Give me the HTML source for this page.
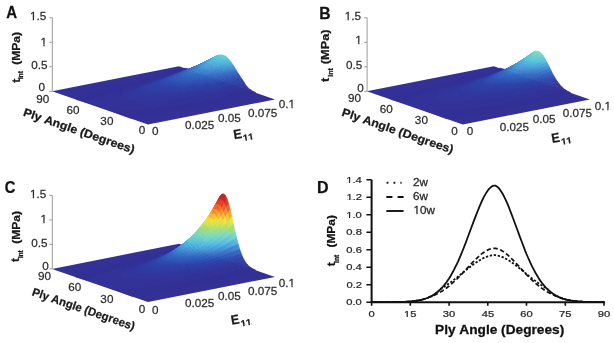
<!DOCTYPE html>
<html><head><meta charset="utf-8"><style>
html,body{margin:0;padding:0;background:#fff;width:614px;height:343px;overflow:hidden}
svg{display:block;filter:blur(.35px)}
text{font-family:"Liberation Sans",sans-serif;stroke-width:.25px;font-kerning:none}
.a{fill:#333096;stroke:#333096}.b{fill:#333399;stroke:#333399}.c{fill:#33369c;stroke:#33369c}.d{fill:#303ca2;stroke:#303ca2}.e{fill:#3042a8;stroke:#3042a8}.f{fill:#2d48ab;stroke:#2d48ab}.g{fill:#3051b4;stroke:#3051b4}.h{fill:#335dba;stroke:#335dba}.i{fill:#3366c3;stroke:#3366c3}.j{fill:#3978c9;stroke:#3978c9}.k{fill:#3f87cf;stroke:#3f87cf}.l{fill:#4599d8;stroke:#4599d8}.m{fill:#4ba5db;stroke:#4ba5db}.n{fill:#51b1db;stroke:#51b1db}.o{fill:#57bdde;stroke:#57bdde}.p{fill:#5ac6de;stroke:#5ac6de}.q{fill:#60c9d8;stroke:#60c9d8}.r{fill:#63c9d5;stroke:#63c9d5}.s{fill:#66ccd2;stroke:#66ccd2}.t{fill:#66ccd5;stroke:#66ccd5}.u{fill:#5dc6db;stroke:#5dc6db}.v{fill:#57c0de;stroke:#57c0de}.w{fill:#51b4db;stroke:#51b4db}.x{fill:#4593d5;stroke:#4593d5}.y{fill:#3c81cc;stroke:#3c81cc}.z{fill:#366cc6;stroke:#366cc6}.ab{fill:#335dbd;stroke:#335dbd}.bb{fill:#2d45ab;stroke:#2d45ab}.cb{fill:#303fa5;stroke:#303fa5}.db{fill:#30399f;stroke:#30399f}.eb{fill:#304eb1;stroke:#304eb1}.fb{fill:#3057b7;stroke:#3057b7}.gb{fill:#3363c0;stroke:#3363c0}.hb{fill:#366fc6;stroke:#366fc6}.ib{fill:#4290d2;stroke:#4290d2}.jb{fill:#489fd8;stroke:#489fd8}.kb{fill:#4eabdb;stroke:#4eabdb}.lb{fill:#5ac3de;stroke:#5ac3de}.mb{fill:#54b7db;stroke:#54b7db}.nb{fill:#4eaedb;stroke:#4eaedb}.ob{fill:#3c7bcc;stroke:#3c7bcc}.pb{fill:#3369c3;stroke:#3369c3}.qb{fill:#3051b1;stroke:#3051b1}.rb{fill:#2d42a8;stroke:#2d42a8}.sb{fill:#304bae;stroke:#304bae}.tb{fill:#3054b4;stroke:#3054b4}.ub{fill:#3360bd;stroke:#3360bd}.vb{fill:#4596d5;stroke:#4596d5}.wb{fill:#4ba2db;stroke:#4ba2db}.xb{fill:#54bade;stroke:#54bade}.yb{fill:#3f8acf;stroke:#3f8acf}.zb{fill:#335aba;stroke:#335aba}.ac{fill:#33399f;stroke:#33399f}.bc{fill:#3048ab;stroke:#3048ab}.cc{fill:#3366c0;stroke:#3366c0}.dc{fill:#3672c6;stroke:#3672c6}.ec{fill:#428dd2;stroke:#428dd2}.fc{fill:#4899d8;stroke:#4899d8}.gc{fill:#54b4db;stroke:#54b4db}.hc{fill:#4ea8db;stroke:#4ea8db}.ic{fill:#3f84cf;stroke:#3f84cf}.jc{fill:#3972c6;stroke:#3972c6}.kc{fill:#366cc3;stroke:#366cc3}.lc{fill:#4293d5;stroke:#4293d5}.mc{fill:#489cd8;stroke:#489cd8}.nc{fill:#51aedb;stroke:#51aedb}.oc{fill:#3c7ecc;stroke:#3c7ecc}.pc{fill:#3f8ad2;stroke:#3f8ad2}.qc{fill:#4ba2d8;stroke:#4ba2d8}.rc{fill:#304bb1;stroke:#304bb1}.sc{fill:#305ab7;stroke:#305ab7}.tc{fill:#3363bd;stroke:#3363bd}.uc{fill:#3f81cc;stroke:#3f81cc}.vc{fill:#48a2d8;stroke:#48a2d8}.wc{fill:#3054b7;stroke:#3054b7}.xc{fill:#3c7bc9;stroke:#3c7bc9}.yc{fill:#428ad2;stroke:#428ad2}.zc{fill:#3975c9;stroke:#3975c9}.ad{fill:#3048ae;stroke:#3048ae}.bd{fill:#3f81cf;stroke:#3f81cf}.cd{fill:#3669c3;stroke:#3669c3}.dd{fill:#305aba;stroke:#305aba}.ed{fill:#6ccfcf;stroke:#6ccfcf}.fd{fill:#72d5c6;stroke:#72d5c6}.gd{fill:#78d8c3;stroke:#78d8c3}.hd{fill:#7bd8bd;stroke:#7bd8bd}.id{fill:#7bd8c0;stroke:#7bd8c0}.jd{fill:#6fd2c9;stroke:#6fd2c9}.kd{fill:#69cfcf;stroke:#69cfcf}.ld{fill:#6fd2cc;stroke:#6fd2cc}.md{fill:#72d2c9;stroke:#72d2c9}.nd{fill:#6ccfcc;stroke:#6ccfcc}.od{fill:#54badb;stroke:#54badb}.pd{fill:#4ba8db;stroke:#4ba8db}.qd{fill:#4290d5;stroke:#4290d5}.rd{fill:#63ccd5;stroke:#63ccd5}.sd{fill:#3975c6;stroke:#3975c6}.td{fill:#57bade;stroke:#57bade}.ud{fill:#397bc9;stroke:#397bc9}.vd{fill:#87dbae;stroke:#87dbae}.wd{fill:#b4de6c;stroke:#b4de6c}.xd{fill:#ede43f;stroke:#ede43f}.yd{fill:#f3ae30;stroke:#f3ae30}.zd{fill:#f0782a;stroke:#f0782a}.ae{fill:#e74527;stroke:#e74527}.be{fill:#d83024;stroke:#d83024}.ce{fill:#c92124;stroke:#c92124}.de{fill:#ba2121;stroke:#ba2121}.ee{fill:#bd2121;stroke:#bd2121}.fe{fill:#cf2424;stroke:#cf2424}.ge{fill:#de3924;stroke:#de3924}.he{fill:#ed6627;stroke:#ed6627}.ie{fill:#f6a52d;stroke:#f6a52d}.je{fill:#eae43f;stroke:#eae43f}.ke{fill:#a8de7b;stroke:#a8de7b}.le{fill:#75d8c3;stroke:#75d8c3}.me{fill:#75d5c6;stroke:#75d5c6}.ne{fill:#9cdb8d;stroke:#9cdb8d}.oe{fill:#cce157;stroke:#cce157}.pe{fill:#f3d536;stroke:#f3d536}.qe{fill:#f6a22d;stroke:#f6a22d}.re{fill:#f0752a;stroke:#f0752a}.se{fill:#ea5427;stroke:#ea5427}.te{fill:#e13f24;stroke:#e13f24}.ue{fill:#de3624;stroke:#de3624}.ve{fill:#e44227;stroke:#e44227}.we{fill:#ed6027;stroke:#ed6027}.xe{fill:#f3902d;stroke:#f3902d}.ye{fill:#f3c936;stroke:#f3c936}.ze{fill:#cfe154;stroke:#cfe154}.af{fill:#99db90;stroke:#99db90}.bf{fill:#69ccd2;stroke:#69ccd2}.cf{fill:#aede72;stroke:#aede72}.df{fill:#dbe14b;stroke:#dbe14b}.ef{fill:#f3cc36;stroke:#f3cc36}.ff{fill:#f0812a;stroke:#f0812a}.gf{fill:#ed692a;stroke:#ed692a}.hf{fill:#ed6f2a;stroke:#ed6f2a}.if{fill:#f38d2a;stroke:#f38d2a}.jf{fill:#f3b730;stroke:#f3b730}.kf{fill:#b7de69;stroke:#b7de69}.lf{fill:#8adba8;stroke:#8adba8}.mf{fill:#96db96;stroke:#96db96}.nf{fill:#bdde66;stroke:#bdde66}.of{fill:#e4e445;stroke:#e4e445}.pf{fill:#f3992d;stroke:#f3992d}.qf{fill:#f38d2d;stroke:#f38d2d}.rf{fill:#f39c2d;stroke:#f39c2d}.sf{fill:#f3db39;stroke:#f3db39}.tf{fill:#a2de84;stroke:#a2de84}.uf{fill:#81dbb4;stroke:#81dbb4}.vf{fill:#c3e15d;stroke:#c3e15d}.wf{fill:#f3c333;stroke:#f3c333}.xf{fill:#f3b733;stroke:#f3b733}.yf{fill:#dbe14e;stroke:#dbe14e}.zf{fill:#90db9f;stroke:#90db9f}.ag{fill:#72d5c9;stroke:#72d5c9}.bg{fill:#8ddba5;stroke:#8ddba5}.cg{fill:#ede43c;stroke:#ede43c}.dg{fill:#f3de39;stroke:#f3de39}.eg{fill:#d8e14e;stroke:#d8e14e}.fg{fill:#bdde63;stroke:#bdde63}.gg{fill:#9fdb8a;stroke:#9fdb8a}.hg{fill:#81dbb7;stroke:#81dbb7}.ig{fill:#78d8c0;stroke:#78d8c0}.jg{fill:#93db9c;stroke:#93db9c}.kg{fill:#d5e151;stroke:#d5e151}.lg{fill:#cce15a;stroke:#cce15a}.mg{fill:#bade66;stroke:#bade66}.ng{fill:#a5de81;stroke:#a5de81}.og{fill:#8adba5;stroke:#8adba5}.pg{fill:#7ed8ba;stroke:#7ed8ba}.qg{fill:#b4de69;stroke:#b4de69}.rg{fill:#a2db87;stroke:#a2db87}.sg{fill:#60c6d8;stroke:#60c6d8}.tg{fill:#96db93;stroke:#96db93}.ug{fill:#6cd2cc;stroke:#6cd2cc}.vg{fill:#87dbab;stroke:#87dbab}.wg{fill:#63c9d8;stroke:#63c9d8}.xg{fill:#75d5c3;stroke:#75d5c3}.yg{fill:#69cccf;stroke:#69cccf}
</style></head><body>
<svg width="614" height="343" viewBox="0 0 614 343" font-family="Liberation Sans, sans-serif">
<rect width="614" height="343" fill="#fff"/>
<path fill="#333096" d="M148.0 124.5 L275.0 99.4 L179.0 66.2 L52.0 91.3 Z"/>
<g transform="scale(.1)" stroke-width="6">
<path class="a" d="M1918 694l-16 -1 -16 -3 -16 -4 -16 -4 -26 5 16 5 16 4 16 3 16 1z"/>
<path class="b" d="M1950 692l-16 2 -16 0 -26 6 16 1 16 -2z"/>
<path class="c" d="M1982 678l-16 9 -16 5 -26 7 16 -4 16 -8z"/>
<path class="d" d="M1998 665l-16 13 -26 9 16 -11z"/>
<path class="e" d="M2014 655l-16 10 -26 11 16 -12z"/>
<path class="f" d="M2030 646l-16 9 -26 9 16 -8z"/>
<path class="g" d="M2046 636l-16 10 -26 10 16 -10z"/>
<path class="h" d="M2062 625l-16 11 -26 10 16 -10z"/>
<path class="i" d="M2078 614l-16 11 -26 11 16 -10z"/>
<path class="j" d="M2094 602l-16 12 -26 12 16 -11z"/>
<path class="k" d="M2110 591l-16 11 -26 13 16 -11z"/>
<path class="l" d="M2126 580l-16 11 -26 13 16 -10z"/>
<path class="m" d="M2142 570l-16 10 -26 14 16 -9z"/>
<path class="n" d="M2158 561l-16 9 -26 15 16 -8z"/>
<path class="o" d="M2174 555l-16 6 -26 16 16 -6z"/>
<path class="p" d="M2190 550l-16 5 -26 16 16 -4z"/>
<path class="q" d="M2206 549l-16 1 -26 17 16 -2z"/>
<path class="r" d="M2222 550l-16 -1 -26 16 16 1z"/>
<path class="s" d="M2238 554l-16 -4 -26 16 16 5z"/>
<path class="t" d="M2254 561l-16 -7 -26 17 16 7z"/>
<path class="r" d="M2270 573l-16 -12 -26 17 16 12z"/>
<path class="u" d="M2286 589l-16 -16 -26 17 16 15z"/>
<path class="v" d="M2302 609l-16 -20 -26 16 16 18z"/>
<path class="w" d="M2318 631l-16 -22 -26 14 16 21z"/>
<path class="m" d="M2334 655l-16 -24 -26 13 16 23z"/>
<path class="x" d="M2350 681l-16 -26 -26 12 16 24z"/>
<path class="y" d="M2366 707l-16 -26 -26 10 16 25z"/>
<path class="z" d="M2382 733l-16 -26 -26 9 16 24z"/>
<path class="ab" d="M2398 758l-16 -25 -26 7 16 24z"/>
<path class="g" d="M2414 782l-16 -24 -26 6 16 23z"/>
<path class="bb" d="M2430 804l-16 -22 -26 5 16 22z"/>
<path class="cb" d="M2446 832l-16 -28 -26 5 16 27z"/>
<path class="db" d="M2462 856l-16 -24 -26 4 16 23z"/>
<path class="c" d="M2478 874l-16 -18 -26 3 16 19z"/>
<path class="b" d="M2510 901l-16 -12 -16 -15 -26 4 16 15 16 12z"/>
<path class="a" d="M2558 926l-16 -8 -16 -8 -16 -9 -26 4 16 10 16 8 16 7z"/>
<path class="a" d="M1892 700l-16 -1 -16 -3 -16 -4 -16 -5 -27 6 16 4 16 4 16 3 16 3z"/>
<path class="b" d="M1940 695l-16 4 -16 2 -16 -1 -27 7 16 0 16 -1 16 -4z"/>
<path class="c" d="M1956 687l-16 8 -27 7 16 -6z"/>
<path class="db" d="M1972 676l-16 11 -27 9 16 -10z"/>
<path class="cb" d="M1988 664l-16 12 -27 10 16 -13z"/>
<path class="bb" d="M2004 656l-16 8 -27 9 16 -8z"/>
<path class="eb" d="M2020 646l-16 10 -27 9 16 -9z"/>
<path class="fb" d="M2036 636l-16 10 -27 10 16 -9z"/>
<path class="gb" d="M2052 626l-16 10 -27 11 16 -10z"/>
<path class="hb" d="M2068 615l-16 11 -27 11 16 -10z"/>
<path class="y" d="M2084 604l-16 11 -27 12 16 -10z"/>
<path class="ib" d="M2100 594l-16 10 -27 13 16 -9z"/>
<path class="jb" d="M2116 585l-16 9 -27 14 16 -9z"/>
<path class="kb" d="M2132 577l-16 8 -27 14 16 -7z"/>
<path class="w" d="M2148 571l-16 6 -27 15 16 -6z"/>
<path class="o" d="M2164 567l-16 4 -27 15 16 -3z"/>
<path class="lb" d="M2180 565l-16 2 -27 16 16 -2z"/>
<path class="u" d="M2244 590l-16 -12 -16 -7 -16 -5 -16 -1 -27 16 16 2 16 4 16 7 16 11z"/>
<path class="v" d="M2260 605l-16 -15 -27 15 16 15z"/>
<path class="mb" d="M2276 623l-16 -18 -27 15 16 17z"/>
<path class="nb" d="M2292 644l-16 -21 -27 14 16 20z"/>
<path class="jb" d="M2308 667l-16 -23 -27 13 16 21z"/>
<path class="ib" d="M2324 691l-16 -24 -27 11 16 23z"/>
<path class="ob" d="M2340 716l-16 -25 -27 10 16 24z"/>
<path class="pb" d="M2356 740l-16 -24 -27 9 16 23z"/>
<path class="h" d="M2372 764l-16 -24 -27 8 16 23z"/>
<path class="qb" d="M2388 787l-16 -23 -27 7 16 22z"/>
<path class="bb" d="M2404 809l-16 -22 -27 6 16 21z"/>
<path class="cb" d="M2420 836l-16 -27 -27 5 16 26z"/>
<path class="db" d="M2436 859l-16 -23 -27 4 16 23z"/>
<path class="c" d="M2452 878l-16 -19 -27 4 16 19z"/>
<path class="b" d="M2484 905l-16 -12 -16 -15 -27 4 16 15 16 12z"/>
<path class="a" d="M2532 930l-16 -7 -16 -8 -16 -10 -27 4 16 10 16 9 16 7z"/>
<path class="a" d="M1865 707l-16 -3 -16 -3 -16 -4 -26 6 16 4 16 3 16 3z"/>
<path class="b" d="M1913 702l-16 4 -16 1 -16 0 -26 6 16 1 16 -1 16 -3z"/>
<path class="c" d="M1929 696l-16 6 -26 8 16 -6z"/>
<path class="db" d="M1945 686l-16 10 -26 8 16 -9z"/>
<path class="cb" d="M1961 673l-16 13 -26 9 16 -12z"/>
<path class="rb" d="M1977 665l-16 8 -26 10 16 -9z"/>
<path class="sb" d="M1993 656l-16 9 -26 9 16 -8z"/>
<path class="tb" d="M2009 647l-16 9 -26 10 16 -8z"/>
<path class="ub" d="M2025 637l-16 10 -26 11 16 -10z"/>
<path class="pb" d="M2041 627l-16 10 -26 11 16 -9z"/>
<path class="j" d="M2057 617l-16 10 -26 12 16 -9z"/>
<path class="k" d="M2073 608l-16 9 -26 13 16 -9z"/>
<path class="vb" d="M2089 599l-16 9 -26 13 16 -8z"/>
<path class="wb" d="M2105 592l-16 7 -26 14 16 -7z"/>
<path class="kb" d="M2121 586l-16 6 -26 14 16 -5z"/>
<path class="w" d="M2137 583l-16 3 -26 15 16 -3z"/>
<path class="xb" d="M2153 581l-16 2 -26 15 16 -1z"/>
<path class="v" d="M2201 594l-16 -7 -16 -4 -16 -2 -26 16 16 2 16 4 16 7z"/>
<path class="o" d="M2217 605l-16 -11 -26 16 16 11z"/>
<path class="mb" d="M2233 620l-16 -15 -26 16 16 13z"/>
<path class="n" d="M2249 637l-16 -17 -26 14 16 17z"/>
<path class="m" d="M2265 657l-16 -20 -26 14 16 18z"/>
<path class="l" d="M2281 678l-16 -21 -26 12 16 21z"/>
<path class="yb" d="M2297 701l-16 -23 -26 12 16 21z"/>
<path class="j" d="M2313 725l-16 -24 -26 10 16 23z"/>
<path class="i" d="M2329 748l-16 -23 -26 9 16 22z"/>
<path class="zb" d="M2345 771l-16 -23 -26 8 16 22z"/>
<path class="qb" d="M2361 793l-16 -22 -26 7 16 21z"/>
<path class="bb" d="M2377 814l-16 -21 -26 6 16 21z"/>
<path class="cb" d="M2393 840l-16 -26 -26 6 16 25z"/>
<path class="db" d="M2409 863l-16 -23 -26 5 16 23z"/>
<path class="c" d="M2425 882l-16 -19 -26 5 16 18z"/>
<path class="b" d="M2473 919l-16 -10 -16 -12 -16 -15 -26 4 16 15 16 13 16 10z"/>
<path class="a" d="M2521 942l-16 -7 -16 -7 -16 -9 -26 5 16 9 16 7 16 7z"/>
<path class="a" d="M1839 713l-16 -3 -16 -3 -16 -4 -27 5 16 4 16 4 16 2z"/>
<path class="b" d="M1887 710l-16 3 -16 1 -16 -1 -27 5 16 2 16 0 16 -3z"/>
<path class="c" d="M1903 704l-16 6 -27 7 16 -4z"/>
<path class="ac" d="M1919 695l-16 9 -27 9 16 -8z"/>
<path class="d" d="M1935 683l-16 12 -27 10 16 -12z"/>
<path class="e" d="M1951 674l-16 9 -27 10 16 -10z"/>
<path class="bc" d="M1967 666l-16 8 -27 9 16 -7z"/>
<path class="g" d="M1983 658l-16 8 -27 10 16 -8z"/>
<path class="zb" d="M1999 648l-16 10 -27 10 16 -9z"/>
<path class="cc" d="M2015 639l-16 9 -27 11 16 -8z"/>
<path class="dc" d="M2031 630l-16 9 -27 12 16 -9z"/>
<path class="y" d="M2047 621l-16 9 -27 12 16 -8z"/>
<path class="ec" d="M2063 613l-16 8 -27 13 16 -7z"/>
<path class="fc" d="M2079 606l-16 7 -27 14 16 -7z"/>
<path class="m" d="M2095 601l-16 5 -27 14 16 -4z"/>
<path class="kb" d="M2111 598l-16 3 -27 15 16 -3z"/>
<path class="n" d="M2127 597l-16 1 -27 15 16 -1z"/>
<path class="mb" d="M2175 610l-16 -7 -16 -4 -16 -2 -27 15 16 2 16 5 16 7z"/>
<path class="gc" d="M2191 621l-16 -11 -27 16 16 10z"/>
<path class="n" d="M2207 634l-16 -13 -27 15 16 13z"/>
<path class="hc" d="M2223 651l-16 -17 -27 15 16 15z"/>
<path class="jb" d="M2239 669l-16 -18 -27 13 16 18z"/>
<path class="x" d="M2255 690l-16 -21 -27 13 16 19z"/>
<path class="ic" d="M2271 711l-16 -21 -27 11 16 21z"/>
<path class="jc" d="M2287 734l-16 -23 -27 11 16 21z"/>
<path class="cc" d="M2303 756l-16 -22 -27 9 16 21z"/>
<path class="zb" d="M2319 778l-16 -22 -27 8 16 21z"/>
<path class="eb" d="M2335 799l-16 -21 -27 7 16 21z"/>
<path class="bb" d="M2351 820l-16 -21 -27 7 16 19z"/>
<path class="cb" d="M2367 845l-16 -25 -27 5 16 25z"/>
<path class="db" d="M2383 868l-16 -23 -27 5 16 22z"/>
<path class="c" d="M2399 886l-16 -18 -27 4 16 19z"/>
<path class="b" d="M2447 924l-16 -10 -16 -13 -16 -15 -27 5 16 15 16 12 16 11z"/>
<path class="a" d="M2495 947l-16 -7 -16 -7 -16 -9 -27 5 16 8 16 8 16 7z"/>
<path class="a" d="M1812 718l-16 -2 -16 -4 -16 -4 -26 6 16 4 16 4 16 2z"/>
<path class="b" d="M1860 717l-16 3 -16 0 -16 -2 -26 6 16 2 16 0 16 -1z"/>
<path class="c" d="M1892 705l-16 8 -16 4 -26 8 16 -4 16 -7z"/>
<path class="d" d="M1908 693l-16 12 -26 9 16 -10z"/>
<path class="cb" d="M1924 683l-16 10 -26 11 16 -12z"/>
<path class="bb" d="M1940 676l-16 7 -26 9 16 -6z"/>
<path class="eb" d="M1956 668l-16 8 -26 10 16 -8z"/>
<path class="fb" d="M1972 659l-16 9 -26 10 16 -8z"/>
<path class="ub" d="M1988 651l-16 8 -26 11 16 -8z"/>
<path class="kc" d="M2004 642l-16 9 -26 11 16 -8z"/>
<path class="j" d="M2020 634l-16 8 -26 12 16 -7z"/>
<path class="k" d="M2036 627l-16 7 -26 13 16 -7z"/>
<path class="lc" d="M2052 620l-16 7 -26 13 16 -6z"/>
<path class="mc" d="M2068 616l-16 4 -26 14 16 -4z"/>
<path class="m" d="M2084 613l-16 3 -26 14 16 -2z"/>
<path class="kb" d="M2100 612l-16 1 -26 15 16 -1z"/>
<path class="nc" d="M2116 614l-16 -2 -26 15 16 2z"/>
<path class="n" d="M2148 626l-16 -7 -16 -5 -26 15 16 5 16 7z"/>
<path class="nb" d="M2164 636l-16 -10 -26 15 16 9z"/>
<path class="hc" d="M2180 649l-16 -13 -26 14 16 13z"/>
<path class="wb" d="M2196 664l-16 -15 -26 14 16 14z"/>
<path class="l" d="M2212 682l-16 -18 -26 13 16 17z"/>
<path class="ec" d="M2228 701l-16 -19 -26 12 16 18z"/>
<path class="oc" d="M2244 722l-16 -21 -26 11 16 20z"/>
<path class="hb" d="M2260 743l-16 -21 -26 10 16 20z"/>
<path class="gb" d="M2276 764l-16 -21 -26 9 16 20z"/>
<path class="fb" d="M2292 785l-16 -21 -26 8 16 21z"/>
<path class="eb" d="M2308 806l-16 -21 -26 8 16 19z"/>
<path class="bb" d="M2324 825l-16 -19 -26 6 16 19z"/>
<path class="cb" d="M2340 850l-16 -25 -26 6 16 24z"/>
<path class="db" d="M2356 872l-16 -22 -26 5 16 22z"/>
<path class="c" d="M2372 891l-16 -19 -26 5 16 18z"/>
<path class="b" d="M2420 929l-16 -11 -16 -12 -16 -15 -26 4 16 15 16 13 16 10z"/>
<path class="a" d="M2468 952l-16 -7 -16 -8 -16 -8 -26 4 16 9 16 8 16 7z"/>
<path class="a" d="M1802 726l-16 -2 -16 -2 -16 -4 -16 -4 -27 5 16 4 16 4 16 3 16 2z"/>
<path class="b" d="M1850 721l-16 4 -16 1 -16 0 -27 6 16 1 16 -1 16 -4z"/>
<path class="c" d="M1866 714l-16 7 -27 7 16 -6z"/>
<path class="db" d="M1882 704l-16 10 -27 8 16 -8z"/>
<path class="cb" d="M1898 692l-16 12 -27 10 16 -13z"/>
<path class="rb" d="M1914 686l-16 6 -27 9 16 -6z"/>
<path class="sb" d="M1930 678l-16 8 -27 9 16 -7z"/>
<path class="tb" d="M1946 670l-16 8 -27 10 16 -7z"/>
<path class="h" d="M1962 662l-16 8 -27 11 16 -8z"/>
<path class="cc" d="M1978 654l-16 8 -27 11 16 -7z"/>
<path class="dc" d="M1994 647l-16 7 -27 12 16 -7z"/>
<path class="oc" d="M2010 640l-16 7 -27 12 16 -6z"/>
<path class="pc" d="M2026 634l-16 6 -27 13 16 -6z"/>
<path class="x" d="M2042 630l-16 4 -27 13 16 -3z"/>
<path class="mc" d="M2058 628l-16 2 -27 14 16 -2z"/>
<path class="wb" d="M2074 627l-16 1 -27 14 16 0z"/>
<path class="m" d="M2090 629l-16 -2 -27 15 16 2z"/>
<path class="hc" d="M2122 641l-16 -7 -16 -5 -27 15 16 4 16 7z"/>
<path class="m" d="M2138 650l-16 -9 -27 14 16 9z"/>
<path class="qc" d="M2154 663l-16 -13 -27 14 16 12z"/>
<path class="mc" d="M2170 677l-16 -14 -27 13 16 14z"/>
<path class="ib" d="M2186 694l-16 -17 -27 13 16 16z"/>
<path class="ic" d="M2202 712l-16 -18 -27 12 16 18z"/>
<path class="j" d="M2218 732l-16 -20 -27 12 16 18z"/>
<path class="kc" d="M2234 752l-16 -20 -27 10 16 19z"/>
<path class="ub" d="M2250 772l-16 -20 -27 9 16 20z"/>
<path class="fb" d="M2266 793l-16 -21 -27 9 16 19z"/>
<path class="rc" d="M2282 812l-16 -19 -27 7 16 19z"/>
<path class="bb" d="M2298 831l-16 -19 -27 7 16 18z"/>
<path class="cb" d="M2314 855l-16 -24 -27 6 16 24z"/>
<path class="db" d="M2330 877l-16 -22 -27 6 16 21z"/>
<path class="c" d="M2346 895l-16 -18 -27 5 16 18z"/>
<path class="b" d="M2394 933l-16 -10 -16 -13 -16 -15 -27 5 16 15 16 12 16 11z"/>
<path class="a" d="M2442 957l-16 -7 -16 -8 -16 -9 -27 5 16 9 16 8 16 7z"/>
<path class="a" d="M1775 732l-16 -2 -16 -3 -16 -4 -16 -4 -26 5 16 5 16 4 16 3 16 2z"/>
<path class="b" d="M1823 728l-16 4 -16 1 -16 -1 -26 6 16 1 16 0 16 -3z"/>
<path class="c" d="M1839 722l-16 6 -26 8 16 -5z"/>
<path class="db" d="M1855 714l-16 8 -26 9 16 -8z"/>
<path class="d" d="M1871 701l-16 13 -26 9 16 -11z"/>
<path class="e" d="M1887 695l-16 6 -26 11 16 -8z"/>
<path class="bc" d="M1903 688l-16 7 -26 9 16 -6z"/>
<path class="qb" d="M1919 681l-16 7 -26 10 16 -7z"/>
<path class="sc" d="M1935 673l-16 8 -26 10 16 -7z"/>
<path class="tc" d="M1951 666l-16 7 -26 11 16 -7z"/>
<path class="kc" d="M1967 659l-16 7 -26 11 16 -6z"/>
<path class="j" d="M1983 653l-16 6 -26 12 16 -6z"/>
<path class="uc" d="M1999 647l-16 6 -26 12 16 -5z"/>
<path class="ec" d="M2015 644l-16 3 -26 13 16 -3z"/>
<path class="x" d="M2031 642l-16 2 -26 13 16 -2z"/>
<path class="mc" d="M2047 642l-16 0 -26 13 16 1z"/>
<path class="jb" d="M2063 644l-16 -2 -26 14 16 2z"/>
<path class="vc" d="M2095 655l-16 -7 -16 -4 -26 14 16 4 16 7z"/>
<path class="jb" d="M2111 664l-16 -9 -26 14 16 9z"/>
<path class="l" d="M2127 676l-16 -12 -26 14 16 12z"/>
<path class="x" d="M2143 690l-16 -14 -26 14 16 13z"/>
<path class="pc" d="M2159 706l-16 -16 -26 13 16 15z"/>
<path class="oc" d="M2175 724l-16 -18 -26 12 16 17z"/>
<path class="jc" d="M2191 742l-16 -18 -26 11 16 17z"/>
<path class="i" d="M2207 761l-16 -19 -26 10 16 18z"/>
<path class="h" d="M2223 781l-16 -20 -26 9 16 19z"/>
<path class="tb" d="M2239 800l-16 -19 -26 8 16 18z"/>
<path class="sb" d="M2255 819l-16 -19 -26 7 16 19z"/>
<path class="rb" d="M2271 837l-16 -18 -26 7 16 17z"/>
<path class="cb" d="M2287 861l-16 -24 -26 6 16 24z"/>
<path class="db" d="M2303 882l-16 -21 -26 6 16 20z"/>
<path class="c" d="M2319 900l-16 -18 -26 5 16 18z"/>
<path class="b" d="M2367 938l-16 -11 -16 -12 -16 -15 -26 5 16 14 16 13 16 10z"/>
<path class="a" d="M2431 968l-16 -6 -16 -7 -16 -8 -16 -9 -26 4 16 10 16 8 16 7 16 6z"/>
<path class="a" d="M1749 738l-16 -2 -16 -3 -16 -4 -16 -5 -27 6 16 4 16 4 16 4 16 2z"/>
<path class="b" d="M1797 736l-16 3 -16 0 -16 -1 -27 6 16 2 16 -1 16 -2z"/>
<path class="c" d="M1829 723l-16 8 -16 5 -27 7 16 -4 16 -7z"/>
<path class="d" d="M1845 712l-16 11 -27 9 16 -9z"/>
<path class="cb" d="M1861 704l-16 8 -27 11 16 -10z"/>
<path class="bb" d="M1877 698l-16 6 -27 9 16 -6z"/>
<path class="eb" d="M1893 691l-16 7 -27 9 16 -6z"/>
<path class="wc" d="M1909 684l-16 7 -27 10 16 -6z"/>
<path class="ab" d="M1925 677l-16 7 -27 11 16 -7z"/>
<path class="cc" d="M1941 671l-16 6 -27 11 16 -6z"/>
<path class="hb" d="M1957 665l-16 6 -27 11 16 -5z"/>
<path class="xc" d="M1973 660l-16 5 -27 12 16 -4z"/>
<path class="ic" d="M1989 657l-16 3 -27 13 16 -3z"/>
<path class="ec" d="M2005 655l-16 2 -27 13 16 -1z"/>
<path class="x" d="M2021 656l-16 -1 -27 14 16 0z"/>
<path class="vb" d="M2037 658l-16 -2 -27 13 16 3z"/>
<path class="l" d="M2069 669l-16 -7 -16 -4 -27 14 16 4 16 7z"/>
<path class="vb" d="M2085 678l-16 -9 -27 14 16 9z"/>
<path class="lc" d="M2101 690l-16 -12 -27 14 16 11z"/>
<path class="yc" d="M2117 703l-16 -13 -27 13 16 12z"/>
<path class="ic" d="M2133 718l-16 -15 -27 12 16 15z"/>
<path class="j" d="M2149 735l-16 -17 -27 12 16 15z"/>
<path class="hb" d="M2165 752l-16 -17 -27 10 16 17z"/>
<path class="gb" d="M2181 770l-16 -18 -27 10 16 18z"/>
<path class="zb" d="M2197 789l-16 -19 -27 10 16 17z"/>
<path class="g" d="M2213 807l-16 -18 -27 8 16 18z"/>
<path class="sb" d="M2229 826l-16 -19 -27 8 16 17z"/>
<path class="rb" d="M2245 843l-16 -17 -27 6 16 18z"/>
<path class="cb" d="M2261 867l-16 -24 -27 7 16 23z"/>
<path class="db" d="M2277 887l-16 -20 -27 6 16 20z"/>
<path class="c" d="M2293 905l-16 -18 -27 6 16 17z"/>
<path class="b" d="M2341 942l-16 -10 -16 -13 -16 -14 -27 5 16 14 16 13 16 10z"/>
<path class="a" d="M2405 973l-16 -6 -16 -7 -16 -8 -16 -10 -27 5 16 9 16 8 16 8 16 6z"/>
<path class="a" d="M1722 744l-16 -2 -16 -4 -16 -4 -26 6 16 4 16 3 16 3z"/>
<path class="b" d="M1770 743l-16 2 -16 1 -16 -2 -26 6 16 2 16 0 16 -1z"/>
<path class="c" d="M1802 732l-16 7 -16 4 -26 8 16 -4 16 -6z"/>
<path class="db" d="M1818 723l-16 9 -26 9 16 -8z"/>
<path class="cb" d="M1834 713l-16 10 -26 10 16 -11z"/>
<path class="rb" d="M1850 707l-16 6 -26 9 16 -6z"/>
<path class="sb" d="M1866 701l-16 6 -26 9 16 -5z"/>
<path class="g" d="M1882 695l-16 6 -26 10 16 -6z"/>
<path class="zb" d="M1898 688l-16 7 -26 10 16 -6z"/>
<path class="tc" d="M1914 682l-16 6 -26 11 16 -5z"/>
<path class="pb" d="M1930 677l-16 5 -26 12 16 -5z"/>
<path class="zc" d="M1946 673l-16 4 -26 12 16 -4z"/>
<path class="oc" d="M1962 670l-16 3 -26 12 16 -2z"/>
<path class="ic" d="M1978 669l-16 1 -26 13 16 -1z"/>
<path class="pc" d="M1994 669l-16 0 -26 13 16 0z"/>
<path class="ec" d="M2010 672l-16 -3 -26 13 16 3z"/>
<path class="ib" d="M2042 683l-16 -7 -16 -4 -26 13 16 5 16 6z"/>
<path class="ec" d="M2058 692l-16 -9 -26 13 16 9z"/>
<path class="pc" d="M2074 703l-16 -11 -26 13 16 10z"/>
<path class="ic" d="M2090 715l-16 -12 -26 12 16 12z"/>
<path class="ob" d="M2106 730l-16 -15 -26 12 16 14z"/>
<path class="jc" d="M2122 745l-16 -15 -26 11 16 15z"/>
<path class="pb" d="M2138 762l-16 -17 -26 11 16 16z"/>
<path class="ub" d="M2154 780l-16 -18 -26 10 16 17z"/>
<path class="sc" d="M2170 797l-16 -17 -26 9 16 17z"/>
<path class="qb" d="M2186 815l-16 -18 -26 9 16 17z"/>
<path class="ad" d="M2202 832l-16 -17 -26 8 16 16z"/>
<path class="rb" d="M2218 850l-16 -18 -26 7 16 18z"/>
<path class="cb" d="M2234 873l-16 -23 -26 7 16 22z"/>
<path class="db" d="M2250 893l-16 -20 -26 6 16 19z"/>
<path class="c" d="M2266 910l-16 -17 -26 5 16 17z"/>
<path class="b" d="M2314 947l-16 -10 -16 -13 -16 -14 -26 5 16 14 16 12 16 11z"/>
<path class="a" d="M2378 978l-16 -6 -16 -8 -16 -8 -16 -9 -26 5 16 9 16 8 16 8 16 6z"/>
<path class="a" d="M1696 750l-16 -3 -16 -3 -16 -4 -27 5 16 4 16 4 16 3z"/>
<path class="b" d="M1760 747l-16 4 -16 1 -16 0 -16 -2 -27 6 16 2 16 1 16 -1 16 -3z"/>
<path class="c" d="M1776 741l-16 6 -27 8 16 -5z"/>
<path class="db" d="M1792 733l-16 8 -27 9 16 -7z"/>
<path class="cb" d="M1808 722l-16 11 -27 10 16 -10z"/>
<path class="e" d="M1824 716l-16 6 -27 11 16 -7z"/>
<path class="f" d="M1840 711l-16 5 -27 10 16 -6z"/>
<path class="eb" d="M1856 705l-16 6 -27 9 16 -5z"/>
<path class="fb" d="M1872 699l-16 6 -27 10 16 -5z"/>
<path class="ab" d="M1888 694l-16 5 -27 11 16 -5z"/>
<path class="cc" d="M1904 689l-16 5 -27 11 16 -4z"/>
<path class="z" d="M1920 685l-16 4 -27 12 16 -4z"/>
<path class="zc" d="M1936 683l-16 2 -27 12 16 -2z"/>
<path class="oc" d="M1952 682l-16 1 -27 12 16 -1z"/>
<path class="bd" d="M1968 682l-16 0 -27 12 16 1z"/>
<path class="k" d="M2032 705l-16 -9 -16 -6 -16 -5 -16 -3 -27 13 16 3 16 5 16 6 16 8z"/>
<path class="bd" d="M2048 715l-16 -10 -27 12 16 11z"/>
<path class="oc" d="M2064 727l-16 -12 -27 13 16 11z"/>
<path class="zc" d="M2080 741l-16 -14 -27 12 16 13z"/>
<path class="z" d="M2096 756l-16 -15 -27 11 16 15z"/>
<path class="cc" d="M2112 772l-16 -16 -27 11 16 15z"/>
<path class="h" d="M2128 789l-16 -17 -27 10 16 16z"/>
<path class="fb" d="M2144 806l-16 -17 -27 9 16 16z"/>
<path class="eb" d="M2160 823l-16 -17 -27 8 16 16z"/>
<path class="f" d="M2176 839l-16 -16 -27 7 16 16z"/>
<path class="e" d="M2192 857l-16 -18 -27 7 16 18z"/>
<path class="cb" d="M2208 879l-16 -22 -27 7 16 21z"/>
<path class="db" d="M2224 898l-16 -19 -27 6 16 19z"/>
<path class="c" d="M2240 915l-16 -17 -27 6 16 16z"/>
<path class="b" d="M2304 961l-16 -9 -16 -11 -16 -12 -16 -14 -27 5 16 14 16 12 16 11 16 9z"/>
<path class="a" d="M2352 983l-16 -6 -16 -8 -16 -8 -27 5 16 8 16 8 16 6z"/>
<path class="a" d="M1685 758l-16 -2 -16 -3 -16 -4 -16 -4 -26 6 16 4 16 4 16 3 16 2z"/>
<path class="b" d="M1733 755l-16 3 -16 1 -16 -1 -26 6 16 1 16 0 16 -2z"/>
<path class="c" d="M1749 750l-16 5 -26 8 16 -5z"/>
<path class="db" d="M1765 743l-16 7 -26 8 16 -6z"/>
<path class="d" d="M1781 733l-16 10 -26 9 16 -9z"/>
<path class="cb" d="M1797 726l-16 7 -26 10 16 -9z"/>
<path class="bb" d="M1813 720l-16 6 -26 8 16 -4z"/>
<path class="sb" d="M1829 715l-16 5 -26 10 16 -5z"/>
<path class="tb" d="M1845 710l-16 5 -26 10 16 -5z"/>
<path class="zb" d="M1861 705l-16 5 -26 10 16 -4z"/>
<path class="ub" d="M1877 701l-16 4 -26 11 16 -4z"/>
<path class="i" d="M1893 697l-16 4 -26 11 16 -3z"/>
<path class="hb" d="M1909 695l-16 2 -26 12 16 -2z"/>
<path class="zc" d="M1925 694l-16 1 -26 12 16 0z"/>
<path class="xc" d="M1941 695l-16 -1 -26 13 16 1z"/>
<path class="oc" d="M1957 698l-16 -3 -26 13 16 3z"/>
<path class="y" d="M1989 709l-16 -6 -16 -5 -26 13 16 4 16 7z"/>
<path class="oc" d="M2005 717l-16 -8 -26 13 16 8z"/>
<path class="ob" d="M2021 728l-16 -11 -26 13 16 10z"/>
<path class="zc" d="M2037 739l-16 -11 -26 12 16 11z"/>
<path class="hb" d="M2053 752l-16 -13 -26 12 16 12z"/>
<path class="pb" d="M2069 767l-16 -15 -26 11 16 14z"/>
<path class="tc" d="M2085 782l-16 -15 -26 10 16 15z"/>
<path class="zb" d="M2101 798l-16 -16 -26 10 16 15z"/>
<path class="tb" d="M2117 814l-16 -16 -26 9 16 15z"/>
<path class="eb" d="M2133 830l-16 -16 -26 8 16 16z"/>
<path class="bb" d="M2149 846l-16 -16 -26 8 16 16z"/>
<path class="e" d="M2165 864l-16 -18 -26 8 16 17z"/>
<path class="d" d="M2181 885l-16 -21 -26 7 16 21z"/>
<path class="db" d="M2197 904l-16 -19 -26 7 16 18z"/>
<path class="c" d="M2213 920l-16 -16 -26 6 16 15z"/>
<path class="b" d="M2277 966l-16 -9 -16 -11 -16 -12 -16 -14 -26 5 16 14 16 12 16 11 16 9z"/>
<path class="a" d="M2325 988l-16 -6 -16 -8 -16 -8 -26 5 16 8 16 8 16 6z"/>
<path class="a" d="M1659 764l-16 -2 -16 -3 -16 -4 -16 -4 -27 5 16 4 16 4 16 4 16 2z"/>
<path class="b" d="M1707 763l-16 2 -16 0 -16 -1 -27 6 16 2 16 0 16 -2z"/>
<path class="c" d="M1739 752l-16 6 -16 5 -27 7 16 -3 16 -6z"/>
<path class="d" d="M1755 743l-16 9 -27 9 16 -8z"/>
<path class="cb" d="M1771 734l-16 9 -27 10 16 -10z"/>
<path class="rb" d="M1787 730l-16 4 -27 9 16 -4z"/>
<path class="ad" d="M1803 725l-16 5 -27 9 16 -4z"/>
<path class="qb" d="M1819 720l-16 5 -27 10 16 -5z"/>
<path class="fb" d="M1835 716l-16 4 -27 10 16 -4z"/>
<path class="h" d="M1851 712l-16 4 -27 10 16 -3z"/>
<path class="gb" d="M1867 709l-16 3 -27 11 16 -3z"/>
<path class="pb" d="M1883 707l-16 2 -27 11 16 -1z"/>
<path class="hb" d="M1899 707l-16 0 -27 12 16 0z"/>
<path class="zc" d="M1915 708l-16 -1 -27 12 16 1z"/>
<path class="j" d="M1979 730l-16 -8 -16 -7 -16 -4 -16 -3 -27 12 16 3 16 5 16 6 16 8z"/>
<path class="zc" d="M1995 740l-16 -10 -27 12 16 9z"/>
<path class="hb" d="M2011 751l-16 -11 -27 11 16 11z"/>
<path class="pb" d="M2027 763l-16 -12 -27 11 16 12z"/>
<path class="gb" d="M2043 777l-16 -14 -27 11 16 13z"/>
<path class="ab" d="M2059 792l-16 -15 -27 10 16 14z"/>
<path class="fb" d="M2075 807l-16 -15 -27 9 16 15z"/>
<path class="g" d="M2091 822l-16 -15 -27 9 16 15z"/>
<path class="sb" d="M2107 838l-16 -16 -27 9 16 15z"/>
<path class="bb" d="M2123 854l-16 -16 -27 8 16 15z"/>
<path class="e" d="M2139 871l-16 -17 -27 7 16 18z"/>
<path class="d" d="M2155 892l-16 -21 -27 8 16 19z"/>
<path class="db" d="M2171 910l-16 -18 -27 6 16 18z"/>
<path class="c" d="M2187 925l-16 -15 -27 6 16 15z"/>
<path class="b" d="M2251 971l-16 -9 -16 -11 -16 -12 -16 -14 -27 6 16 13 16 12 16 11 16 9z"/>
<path class="a" d="M2299 993l-16 -6 -16 -8 -16 -8 -27 5 16 8 16 8 16 6z"/>
<path class="a" d="M1632 770l-16 -2 -16 -4 -16 -4 -16 -4 -26 5 16 5 16 4 16 3 16 3z"/>
<path class="b" d="M1680 770l-16 2 -16 0 -16 -2 -26 6 16 2 16 0 16 -1z"/>
<path class="c" d="M1712 761l-16 6 -16 3 -26 7 16 -2 16 -5z"/>
<path class="db" d="M1728 753l-16 8 -26 9 16 -7z"/>
<path class="cb" d="M1744 743l-16 10 -26 10 16 -9z"/>
<path class="e" d="M1760 739l-16 4 -26 11 16 -6z"/>
<path class="bb" d="M1776 735l-16 4 -26 9 16 -4z"/>
<path class="rc" d="M1792 730l-16 5 -26 9 16 -4z"/>
<path class="tb" d="M1808 726l-16 4 -26 10 16 -3z"/>
<path class="sc" d="M1824 723l-16 3 -26 11 16 -3z"/>
<path class="ub" d="M1840 720l-16 3 -26 11 16 -2z"/>
<path class="gb" d="M1856 719l-16 1 -26 12 16 -2z"/>
<path class="pb" d="M1872 719l-16 0 -26 11 16 0z"/>
<path class="z" d="M1888 720l-16 -1 -26 11 16 2z"/>
<path class="dc" d="M1904 723l-16 -3 -26 12 16 3z"/>
<path class="jc" d="M1936 734l-16 -6 -16 -5 -26 12 16 5 16 6z"/>
<path class="dc" d="M1952 742l-16 -8 -26 12 16 8z"/>
<path class="hb" d="M1968 751l-16 -9 -26 12 16 9z"/>
<path class="pb" d="M1984 762l-16 -11 -26 12 16 10z"/>
<path class="cc" d="M2000 774l-16 -12 -26 11 16 12z"/>
<path class="ub" d="M2016 787l-16 -13 -26 11 16 12z"/>
<path class="zb" d="M2032 801l-16 -14 -26 10 16 14z"/>
<path class="wc" d="M2048 816l-16 -15 -26 10 16 14z"/>
<path class="eb" d="M2064 831l-16 -15 -26 9 16 14z"/>
<path class="ad" d="M2080 846l-16 -15 -26 8 16 14z"/>
<path class="rb" d="M2096 861l-16 -15 -26 7 16 15z"/>
<path class="cb" d="M2112 879l-16 -18 -26 7 16 19z"/>
<path class="d" d="M2128 898l-16 -19 -26 8 16 18z"/>
<path class="db" d="M2144 916l-16 -18 -26 7 16 17z"/>
<path class="c" d="M2160 931l-16 -15 -26 6 16 14z"/>
<path class="b" d="M2224 976l-16 -9 -16 -11 -16 -12 -16 -13 -26 5 16 14 16 11 16 11 16 9z"/>
<path class="a" d="M2288 1005l-16 -7 -16 -6 -16 -8 -16 -8 -26 5 16 8 16 8 16 7 16 6z"/>
<path class="a" d="M1606 776l-16 -3 -16 -3 -16 -4 -26 5 16 5 16 3 16 3z"/>
<path class="b" d="M1670 775l-16 2 -16 1 -16 0 -16 -2 -26 6 16 2 16 1 16 -1 16 -2z"/>
<path class="c" d="M1686 770l-16 5 -26 7 16 -4z"/>
<path class="db" d="M1702 763l-16 7 -26 8 16 -5z"/>
<path class="d" d="M1718 754l-16 9 -26 10 16 -8z"/>
<path class="cb" d="M1734 748l-16 6 -26 11 16 -8z"/>
<path class="rb" d="M1750 744l-16 4 -26 9 16 -4z"/>
<path class="ad" d="M1766 740l-16 4 -26 9 16 -3z"/>
<path class="qb" d="M1782 737l-16 3 -26 10 16 -3z"/>
<path class="fb" d="M1798 734l-16 3 -26 10 16 -3z"/>
<path class="zb" d="M1814 732l-16 2 -26 10 16 -2z"/>
<path class="ub" d="M1830 730l-16 2 -26 10 16 -1z"/>
<path class="gb" d="M1846 730l-16 0 -26 11 16 1z"/>
<path class="pb" d="M1878 735l-16 -3 -16 -2 -26 12 16 1 16 4z"/>
<path class="kc" d="M1910 746l-16 -6 -16 -5 -26 12 16 4 16 7z"/>
<path class="cd" d="M1926 754l-16 -8 -26 12 16 7z"/>
<path class="pb" d="M1942 763l-16 -9 -26 11 16 9z"/>
<path class="cc" d="M1958 773l-16 -10 -26 11 16 10z"/>
<path class="ub" d="M1974 785l-16 -12 -26 11 16 11z"/>
<path class="h" d="M1990 797l-16 -12 -26 10 16 12z"/>
<path class="fb" d="M2006 811l-16 -14 -26 10 16 13z"/>
<path class="g" d="M2022 825l-16 -14 -26 9 16 14z"/>
<path class="eb" d="M2038 839l-16 -14 -26 9 16 13z"/>
<path class="f" d="M2054 853l-16 -14 -26 8 16 14z"/>
<path class="rb" d="M2070 868l-16 -15 -26 8 16 14z"/>
<path class="cb" d="M2086 887l-16 -19 -26 7 16 19z"/>
<path class="d" d="M2102 905l-16 -18 -26 7 16 18z"/>
<path class="db" d="M2118 922l-16 -17 -26 7 16 16z"/>
<path class="c" d="M2134 936l-16 -14 -26 6 16 14z"/>
<path class="b" d="M2198 981l-16 -9 -16 -11 -16 -11 -16 -14 -26 6 16 13 16 11 16 11 16 9z"/>
<path class="a" d="M2262 1010l-16 -6 -16 -7 -16 -8 -16 -8 -26 5 16 8 16 8 16 7 16 6z"/>
<path class="a" d="M1596 784l-16 -2 -16 -3 -16 -3 -16 -5 -27 6 16 4 16 4 16 3 16 2z"/>
<path class="b" d="M1644 782l-16 2 -16 1 -16 -1 -27 6 16 1 16 0 16 -1z"/>
<path class="c" d="M1676 773l-16 5 -16 4 -27 8 16 -3 16 -5z"/>
<path class="d" d="M1692 765l-16 8 -27 9 16 -7z"/>
<path class="cb" d="M1708 757l-16 8 -27 10 16 -8z"/>
<path class="rb" d="M1724 753l-16 4 -27 10 16 -4z"/>
<path class="bb" d="M1740 750l-16 3 -27 10 16 -3z"/>
<path class="rc" d="M1756 747l-16 3 -27 10 16 -3z"/>
<path class="g" d="M1772 744l-16 3 -27 10 16 -2z"/>
<path class="fb" d="M1788 742l-16 2 -27 11 16 -2z"/>
<path class="h" d="M1804 741l-16 1 -27 11 16 -1z"/>
<path class="ub" d="M1820 742l-16 -1 -27 11 16 1z"/>
<path class="gb" d="M1836 743l-16 -1 -27 11 16 2z"/>
<path class="cc" d="M1900 765l-16 -7 -16 -7 -16 -4 -16 -4 -27 12 16 3 16 5 16 6 16 7z"/>
<path class="gb" d="M1916 774l-16 -9 -27 11 16 9z"/>
<path class="ub" d="M1932 784l-16 -10 -27 11 16 10z"/>
<path class="h" d="M1948 795l-16 -11 -27 11 16 11z"/>
<path class="dd" d="M1964 807l-16 -12 -27 11 16 11z"/>
<path class="tb" d="M1980 820l-16 -13 -27 10 16 12z"/>
<path class="qb" d="M1996 834l-16 -14 -27 9 16 13z"/>
<path class="sb" d="M2012 847l-16 -13 -27 8 16 14z"/>
<path class="bb" d="M2028 861l-16 -14 -27 9 16 13z"/>
<path class="e" d="M2044 875l-16 -14 -27 8 16 15z"/>
<path class="cb" d="M2060 894l-16 -19 -27 9 16 18z"/>
<path class="d" d="M2076 912l-16 -18 -27 8 16 17z"/>
<path class="c" d="M2108 942l-16 -14 -16 -16 -27 7 16 15 16 14z"/>
<path class="b" d="M2172 986l-16 -9 -16 -11 -16 -11 -16 -13 -27 6 16 12 16 12 16 10 16 9z"/>
<path class="a" d="M2236 1015l-16 -6 -16 -7 -16 -8 -16 -8 -27 5 16 8 16 8 16 7 16 6z"/>
<path class="a" d="M1569 790l-16 -2 -16 -3 -16 -4 -16 -4 -26 5 16 5 16 3 16 4 16 2z"/>
<path class="b" d="M1617 790l-16 1 -16 0 -16 -1 -26 6 16 2 16 0 16 -1z"/>
<path class="c" d="M1649 782l-16 5 -16 3 -26 7 16 -2 16 -4z"/>
<path class="db" d="M1665 775l-16 7 -26 9 16 -6z"/>
<path class="d" d="M1681 767l-16 8 -26 10 16 -7z"/>
<path class="e" d="M1697 763l-16 4 -26 11 16 -6z"/>
<path class="bb" d="M1713 760l-16 3 -26 9 16 -3z"/>
<path class="ad" d="M1729 757l-16 3 -26 9 16 -3z"/>
<path class="eb" d="M1745 755l-16 2 -26 9 16 -1z"/>
<path class="tb" d="M1761 753l-16 2 -26 10 16 -2z"/>
<path class="fb" d="M1777 752l-16 1 -26 10 16 0z"/>
<path class="h" d="M1793 753l-16 -1 -26 11 16 1z"/>
<path class="ub" d="M1825 758l-16 -3 -16 -2 -26 11 16 2 16 3z"/>
<path class="tc" d="M1857 769l-16 -6 -16 -5 -26 11 16 5 16 6z"/>
<path class="ub" d="M1889 785l-16 -9 -16 -7 -26 11 16 7 16 9z"/>
<path class="h" d="M1905 795l-16 -10 -26 11 16 9z"/>
<path class="zb" d="M1921 806l-16 -11 -26 10 16 11z"/>
<path class="fb" d="M1937 817l-16 -11 -26 10 16 11z"/>
<path class="g" d="M1953 829l-16 -12 -26 10 16 12z"/>
<path class="eb" d="M1969 842l-16 -13 -26 10 16 12z"/>
<path class="ad" d="M1985 856l-16 -14 -26 9 16 13z"/>
<path class="bb" d="M2001 869l-16 -13 -26 8 16 13z"/>
<path class="e" d="M2017 884l-16 -15 -26 8 16 15z"/>
<path class="cb" d="M2033 902l-16 -18 -26 8 16 18z"/>
<path class="db" d="M2049 919l-16 -17 -26 8 16 16z"/>
<path class="c" d="M2081 948l-16 -14 -16 -15 -26 7 16 14 16 14z"/>
<path class="b" d="M2145 991l-16 -9 -16 -10 -16 -12 -16 -12 -26 6 16 12 16 11 16 10 16 9z"/>
<path class="a" d="M2209 1020l-16 -6 -16 -7 -16 -8 -16 -8 -26 5 16 8 16 8 16 7 16 6z"/>
<path class="a" d="M1543 796l-16 -2 -16 -4 -16 -3 -16 -5 -27 6 16 4 16 4 16 4 16 2z"/>
<path class="b" d="M1607 795l-16 2 -16 1 -16 0 -16 -2 -27 6 16 2 16 1 16 -1 16 -2z"/>
<path class="c" d="M1623 791l-16 4 -27 7 16 -3z"/>
<path class="db" d="M1639 785l-16 6 -27 8 16 -5z"/>
<path class="d" d="M1655 778l-16 7 -27 9 16 -6z"/>
<path class="cb" d="M1671 772l-16 6 -27 10 16 -8z"/>
<path class="rb" d="M1687 769l-16 3 -27 8 16 -2z"/>
<path class="bb" d="M1703 766l-16 3 -27 9 16 -2z"/>
<path class="sb" d="M1719 765l-16 1 -27 10 16 -2z"/>
<path class="qb" d="M1735 763l-16 2 -27 9 16 -1z"/>
<path class="tb" d="M1751 763l-16 0 -27 10 16 0z"/>
<path class="fb" d="M1767 764l-16 -1 -27 10 16 1z"/>
<path class="zb" d="M1783 766l-16 -2 -27 10 16 3z"/>
<path class="h" d="M1799 769l-16 -3 -27 11 16 3z"/>
<path class="ab" d="M1831 780l-16 -6 -16 -5 -27 11 16 5 16 6z"/>
<path class="h" d="M1863 796l-16 -9 -16 -7 -27 11 16 7 16 8z"/>
<path class="zb" d="M1879 805l-16 -9 -27 10 16 9z"/>
<path class="fb" d="M1895 816l-16 -11 -27 10 16 10z"/>
<path class="tb" d="M1911 827l-16 -11 -27 9 16 11z"/>
<path class="eb" d="M1927 839l-16 -12 -27 9 16 12z"/>
<path class="sb" d="M1943 851l-16 -12 -27 9 16 12z"/>
<path class="bb" d="M1959 864l-16 -13 -27 9 16 12z"/>
<path class="rb" d="M1975 877l-16 -13 -27 8 16 12z"/>
<path class="cb" d="M1991 892l-16 -15 -27 7 16 17z"/>
<path class="d" d="M2007 910l-16 -18 -27 9 16 16z"/>
<path class="db" d="M2023 926l-16 -16 -27 7 16 16z"/>
<path class="c" d="M2055 954l-16 -14 -16 -14 -27 7 16 14 16 13z"/>
<path class="b" d="M2119 996l-16 -9 -16 -10 -16 -11 -16 -12 -27 6 16 12 16 10 16 10 16 9z"/>
<path class="a" d="M2183 1025l-16 -6 -16 -7 -16 -8 -16 -8 -27 5 16 8 16 8 16 7 16 6z"/>
<path class="a" d="M1516 802l-16 -2 -16 -4 -16 -4 -16 -4 -26 5 16 5 16 4 16 3 16 3z"/>
<path class="b" d="M1580 802l-16 2 -16 1 -16 -1 -16 -2 -26 6 16 2 16 1 16 0 16 -1z"/>
<path class="c" d="M1612 794l-16 5 -16 3 -26 8 16 -3 16 -4z"/>
<path class="db" d="M1628 788l-16 6 -26 9 16 -5z"/>
<path class="cb" d="M1644 780l-16 8 -26 10 16 -7z"/>
<path class="e" d="M1660 778l-16 2 -26 11 16 -4z"/>
<path class="bb" d="M1676 776l-16 2 -26 9 16 -2z"/>
<path class="ad" d="M1692 774l-16 2 -26 9 16 -1z"/>
<path class="eb" d="M1708 773l-16 1 -26 10 16 -1z"/>
<path class="g" d="M1724 773l-16 0 -26 10 16 1z"/>
<path class="tb" d="M1740 774l-16 -1 -26 11 16 1z"/>
<path class="fb" d="M1756 777l-16 -3 -26 11 16 2z"/>
<path class="sc" d="M1772 780l-16 -3 -26 10 16 4z"/>
<path class="zb" d="M1820 798l-16 -7 -16 -6 -16 -5 -26 11 16 4 16 7 16 7z"/>
<path class="fb" d="M1852 815l-16 -9 -16 -8 -26 11 16 8 16 8z"/>
<path class="tb" d="M1868 825l-16 -10 -26 10 16 10z"/>
<path class="qb" d="M1884 836l-16 -11 -26 10 16 11z"/>
<path class="rc" d="M1900 848l-16 -12 -26 10 16 11z"/>
<path class="ad" d="M1916 860l-16 -12 -26 9 16 11z"/>
<path class="bb" d="M1932 872l-16 -12 -26 8 16 12z"/>
<path class="e" d="M1948 884l-16 -12 -26 8 16 13z"/>
<path class="cb" d="M1964 901l-16 -17 -26 9 16 16z"/>
<path class="d" d="M1980 917l-16 -16 -26 8 16 16z"/>
<path class="db" d="M1996 933l-16 -16 -26 8 16 15z"/>
<path class="c" d="M2028 960l-16 -13 -16 -14 -26 7 16 13 16 13z"/>
<path class="b" d="M2092 1001l-16 -9 -16 -10 -16 -10 -16 -12 -26 6 16 11 16 11 16 9 16 9z"/>
<path class="a" d="M2156 1030l-16 -6 -16 -7 -16 -8 -16 -8 -26 5 16 8 16 8 16 7 16 7z"/>
<path class="a" d="M1490 808l-16 -3 -16 -3 -16 -4 -27 5 16 4 16 4 16 3z"/>
<path class="b" d="M1554 810l-16 1 -16 0 -16 -1 -16 -2 -27 6 16 3 16 1 16 0 16 0z"/>
<path class="c" d="M1586 803l-16 4 -16 3 -27 8 16 -3 16 -3z"/>
<path class="db" d="M1602 798l-16 5 -27 9 16 -4z"/>
<path class="d" d="M1618 791l-16 7 -27 10 16 -6z"/>
<path class="cb" d="M1634 787l-16 4 -27 11 16 -6z"/>
<path class="rb" d="M1650 785l-16 2 -27 9 16 -2z"/>
<path class="bb" d="M1666 784l-16 1 -27 9 16 -1z"/>
<path class="sb" d="M1682 783l-16 1 -27 9 16 0z"/>
<path class="eb" d="M1698 784l-16 -1 -27 10 16 1z"/>
<path class="g" d="M1714 785l-16 -1 -27 10 16 1z"/>
<path class="tb" d="M1730 787l-16 -2 -27 10 16 2z"/>
<path class="fb" d="M1794 809l-16 -7 -16 -7 -16 -4 -16 -4 -27 10 16 4 16 5 16 6 16 7z"/>
<path class="tb" d="M1826 825l-16 -8 -16 -8 -27 10 16 8 16 8z"/>
<path class="qb" d="M1842 835l-16 -10 -27 10 16 10z"/>
<path class="eb" d="M1858 846l-16 -11 -27 10 16 10z"/>
<path class="sb" d="M1874 857l-16 -11 -27 9 16 10z"/>
<path class="bb" d="M1890 868l-16 -11 -27 8 16 12z"/>
<path class="rb" d="M1906 880l-16 -12 -27 9 16 11z"/>
<path class="e" d="M1922 893l-16 -13 -27 8 16 14z"/>
<path class="cb" d="M1938 909l-16 -16 -27 9 16 16z"/>
<path class="d" d="M1954 925l-16 -16 -27 9 16 15z"/>
<path class="db" d="M1970 940l-16 -15 -27 8 16 14z"/>
<path class="c" d="M2002 966l-16 -13 -16 -13 -27 7 16 13 16 12z"/>
<path class="b" d="M2066 1006l-16 -9 -16 -9 -16 -11 -16 -11 -27 6 16 11 16 10 16 10 16 8z"/>
<path class="a" d="M2130 1036l-16 -7 -16 -7 -16 -8 -16 -8 -27 5 16 8 16 8 16 7 16 7z"/>
<path class="a" d="M1479 817l-16 -3 -16 -3 -16 -4 -16 -4 -26 5 16 5 16 4 16 3 16 3z"/>
<path class="b" d="M1543 815l-16 3 -16 0 -16 0 -16 -1 -26 6 16 1 16 1 16 0 16 -2z"/>
<path class="c" d="M1559 812l-16 3 -26 8 16 -2z"/>
<path class="db" d="M1575 808l-16 4 -26 9 16 -4z"/>
<path class="d" d="M1591 802l-16 6 -26 9 16 -5z"/>
<path class="cb" d="M1607 796l-16 6 -26 10 16 -6z"/>
<path class="e" d="M1623 794l-16 2 -26 10 16 -3z"/>
<path class="bb" d="M1639 793l-16 1 -26 9 16 0z"/>
<path class="bc" d="M1655 793l-16 0 -26 10 16 0z"/>
<path class="sb" d="M1671 794l-16 -1 -26 10 16 0z"/>
<path class="eb" d="M1687 795l-16 -1 -26 9 16 2z"/>
<path class="qb" d="M1703 797l-16 -2 -26 10 16 2z"/>
<path class="g" d="M1719 801l-16 -4 -26 10 16 4z"/>
<path class="tb" d="M1767 819l-16 -7 -16 -6 -16 -5 -26 10 16 5 16 6 16 7z"/>
<path class="g" d="M1783 827l-16 -8 -26 10 16 8z"/>
<path class="eb" d="M1815 845l-16 -10 -16 -8 -26 10 16 8 16 9z"/>
<path class="sb" d="M1831 855l-16 -10 -26 9 16 10z"/>
<path class="f" d="M1847 865l-16 -10 -26 9 16 10z"/>
<path class="bb" d="M1863 877l-16 -12 -26 9 16 11z"/>
<path class="e" d="M1879 888l-16 -11 -26 8 16 11z"/>
<path class="cb" d="M1895 902l-16 -14 -26 8 16 15z"/>
<path class="d" d="M1911 918l-16 -16 -26 9 16 15z"/>
<path class="db" d="M1927 933l-16 -15 -26 8 16 14z"/>
<path class="ac" d="M1943 947l-16 -14 -26 7 16 14z"/>
<path class="c" d="M1975 972l-16 -12 -16 -13 -26 7 16 12 16 12z"/>
<path class="b" d="M2039 1011l-16 -8 -16 -10 -16 -10 -16 -11 -26 6 16 11 16 10 16 9 16 9z"/>
<path class="a" d="M2119 1047l-16 -6 -16 -7 -16 -7 -16 -8 -16 -8 -26 6 16 8 16 7 16 7 16 7 16 6z"/>
<path class="a" d="M1453 823l-16 -3 -16 -3 -16 -4 -16 -5 -27 6 16 4 16 4 16 4 16 3z"/>
<path class="b" d="M1517 823l-16 2 -16 0 -16 -1 -16 -1 -27 6 16 2 16 1 16 0 16 -1z"/>
<path class="c" d="M1549 817l-16 4 -16 2 -27 8 16 -2 16 -3z"/>
<path class="db" d="M1565 812l-16 5 -27 9 16 -4z"/>
<path class="d" d="M1581 806l-16 6 -27 10 16 -5z"/>
<path class="cb" d="M1597 803l-16 3 -27 11 16 -5z"/>
<path class="rb" d="M1613 803l-16 0 -27 9 16 0z"/>
<path class="bb" d="M1629 803l-16 0 -27 9 16 0z"/>
<path class="ad" d="M1645 803l-16 0 -27 9 16 1z"/>
<path class="sb" d="M1661 805l-16 -2 -27 10 16 2z"/>
<path class="eb" d="M1693 811l-16 -4 -16 -2 -27 10 16 2 16 4z"/>
<path class="qb" d="M1725 822l-16 -6 -16 -5 -27 10 16 5 16 6z"/>
<path class="eb" d="M1757 837l-16 -8 -16 -7 -27 10 16 7 16 7z"/>
<path class="rc" d="M1773 845l-16 -8 -27 9 16 8z"/>
<path class="sb" d="M1789 854l-16 -9 -27 9 16 9z"/>
<path class="bc" d="M1805 864l-16 -10 -27 9 16 10z"/>
<path class="bb" d="M1821 874l-16 -10 -27 9 16 10z"/>
<path class="rb" d="M1837 885l-16 -11 -27 9 16 10z"/>
<path class="e" d="M1853 896l-16 -11 -27 8 16 13z"/>
<path class="cb" d="M1869 911l-16 -15 -27 10 16 14z"/>
<path class="d" d="M1885 926l-16 -15 -27 9 16 14z"/>
<path class="db" d="M1901 940l-16 -14 -27 8 16 14z"/>
<path class="c" d="M1933 966l-16 -12 -16 -14 -27 8 16 12 16 13z"/>
<path class="b" d="M2013 1017l-16 -9 -16 -9 -16 -10 -16 -11 -16 -12 -27 7 16 11 16 10 16 10 16 9 16 9z"/>
<path class="a" d="M2093 1052l-16 -6 -16 -7 -16 -7 -16 -7 -16 -8 -27 5 16 8 16 7 16 7 16 7 16 6z"/>
<path class="a" d="M1426 829l-16 -3 -16 -4 -16 -4 -16 -4 -26 5 16 5 16 4 16 4 16 3z"/>
<path class="b" d="M1490 831l-16 1 -16 0 -16 -1 -16 -2 -26 6 16 2 16 1 16 1 16 -1z"/>
<path class="c" d="M1522 826l-16 3 -16 2 -26 7 16 -1 16 -2z"/>
<path class="db" d="M1538 822l-16 4 -26 9 16 -4z"/>
<path class="d" d="M1554 817l-16 5 -26 9 16 -4z"/>
<path class="cb" d="M1570 812l-16 5 -26 10 16 -4z"/>
<path class="e" d="M1586 812l-16 0 -26 11 16 -2z"/>
<path class="rb" d="M1602 812l-16 0 -26 9 16 0z"/>
<path class="bb" d="M1618 813l-16 -1 -26 9 16 1z"/>
<path class="ad" d="M1634 815l-16 -2 -26 9 16 2z"/>
<path class="sb" d="M1666 821l-16 -4 -16 -2 -26 9 16 3 16 4z"/>
<path class="eb" d="M1698 832l-16 -6 -16 -5 -26 10 16 5 16 6z"/>
<path class="sb" d="M1730 846l-16 -7 -16 -7 -26 10 16 6 16 8z"/>
<path class="ad" d="M1746 854l-16 -8 -26 10 16 8z"/>
<path class="bc" d="M1762 863l-16 -9 -26 10 16 8z"/>
<path class="bb" d="M1778 873l-16 -10 -26 9 16 10z"/>
<path class="rb" d="M1794 883l-16 -10 -26 9 16 9z"/>
<path class="e" d="M1810 893l-16 -10 -26 8 16 11z"/>
<path class="cb" d="M1826 906l-16 -13 -26 9 16 14z"/>
<path class="d" d="M1858 934l-16 -14 -16 -14 -26 10 16 13 16 13z"/>
<path class="db" d="M1874 948l-16 -14 -26 8 16 13z"/>
<path class="c" d="M1906 973l-16 -13 -16 -12 -26 7 16 12 16 12z"/>
<path class="b" d="M1986 1022l-16 -9 -16 -9 -16 -10 -16 -10 -16 -11 -26 6 16 11 16 10 16 10 16 9 16 8z"/>
<path class="a" d="M2066 1057l-16 -6 -16 -7 -16 -7 -16 -7 -16 -8 -26 5 16 8 16 7 16 7 16 7 16 6z"/>
<path class="a" d="M1400 835l-16 -3 -16 -4 -16 -4 -16 -5 -27 6 16 4 16 4 16 4 16 3z"/>
<path class="b" d="M1480 837l-16 1 -16 1 -16 -1 -16 -1 -16 -2 -27 5 16 3 16 2 16 1 16 0 16 -1z"/>
<path class="c" d="M1496 835l-16 2 -27 8 16 -2z"/>
<path class="ac" d="M1512 831l-16 4 -27 8 16 -3z"/>
<path class="db" d="M1528 827l-16 4 -27 9 16 -3z"/>
<path class="d" d="M1544 823l-16 4 -27 10 16 -3z"/>
<path class="cb" d="M1560 821l-16 2 -27 11 16 -4z"/>
<path class="e" d="M1576 821l-16 0 -27 9 16 0z"/>
<path class="rb" d="M1592 822l-16 -1 -27 9 16 1z"/>
<path class="bb" d="M1608 824l-16 -2 -27 9 16 2z"/>
<path class="bc" d="M1624 827l-16 -3 -27 9 16 3z"/>
<path class="ad" d="M1656 836l-16 -5 -16 -4 -27 9 16 4 16 5z"/>
<path class="sb" d="M1672 842l-16 -6 -27 9 16 6z"/>
<path class="ad" d="M1704 856l-16 -8 -16 -6 -27 9 16 7 16 7z"/>
<path class="f" d="M1720 864l-16 -8 -27 9 16 8z"/>
<path class="bb" d="M1736 872l-16 -8 -27 9 16 8z"/>
<path class="rb" d="M1752 882l-16 -10 -27 9 16 9z"/>
<path class="e" d="M1784 902l-16 -11 -16 -9 -27 8 16 10 16 12z"/>
<path class="cb" d="M1800 916l-16 -14 -27 10 16 13z"/>
<path class="d" d="M1816 929l-16 -13 -27 9 16 13z"/>
<path class="db" d="M1848 955l-16 -13 -16 -13 -27 9 16 12 16 13z"/>
<path class="c" d="M1880 979l-16 -12 -16 -12 -27 8 16 11 16 12z"/>
<path class="b" d="M1960 1027l-16 -8 -16 -9 -16 -10 -16 -10 -16 -11 -27 7 16 10 16 10 16 9 16 9 16 9z"/>
<path class="a" d="M2040 1062l-16 -6 -16 -7 -16 -7 -16 -7 -16 -8 -27 6 16 7 16 8 16 7 16 6 16 7z"/>
<path class="a" d="M1389 843l-16 -3 -16 -3 -16 -4 -16 -4 -26 6 16 4 16 4 16 3 16 3z"/>
<path class="b" d="M1453 845l-16 1 -16 0 -16 -1 -16 -2 -26 6 16 2 16 1 16 1 16 -1z"/>
<path class="c" d="M1485 840l-16 3 -16 2 -26 7 16 -1 16 -2z"/>
<path class="db" d="M1501 837l-16 3 -26 9 16 -2z"/>
<path class="d" d="M1517 834l-16 3 -26 10 16 -3z"/>
<path class="cb" d="M1549 830l-16 0 -16 4 -26 10 16 -3 16 -2z"/>
<path class="e" d="M1565 831l-16 -1 -26 9 16 1z"/>
<path class="rb" d="M1581 833l-16 -2 -26 9 16 2z"/>
<path class="bb" d="M1613 840l-16 -4 -16 -3 -26 9 16 4 16 4z"/>
<path class="f" d="M1645 851l-16 -6 -16 -5 -26 10 16 5 16 5z"/>
<path class="bb" d="M1693 873l-16 -8 -16 -7 -16 -7 -26 9 16 7 16 7 16 8z"/>
<path class="rb" d="M1709 881l-16 -8 -26 9 16 8z"/>
<path class="e" d="M1741 900l-16 -10 -16 -9 -26 9 16 9 16 11z"/>
<path class="cb" d="M1757 912l-16 -12 -26 10 16 12z"/>
<path class="d" d="M1789 938l-16 -13 -16 -13 -26 10 16 12 16 12z"/>
<path class="db" d="M1805 950l-16 -12 -26 8 16 12z"/>
<path class="c" d="M1853 986l-16 -12 -16 -11 -16 -13 -26 8 16 12 16 11 16 11z"/>
<path class="b" d="M1933 1033l-16 -9 -16 -9 -16 -9 -16 -10 -16 -10 -26 6 16 10 16 10 16 9 16 9 16 8z"/>
<path class="a" d="M2013 1068l-16 -7 -16 -6 -16 -7 -16 -8 -16 -7 -26 5 16 8 16 7 16 7 16 6 16 7z"/>
<path class="a" d="M1363 849l-16 -3 -16 -3 -16 -4 -16 -4 -26 5 16 5 16 4 16 3 16 3z"/>
<path class="b" d="M1427 852l-16 1 -16 -1 -16 -1 -16 -2 -26 6 16 2 16 2 16 1 16 0z"/>
<path class="c" d="M1459 849l-16 2 -16 1 -26 8 16 -1 16 -1z"/>
<path class="db" d="M1491 844l-16 3 -16 2 -26 9 16 -2 16 -2z"/>
<path class="d" d="M1507 841l-16 3 -26 10 16 -3z"/>
<path class="cb" d="M1523 839l-16 2 -26 10 16 -1z"/>
<path class="e" d="M1555 842l-16 -2 -16 -1 -26 11 16 -1 16 2z"/>
<path class="rb" d="M1571 846l-16 -4 -26 9 16 4z"/>
<path class="bb" d="M1635 867l-16 -7 -16 -5 -16 -5 -16 -4 -26 9 16 4 16 5 16 6 16 6z"/>
<path class="rb" d="M1667 882l-16 -8 -16 -7 -26 9 16 7 16 8z"/>
<path class="e" d="M1699 899l-16 -9 -16 -8 -26 9 16 8 16 10z"/>
<path class="cb" d="M1731 922l-16 -12 -16 -11 -26 10 16 11 16 11z"/>
<path class="d" d="M1747 934l-16 -12 -26 9 16 12z"/>
<path class="db" d="M1779 958l-16 -12 -16 -12 -26 9 16 12 16 11z"/>
<path class="c" d="M1827 992l-16 -11 -16 -11 -16 -12 -26 8 16 11 16 11 16 10z"/>
<path class="b" d="M1907 1038l-16 -8 -16 -9 -16 -9 -16 -10 -16 -10 -26 6 16 10 16 10 16 9 16 8 16 8z"/>
<path class="a" d="M1987 1073l-16 -7 -16 -6 -16 -7 -16 -7 -16 -8 -26 5 16 8 16 7 16 7 16 7 16 6z"/>
<path class="a" d="M1337 855l-16 -3 -16 -3 -16 -4 -16 -5 -27 6 16 4 16 4 16 4 16 3z"/>
<path class="b" d="M1417 859l-16 1 -16 0 -16 -1 -16 -2 -16 -2 -27 6 16 3 16 2 16 1 16 0 16 0z"/>
<path class="c" d="M1449 856l-16 2 -16 1 -27 8 16 -1 16 -1z"/>
<path class="db" d="M1465 854l-16 2 -27 9 16 -2z"/>
<path class="d" d="M1497 850l-16 1 -16 3 -27 9 16 -2 16 -1z"/>
<path class="cb" d="M1513 849l-16 1 -27 10 16 0z"/>
<path class="e" d="M1545 855l-16 -4 -16 -2 -27 11 16 0 16 4z"/>
<path class="rb" d="M1609 876l-16 -6 -16 -6 -16 -5 -16 -4 -27 9 16 4 16 5 16 6 16 6z"/>
<path class="e" d="M1657 899l-16 -8 -16 -8 -16 -7 -27 9 16 7 16 7 16 10z"/>
<path class="cb" d="M1689 920l-16 -11 -16 -10 -27 10 16 10 16 11z"/>
<path class="d" d="M1721 943l-16 -12 -16 -11 -27 10 16 11 16 11z"/>
<path class="db" d="M1737 955l-16 -12 -27 9 16 11z"/>
<path class="c" d="M1785 988l-16 -11 -16 -11 -16 -11 -27 8 16 11 16 10 16 11z"/>
<path class="b" d="M1881 1043l-16 -8 -16 -8 -16 -9 -16 -10 -16 -10 -16 -10 -27 7 16 10 16 10 16 9 16 8 16 9 16 8z"/>
<path class="a" d="M1961 1078l-16 -6 -16 -7 -16 -7 -16 -7 -16 -8 -27 6 16 7 16 7 16 7 16 7 16 6z"/>
<path class="a" d="M1326 864l-16 -3 -16 -3 -16 -4 -16 -4 -16 -4 -26 5 16 5 16 4 16 4 16 3 16 3z"/>
<path class="b" d="M1390 867l-16 0 -16 0 -16 -1 -16 -2 -26 6 16 2 16 1 16 1 16 0z"/>
<path class="c" d="M1422 865l-16 1 -16 1 -26 7 16 0 16 -1z"/>
<path class="db" d="M1454 861l-16 2 -16 2 -26 8 16 -1 16 -1z"/>
<path class="d" d="M1470 860l-16 1 -26 10 16 -1z"/>
<path class="cb" d="M1502 860l-16 0 -16 0 -26 10 16 0 16 1z"/>
<path class="e" d="M1598 892l-16 -7 -16 -6 -16 -6 -16 -5 -16 -4 -16 -4 -26 11 16 2 16 3 16 6 16 5 16 7 16 8z"/>
<path class="cb" d="M1646 919l-16 -10 -16 -10 -16 -7 -26 10 16 8 16 9 16 10z"/>
<path class="d" d="M1678 941l-16 -11 -16 -11 -26 10 16 10 16 11z"/>
<path class="db" d="M1710 963l-16 -11 -16 -11 -26 9 16 10 16 11z"/>
<path class="c" d="M1758 995l-16 -11 -16 -10 -16 -11 -26 8 16 10 16 11 16 10z"/>
<path class="b" d="M1854 1049l-16 -8 -16 -9 -16 -8 -16 -9 -16 -10 -16 -10 -26 7 16 9 16 10 16 9 16 8 16 8 16 8z"/>
<path class="a" d="M1934 1083l-16 -6 -16 -7 -16 -7 -16 -7 -16 -7 -26 5 16 8 16 7 16 6 16 7 16 6z"/>
<path class="a" d="M1300 870l-16 -3 -16 -3 -16 -4 -16 -4 -16 -5 -27 5 16 5 16 4 16 4 16 4 16 3z"/>
<path class="b" d="M1364 874l-16 0 -16 -1 -16 -1 -16 -2 -27 6 16 2 16 2 16 1 16 1z"/>
<path class="c" d="M1412 872l-16 1 -16 1 -16 0 -27 8 16 0 16 0 16 -1z"/>
<path class="db" d="M1428 871l-16 1 -27 9 16 -1z"/>
<path class="d" d="M1460 870l-16 0 -16 1 -27 9 16 0 16 1z"/>
<path class="cb" d="M1604 919l-16 -9 -16 -8 -16 -8 -16 -7 -16 -5 -16 -6 -16 -3 -16 -2 -16 -1 -27 11 16 1 16 2 16 3 16 5 16 6 16 7 16 7 16 9 16 8z"/>
<path class="d" d="M1636 939l-16 -10 -16 -10 -27 10 16 10 16 9z"/>
<path class="db" d="M1668 960l-16 -10 -16 -11 -27 9 16 10 16 10z"/>
<path class="c" d="M1732 1002l-16 -10 -16 -11 -16 -10 -16 -11 -27 8 16 11 16 10 16 10 16 9z"/>
<path class="b" d="M1828 1054l-16 -8 -16 -8 -16 -8 -16 -9 -16 -10 -16 -9 -27 6 16 10 16 9 16 9 16 8 16 8 16 8z"/>
<path class="a" d="M1908 1088l-16 -6 -16 -7 -16 -6 -16 -7 -16 -8 -27 6 16 7 16 7 16 7 16 6 16 7z"/>
<path class="a" d="M1273 876l-16 -3 -16 -4 -16 -4 -16 -4 -26 5 16 5 16 4 16 4 16 3z"/>
<path class="b" d="M1353 882l-16 0 -16 -1 -16 -1 -16 -2 -16 -2 -26 6 16 3 16 2 16 1 16 1 16 1z"/>
<path class="c" d="M1385 881l-16 1 -16 0 -26 8 16 0 16 0z"/>
<path class="ac" d="M1401 880l-16 1 -26 9 16 -1z"/>
<path class="db" d="M1417 880l-16 0 -26 9 16 1z"/>
<path class="d" d="M1465 884l-16 -2 -16 -1 -16 -1 -26 10 16 0 16 2 16 2z"/>
<path class="cb" d="M1545 912l-16 -7 -16 -7 -16 -6 -16 -5 -16 -3 -26 10 16 4 16 5 16 6 16 6 16 8z"/>
<path class="d" d="M1593 939l-16 -10 -16 -8 -16 -9 -26 11 16 8 16 8 16 9z"/>
<path class="db" d="M1625 958l-16 -10 -16 -9 -26 9 16 9 16 10z"/>
<path class="ac" d="M1641 968l-16 -10 -26 9 16 10z"/>
<path class="c" d="M1689 999l-16 -10 -16 -10 -16 -11 -26 9 16 9 16 10 16 10z"/>
<path class="b" d="M1785 1052l-16 -8 -16 -8 -16 -9 -16 -9 -16 -10 -16 -9 -26 7 16 9 16 9 16 9 16 8 16 9 16 7z"/>
<path class="a" d="M1881 1094l-16 -7 -16 -6 -16 -7 -16 -7 -16 -7 -16 -8 -26 5 16 8 16 7 16 7 16 7 16 6 16 7z"/>
<path class="a" d="M1247 882l-16 -3 -16 -4 -16 -4 -16 -5 -27 6 16 4 16 5 16 3 16 4z"/>
<path class="b" d="M1327 890l-16 -1 -16 -1 -16 -1 -16 -2 -16 -3 -27 6 16 3 16 2 16 2 16 1 16 1z"/>
<path class="c" d="M1375 889l-16 1 -16 0 -16 0 -27 7 16 0 16 1 16 0z"/>
<path class="db" d="M1407 890l-16 0 -16 -1 -27 9 16 1 16 1z"/>
<path class="d" d="M1551 939l-16 -8 -16 -8 -16 -8 -16 -6 -16 -6 -16 -5 -16 -4 -16 -2 -16 -2 -27 10 16 2 16 2 16 4 16 5 16 6 16 6 16 8 16 7 16 8z"/>
<path class="db" d="M1599 967l-16 -10 -16 -9 -16 -9 -27 9 16 9 16 9 16 9z"/>
<path class="c" d="M1663 1006l-16 -10 -16 -10 -16 -9 -16 -10 -27 8 16 10 16 9 16 9 16 9z"/>
<path class="b" d="M1759 1057l-16 -7 -16 -9 -16 -8 -16 -9 -16 -9 -16 -9 -27 6 16 10 16 8 16 9 16 8 16 8 16 8z"/>
<path class="a" d="M1855 1099l-16 -7 -16 -6 -16 -7 -16 -7 -16 -7 -16 -8 -27 6 16 7 16 8 16 7 16 6 16 7 16 6z"/>
<path class="a" d="M1236 891l-16 -3 -16 -4 -16 -3 -16 -5 -16 -4 -26 5 16 5 16 4 16 4 16 4 16 3z"/>
<path class="b" d="M1316 897l-16 0 -16 -1 -16 -1 -16 -2 -16 -2 -26 6 16 2 16 2 16 2 16 1 16 1z"/>
<path class="c" d="M1364 899l-16 -1 -16 0 -16 -1 -26 8 16 1 16 1 16 1z"/>
<path class="db" d="M1396 902l-16 -2 -16 -1 -26 9 16 1 16 2z"/>
<path class="d" d="M1508 940l-16 -7 -16 -8 -16 -6 -16 -6 -16 -5 -16 -4 -16 -2 -26 9 16 3 16 4 16 5 16 6 16 6 16 7 16 8z"/>
<path class="db" d="M1556 966l-16 -9 -16 -9 -16 -8 -26 10 16 8 16 8 16 8z"/>
<path class="c" d="M1620 1003l-16 -9 -16 -9 -16 -10 -16 -9 -26 8 16 9 16 9 16 9 16 9z"/>
<path class="b" d="M1732 1063l-16 -8 -16 -8 -16 -8 -16 -9 -16 -8 -16 -10 -16 -9 -26 7 16 9 16 9 16 9 16 8 16 8 16 8 16 8z"/>
<path class="a" d="M1828 1104l-16 -6 -16 -7 -16 -6 -16 -7 -16 -8 -16 -7 -26 6 16 7 16 7 16 7 16 6 16 7 16 6z"/>
<path class="a" d="M1210 897l-16 -3 -16 -4 -16 -4 -16 -4 -16 -5 -27 6 16 4 16 5 16 4 16 3 16 4z"/>
<path class="b" d="M1290 905l-16 -1 -16 -1 -16 -2 -16 -2 -16 -2 -27 6 16 3 16 2 16 2 16 1 16 2z"/>
<path class="c" d="M1354 909l-16 -1 -16 -1 -16 -1 -16 -1 -27 8 16 1 16 1 16 1 16 2z"/>
<path class="db" d="M1514 966l-16 -8 -16 -8 -16 -8 -16 -7 -16 -6 -16 -6 -16 -5 -16 -4 -16 -3 -16 -2 -27 9 16 2 16 3 16 4 16 5 16 6 16 7 16 6 16 8 16 7 16 8z"/>
<path class="c" d="M1594 1010l-16 -9 -16 -9 -16 -9 -16 -9 -16 -8 -27 8 16 9 16 8 16 9 16 9 16 8z"/>
<path class="b" d="M1706 1069l-16 -8 -16 -8 -16 -8 -16 -8 -16 -9 -16 -9 -16 -9 -27 7 16 9 16 9 16 8 16 8 16 8 16 8 16 7z"/>
<path class="a" d="M1802 1109l-16 -6 -16 -7 -16 -6 -16 -7 -16 -7 -16 -7 -27 5 16 7 16 7 16 7 16 7 16 6 16 6z"/>
<path class="a" d="M1183 903l-16 -4 -16 -3 -16 -4 -16 -5 -26 6 16 4 16 4 16 4 16 4z"/>
<path class="b" d="M1279 914l-16 -1 -16 -2 -16 -1 -16 -2 -16 -2 -16 -3 -26 6 16 3 16 2 16 3 16 1 16 2 16 1z"/>
<path class="c" d="M1343 920l-16 -2 -16 -2 -16 -1 -16 -1 -26 7 16 2 16 1 16 3 16 2z"/>
<path class="db" d="M1455 959l-16 -8 -16 -6 -16 -7 -16 -6 -16 -5 -16 -4 -16 -3 -26 9 16 3 16 4 16 6 16 5 16 7 16 6 16 7z"/>
<path class="ac" d="M1471 966l-16 -7 -26 8 16 8z"/>
<path class="c" d="M1551 1009l-16 -9 -16 -9 -16 -8 -16 -9 -16 -8 -26 9 16 8 16 8 16 8 16 8 16 9z"/>
<path class="b" d="M1679 1074l-16 -7 -16 -8 -16 -8 -16 -8 -16 -8 -16 -9 -16 -9 -16 -8 -26 7 16 8 16 9 16 8 16 8 16 8 16 8 16 7 16 8z"/>
<path class="a" d="M1775 1114l-16 -6 -16 -6 -16 -7 -16 -7 -16 -7 -16 -7 -26 6 16 7 16 7 16 7 16 6 16 6 16 7z"/>
<path class="a" d="M1173 912l-16 -3 -16 -4 -16 -4 -16 -4 -16 -4 -27 5 16 5 16 4 16 4 16 4 16 3z"/>
<path class="b" d="M1253 921l-16 -1 -16 -2 -16 -1 -16 -3 -16 -2 -27 6 16 3 16 2 16 2 16 2 16 2z"/>
<path class="c" d="M1333 932l-16 -3 -16 -2 -16 -3 -16 -1 -16 -2 -27 8 16 2 16 2 16 2 16 3 16 3z"/>
<path class="ac" d="M1349 936l-16 -4 -27 9 16 4z"/>
<path class="db" d="M1397 954l-16 -7 -16 -5 -16 -6 -27 9 16 5 16 6 16 6z"/>
<path class="c" d="M1509 1007l-16 -8 -16 -8 -16 -8 -16 -8 -16 -8 -16 -7 -16 -6 -27 8 16 7 16 7 16 7 16 8 16 8 16 8 16 8z"/>
<path class="b" d="M1653 1080l-16 -8 -16 -7 -16 -8 -16 -8 -16 -8 -16 -8 -16 -9 -16 -8 -16 -9 -27 8 16 8 16 8 16 8 16 8 16 8 16 8 16 8 16 7 16 7z"/>
<path class="a" d="M1749 1120l-16 -7 -16 -6 -16 -6 -16 -7 -16 -7 -16 -7 -27 5 16 7 16 7 16 7 16 6 16 7 16 6z"/>
<path class="a" d="M1146 918l-16 -3 -16 -4 -16 -4 -16 -4 -16 -5 -26 6 16 4 16 5 16 4 16 3 16 4z"/>
<path class="b" d="M1242 931l-16 -2 -16 -2 -16 -2 -16 -2 -16 -2 -16 -3 -26 6 16 3 16 3 16 2 16 2 16 2 16 2z"/>
<path class="c" d="M1482 1015l-16 -8 -16 -8 -16 -8 -16 -8 -16 -7 -16 -7 -16 -7 -16 -6 -16 -6 -16 -5 -16 -4 -16 -3 -16 -3 -16 -2 -16 -2 -26 7 16 2 16 3 16 3 16 4 16 4 16 5 16 6 16 6 16 6 16 7 16 7 16 8 16 7 16 8 16 8z"/>
<path class="b" d="M1610 1078l-16 -7 -16 -8 -16 -8 -16 -8 -16 -8 -16 -8 -16 -8 -16 -8 -26 7 16 8 16 8 16 8 16 8 16 7 16 8 16 8 16 7z"/>
<path class="a" d="M1722 1125l-16 -6 -16 -7 -16 -6 -16 -7 -16 -7 -16 -7 -16 -7 -26 6 16 7 16 7 16 7 16 6 16 7 16 6 16 6z"/>
<path class="a" d="M1120 924l-16 -4 -16 -3 -16 -4 -16 -5 -16 -4 -26 5 16 5 16 4 16 4 16 4 16 4z"/>
<path class="b" d="M1232 940l-16 -2 -16 -2 -16 -2 -16 -2 -16 -2 -16 -3 -16 -3 -26 6 16 3 16 3 16 3 16 2 16 2 16 3 16 2z"/>
<path class="c" d="M1440 1014l-16 -8 -16 -7 -16 -8 -16 -7 -16 -7 -16 -6 -16 -6 -16 -6 -16 -5 -16 -4 -16 -4 -16 -3 -16 -3 -26 8 16 3 16 3 16 4 16 4 16 5 16 6 16 6 16 7 16 6 16 7 16 7 16 8 16 7z"/>
<path class="b" d="M1584 1084l-16 -7 -16 -8 -16 -8 -16 -7 -16 -8 -16 -8 -16 -8 -16 -8 -16 -8 -26 7 16 8 16 8 16 8 16 7 16 8 16 8 16 7 16 7 16 8z"/>
<path class="a" d="M1696 1130l-16 -6 -16 -6 -16 -7 -16 -6 -16 -7 -16 -7 -16 -7 -26 6 16 7 16 6 16 7 16 7 16 6 16 6 16 6z"/>
<path class="a" d="M1110 933l-16 -3 -16 -4 -16 -4 -16 -4 -16 -4 -27 5 16 5 16 4 16 4 16 4 16 3z"/>
<path class="b" d="M1222 951l-16 -3 -16 -2 -16 -3 -16 -2 -16 -2 -16 -3 -16 -3 -27 6 16 3 16 3 16 3 16 2 16 3 16 3 16 3z"/>
<path class="c" d="M1398 1014l-16 -8 -16 -7 -16 -7 -16 -6 -16 -7 -16 -6 -16 -6 -16 -5 -16 -4 -16 -4 -16 -3 -27 8 16 3 16 4 16 4 16 5 16 6 16 6 16 6 16 7 16 7 16 7 16 7z"/>
<path class="b" d="M1558 1090l-16 -8 -16 -7 -16 -7 -16 -8 -16 -8 -16 -7 -16 -8 -16 -8 -16 -8 -16 -7 -27 7 16 8 16 7 16 8 16 7 16 8 16 7 16 8 16 7 16 7 16 7z"/>
<path class="a" d="M1670 1135l-16 -6 -16 -6 -16 -6 -16 -7 -16 -7 -16 -6 -16 -7 -27 5 16 7 16 7 16 7 16 6 16 6 16 7 16 6z"/>
<path class="a" d="M1083 939l-16 -3 -16 -4 -16 -4 -16 -4 -16 -5 -26 6 16 4 16 5 16 4 16 4 16 3z"/>
<path class="b" d="M1211 962l-16 -3 -16 -3 -16 -3 -16 -3 -16 -2 -16 -3 -16 -3 -16 -3 -26 6 16 3 16 3 16 3 16 3 16 3 16 3 16 3 16 4z"/>
<path class="c" d="M1339 1007l-16 -7 -16 -7 -16 -6 -16 -6 -16 -6 -16 -5 -16 -4 -16 -4 -26 8 16 4 16 4 16 5 16 6 16 6 16 6 16 7 16 6z"/>
<path class="b" d="M1515 1088l-16 -7 -16 -7 -16 -8 -16 -7 -16 -8 -16 -7 -16 -8 -16 -7 -16 -8 -16 -7 -16 -7 -26 7 16 7 16 7 16 8 16 7 16 7 16 8 16 7 16 7 16 8 16 7 16 7z"/>
<path class="a" d="M1643 1141l-16 -6 -16 -7 -16 -6 -16 -6 -16 -7 -16 -7 -16 -7 -16 -7 -26 6 16 7 16 7 16 6 16 7 16 6 16 7 16 6 16 6z"/>
<path class="a" d="M1057 945l-16 -3 -16 -4 -16 -4 -16 -5 -16 -4 -27 5 16 5 16 4 16 4 16 4 16 4z"/>
<path class="b" d="M1201 974l-16 -4 -16 -4 -16 -3 -16 -3 -16 -3 -16 -3 -16 -3 -16 -3 -16 -3 -27 6 16 4 16 3 16 3 16 3 16 3 16 3 16 3 16 4 16 4z"/>
<path class="c" d="M1281 1001l-16 -6 -16 -6 -16 -6 -16 -5 -16 -4 -27 7 16 5 16 5 16 6 16 6 16 6z"/>
<path class="b" d="M1489 1094l-16 -7 -16 -7 -16 -8 -16 -7 -16 -7 -16 -8 -16 -7 -16 -7 -16 -8 -16 -7 -16 -7 -16 -6 -16 -7 -27 8 16 6 16 7 16 7 16 7 16 7 16 7 16 7 16 7 16 7 16 8 16 7 16 7 16 7z"/>
<path class="a" d="M1617 1146l-16 -6 -16 -6 -16 -7 -16 -6 -16 -7 -16 -6 -16 -7 -16 -7 -27 6 16 7 16 6 16 7 16 6 16 7 16 6 16 6 16 6z"/>
<path class="a" d="M1046 955l-16 -4 -16 -4 -16 -4 -16 -4 -16 -4 -16 -5 -26 5 16 5 16 5 16 4 16 4 16 4 16 4z"/>
<path class="b" d="M1462 1100l-16 -7 -16 -7 -16 -7 -16 -8 -16 -7 -16 -7 -16 -7 -16 -7 -16 -7 -16 -7 -16 -7 -16 -7 -16 -6 -16 -6 -16 -6 -16 -6 -16 -5 -16 -5 -16 -4 -16 -4 -16 -3 -16 -3 -16 -3 -16 -3 -16 -3 -16 -3 -26 6 16 3 16 3 16 3 16 4 16 3 16 3 16 4 16 5 16 4 16 6 16 5 16 6 16 6 16 7 16 6 16 7 16 7 16 6 16 7 16 7 16 8 16 7 16 7 16 7 16 7 16 6z"/>
<path class="a" d="M1574 1145l-16 -6 -16 -6 -16 -7 -16 -6 -16 -7 -16 -6 -16 -7 -26 5 16 7 16 7 16 6 16 7 16 6 16 6 16 7z"/>
<path class="a" d="M1020 961l-16 -4 -16 -4 -16 -4 -16 -4 -16 -5 -27 6 16 4 16 5 16 4 16 4 16 4z"/>
<path class="b" d="M1420 1099l-16 -7 -16 -7 -16 -7 -16 -7 -16 -8 -16 -7 -16 -7 -16 -6 -16 -7 -16 -7 -16 -6 -16 -7 -16 -6 -16 -6 -16 -5 -16 -6 -16 -4 -16 -5 -16 -4 -16 -3 -16 -3 -16 -4 -16 -3 -16 -3 -16 -3 -27 6 16 3 16 4 16 3 16 3 16 4 16 4 16 3 16 5 16 5 16 5 16 6 16 5 16 6 16 7 16 6 16 7 16 6 16 7 16 7 16 7 16 7 16 7 16 7 16 7 16 6z"/>
<path class="a" d="M1548 1151l-16 -7 -16 -6 -16 -6 -16 -7 -16 -6 -16 -7 -16 -7 -16 -6 -27 5 16 7 16 7 16 6 16 7 16 6 16 7 16 6 16 6z"/>
<path class="a" d="M993 967l-16 -4 -16 -4 -16 -4 -16 -5 -16 -4 -26 5 16 5 16 4 16 5 16 4 16 4z"/>
<path class="b" d="M1393 1104l-16 -6 -16 -7 -16 -7 -16 -7 -16 -7 -16 -7 -16 -7 -16 -7 -16 -6 -16 -7 -16 -6 -16 -7 -16 -6 -16 -5 -16 -6 -16 -5 -16 -5 -16 -5 -16 -3 -16 -4 -16 -4 -16 -3 -16 -3 -16 -4 -16 -3 -26 6 16 3 16 4 16 3 16 4 16 4 16 3 16 4 16 5 16 5 16 5 16 6 16 5 16 6 16 7 16 6 16 6 16 7 16 7 16 6 16 7 16 7 16 7 16 7 16 6 16 7z"/>
<path class="a" d="M1521 1156l-16 -6 -16 -6 -16 -7 -16 -6 -16 -7 -16 -6 -16 -7 -16 -7 -26 6 16 7 16 6 16 7 16 6 16 7 16 6 16 6 16 6z"/>
<path class="a" d="M983 976l-16 -3 -16 -4 -16 -4 -16 -5 -16 -4 -16 -5 -27 5 16 5 16 5 16 4 16 4 16 4 16 4z"/>
<path class="b" d="M1351 1103l-16 -6 -16 -7 -16 -7 -16 -7 -16 -7 -16 -6 -16 -7 -16 -7 -16 -6 -16 -6 -16 -7 -16 -6 -16 -5 -16 -6 -16 -5 -16 -5 -16 -5 -16 -4 -16 -3 -16 -4 -16 -4 -16 -3 -16 -4 -27 6 16 4 16 4 16 3 16 4 16 4 16 4 16 5 16 5 16 5 16 6 16 5 16 6 16 7 16 6 16 6 16 7 16 6 16 7 16 7 16 6 16 7 16 7 16 6z"/>
<path class="a" d="M1495 1161l-16 -6 -16 -6 -16 -6 -16 -7 -16 -6 -16 -7 -16 -6 -16 -7 -16 -7 -27 6 16 7 16 7 16 6 16 6 16 7 16 6 16 6 16 6 16 6z"/>
<path class="a" d="M956 982l-16 -4 -16 -4 -16 -4 -16 -4 -16 -5 -16 -5 -26 6 16 5 16 4 16 5 16 4 16 4 16 4z"/>
<path class="b" d="M1324 1109l-16 -6 -16 -7 -16 -7 -16 -6 -16 -7 -16 -7 -16 -6 -16 -7 -16 -6 -16 -6 -16 -7 -16 -6 -16 -5 -16 -6 -16 -5 -16 -5 -16 -5 -16 -4 -16 -4 -16 -4 -16 -3 -16 -4 -16 -4 -26 6 16 4 16 4 16 4 16 4 16 4 16 4 16 5 16 5 16 5 16 6 16 5 16 6 16 6 16 6 16 7 16 6 16 7 16 6 16 7 16 6 16 7 16 7 16 6z"/>
<path class="a" d="M1468 1166l-16 -6 -16 -6 -16 -6 -16 -6 -16 -7 -16 -6 -16 -6 -16 -7 -16 -7 -26 6 16 7 16 6 16 7 16 6 16 6 16 6 16 7 16 6 16 6z"/>
<path class="a" d="M946 992l-16 -4 -16 -4 -16 -4 -16 -4 -16 -5 -16 -4 -27 5 16 5 16 4 16 5 16 4 16 4 16 4z"/>
<path class="b" d="M1282 1109l-16 -7 -16 -7 -16 -6 -16 -7 -16 -6 -16 -7 -16 -6 -16 -7 -16 -6 -16 -6 -16 -6 -16 -5 -16 -6 -16 -5 -16 -5 -16 -5 -16 -4 -16 -4 -16 -4 -16 -4 -16 -4 -27 6 16 4 16 4 16 4 16 4 16 5 16 4 16 5 16 6 16 5 16 6 16 6 16 6 16 6 16 6 16 7 16 6 16 6 16 7 16 6 16 7 16 6z"/>
<path class="a" d="M1442 1172l-16 -6 -16 -6 -16 -7 -16 -6 -16 -6 -16 -6 -16 -7 -16 -6 -16 -7 -16 -6 -27 5 16 7 16 6 16 7 16 6 16 6 16 7 16 6 16 6 16 6 16 6z"/>
<path class="a" d="M919 998l-16 -4 -16 -4 -16 -4 -16 -5 -16 -4 -16 -5 -26 6 16 4 16 5 16 4 16 5 16 4 16 4z"/>
<path class="b" d="M1239 1108l-16 -7 -16 -6 -16 -7 -16 -6 -16 -6 -16 -7 -16 -6 -16 -6 -16 -6 -16 -6 -16 -6 -16 -5 -16 -6 -16 -5 -16 -4 -16 -5 -16 -4 -16 -4 -16 -4 -16 -4 -26 6 16 4 16 4 16 4 16 5 16 4 16 5 16 5 16 5 16 6 16 6 16 6 16 5 16 7 16 6 16 6 16 6 16 7 16 6 16 6 16 7z"/>
<path class="a" d="M1399 1171l-16 -6 -16 -6 -16 -6 -16 -7 -16 -6 -16 -6 -16 -7 -16 -6 -16 -7 -16 -6 -26 6 16 6 16 7 16 6 16 6 16 7 16 6 16 6 16 6 16 6 16 6z"/>
<path class="a" d="M909 1008l-16 -4 -16 -4 -16 -4 -16 -5 -16 -4 -16 -5 -16 -4 -27 5 16 5 16 5 16 4 16 5 16 4 16 4 16 4z"/>
<path class="b" d="M1213 1114l-16 -7 -16 -6 -16 -6 -16 -7 -16 -6 -16 -6 -16 -6 -16 -7 -16 -5 -16 -6 -16 -6 -16 -6 -16 -5 -16 -5 -16 -5 -16 -4 -16 -5 -16 -4 -16 -4 -27 6 16 4 16 5 16 4 16 5 16 4 16 6 16 5 16 5 16 6 16 6 16 6 16 6 16 6 16 6 16 6 16 7 16 6 16 6 16 7z"/>
<path class="a" d="M1373 1176l-16 -6 -16 -6 -16 -6 -16 -6 -16 -6 -16 -7 -16 -6 -16 -6 -16 -7 -16 -6 -27 6 16 6 16 6 16 7 16 6 16 6 16 6 16 7 16 6 16 6 16 6z"/>
<path class="a" d="M882 1014l-16 -4 -16 -4 -16 -4 -16 -5 -16 -4 -16 -5 -26 5 16 5 16 5 16 4 16 5 16 4 16 4z"/>
<path class="b" d="M1170 1113l-16 -6 -16 -6 -16 -7 -16 -6 -16 -6 -16 -6 -16 -6 -16 -6 -16 -6 -16 -6 -16 -5 -16 -5 -16 -6 -16 -4 -16 -5 -16 -4 -16 -5 -16 -4 -26 6 16 5 16 4 16 4 16 5 16 5 16 5 16 5 16 6 16 6 16 5 16 6 16 6 16 6 16 6 16 7 16 6 16 6 16 6z"/>
<path class="a" d="M1346 1182l-16 -6 -16 -6 -16 -6 -16 -7 -16 -6 -16 -6 -16 -6 -16 -7 -16 -6 -16 -6 -16 -7 -26 6 16 7 16 6 16 6 16 6 16 7 16 6 16 6 16 6 16 6 16 6 16 6z"/>
</g>
<path d="M52.3 91.3V17.8" stroke="#9a9a9a" stroke-width="1" fill="none"/>
<path d="M52.3 91.3h-3" stroke="#9a9a9a" stroke-width="1" fill="none"/>
<path d="M52.3 66.8h-3" stroke="#9a9a9a" stroke-width="1" fill="none"/>
<path d="M52.3 42.3h-3" stroke="#9a9a9a" stroke-width="1" fill="none"/>
<path d="M52.3 17.8h-3" stroke="#9a9a9a" stroke-width="1" fill="none"/>
<g transform="translate(6.30,18.22) scale(0.92,1)"><text font-size="16.3" font-weight="bold" fill="#111" stroke="#111">A</text></g>
<g transform="translate(16.20,80.80) rotate(-90) translate(-1.99,3.39) scale(1.15,1)"><text font-size="10.5" font-weight="bold" fill="#1a1a1a" stroke="#1a1a1a">t</text></g>
<g transform="translate(20.60,75.00) rotate(-90) translate(-4.26,2.50) scale(0.95,1)"><text font-size="7" font-weight="bold" fill="#1a1a1a" stroke="#1a1a1a">int</text></g>
<g transform="translate(17.10,48.30) rotate(-90) translate(-16.45,2.70) scale(1.15,1)"><text font-size="10.5" font-weight="bold" fill="#1a1a1a" stroke="#1a1a1a">(MPa)</text></g>
<g transform="translate(78.80,131.70) rotate(19) translate(-58.49,2.99) scale(1.07,1)"><text font-size="11.6" font-weight="bold" fill="#1a1a1a" stroke="#1a1a1a">Ply Angle (Degrees)</text></g>
<g transform="translate(237.70,134.00) rotate(-10) translate(-4.36,4.55) scale(0.95,1)"><text font-size="13.2" font-weight="bold" fill="#1a1a1a" stroke="#1a1a1a">E</text></g>
<g transform="translate(248.20,137.20) rotate(-10) translate(-5.25,2.97) scale(1.12,1)"><text font-size="8.6" font-weight="bold" fill="#1a1a1a" stroke="#1a1a1a">11</text><path d="M0.23 -1.38H1.88V1.2H0.23ZM3.31 -1.38H4.86V1.2H3.31Z" fill="#fff"/><path d="M5.01 -1.38H6.67V1.2H5.01ZM8.10 -1.38H9.64V1.2H8.10Z" fill="#fff"/></g>
<g transform="translate(29.89,20.16) scale(1.02,1)"><text font-size="11.5" fill="#2e2e2e" stroke="#2e2e2e">1.5</text><path d="M0.53 -1.36H2.75V1.2H0.53ZM4.05 -1.36H6.18V1.2H4.05Z" fill="#fff"/></g>
<g transform="translate(40.52,45.52) scale(1.02,1)"><text font-size="11.5" fill="#2e2e2e" stroke="#2e2e2e">1</text><path d="M0.53 -1.36H2.75V1.2H0.53ZM4.05 -1.36H6.18V1.2H4.05Z" fill="#fff"/></g>
<g transform="translate(31.15,69.17) scale(1.02,1)"><text font-size="11.5" fill="#2e2e2e" stroke="#2e2e2e">0.5</text></g>
<g transform="translate(38.42,91.02) scale(1.02,1)"><text font-size="11.5" fill="#2e2e2e" stroke="#2e2e2e">0</text></g>
<g transform="translate(36.13,102.62) scale(1.02,1)"><text font-size="11.5" fill="#2e2e2e" stroke="#2e2e2e">90</text></g>
<g transform="translate(66.55,114.32) scale(1.02,1)"><text font-size="11.5" fill="#2e2e2e" stroke="#2e2e2e">60</text></g>
<g transform="translate(100.36,124.92) scale(1.02,1)"><text font-size="11.5" fill="#2e2e2e" stroke="#2e2e2e">30</text></g>
<g transform="translate(138.67,134.27) scale(1.02,1)"><text font-size="11.5" fill="#2e2e2e" stroke="#2e2e2e">0</text></g>
<g transform="translate(151.97,135.02) scale(1.02,1)"><text font-size="11.5" fill="#2e2e2e" stroke="#2e2e2e">0</text></g>
<g transform="translate(184.99,129.37) scale(1.02,1)"><text font-size="11.5" fill="#2e2e2e" stroke="#2e2e2e">0.025</text></g>
<g transform="translate(217.99,122.02) scale(1.02,1)"><text font-size="11.5" fill="#2e2e2e" stroke="#2e2e2e">0.05</text></g>
<g transform="translate(247.89,117.32) scale(1.02,1)"><text font-size="11.5" fill="#2e2e2e" stroke="#2e2e2e">0.075</text></g>
<g transform="translate(278.83,107.77) scale(1.02,1)"><text font-size="11.5" fill="#2e2e2e" stroke="#2e2e2e">0.1</text><path d="M10.12 -1.36H12.35V1.2H10.12ZM13.64 -1.36H15.77V1.2H13.64Z" fill="#fff"/></g>
<path fill="#333096" d="M462.8 124.5 L589.8 99.4 L493.8 66.2 L366.8 91.3 Z"/>
<g transform="scale(.1)" stroke-width="6">
<path class="a" d="M5066 694l-16 -1 -16 -3 -16 -4 -16 -4 -26 5 16 5 16 4 16 3 16 1z"/>
<path class="b" d="M5114 689l-16 3 -16 2 -16 0 -26 6 16 1 16 -2 16 -3z"/>
<path class="c" d="M5130 685l-16 4 -26 7 16 -3z"/>
<path class="db" d="M5146 679l-16 6 -26 8 16 -6z"/>
<path class="d" d="M5162 671l-16 8 -26 8 16 -7z"/>
<path class="cb" d="M5178 661l-16 10 -26 9 16 -9z"/>
<path class="f" d="M5194 649l-16 12 -26 10 16 -11z"/>
<path class="tb" d="M5210 635l-16 14 -26 11 16 -13z"/>
<path class="ub" d="M5226 620l-16 15 -26 12 16 -14z"/>
<path class="jc" d="M5242 603l-16 17 -26 13 16 -15z"/>
<path class="k" d="M5258 586l-16 17 -26 15 16 -15z"/>
<path class="jb" d="M5274 570l-16 16 -26 17 16 -16z"/>
<path class="nc" d="M5290 554l-16 16 -26 17 16 -15z"/>
<path class="v" d="M5306 539l-16 15 -26 18 16 -13z"/>
<path class="r" d="M5322 527l-16 12 -26 20 16 -11z"/>
<path class="ed" d="M5338 518l-16 9 -26 21 16 -8z"/>
<path class="fd" d="M5354 513l-16 5 -26 22 16 -5z"/>
<path class="gd" d="M5370 511l-16 2 -26 22 16 -1z"/>
<path class="hd" d="M5386 515l-16 -4 -26 23 16 3z"/>
<path class="id" d="M5402 523l-16 -8 -26 22 16 9z"/>
<path class="gd" d="M5418 539l-16 -16 -26 23 16 14z"/>
<path class="jd" d="M5434 559l-16 -20 -26 21 16 20z"/>
<path class="s" d="M5450 585l-16 -26 -26 21 16 23z"/>
<path class="lb" d="M5466 614l-16 -29 -26 18 16 28z"/>
<path class="nc" d="M5482 646l-16 -32 -26 17 16 29z"/>
<path class="l" d="M5498 678l-16 -32 -26 14 16 30z"/>
<path class="oc" d="M5514 711l-16 -33 -26 12 16 31z"/>
<path class="i" d="M5530 742l-16 -31 -26 10 16 29z"/>
<path class="fb" d="M5546 771l-16 -29 -26 8 16 27z"/>
<path class="bc" d="M5562 797l-16 -26 -26 6 16 26z"/>
<path class="cb" d="M5578 820l-16 -23 -26 6 16 22z"/>
<path class="d" d="M5594 841l-16 -21 -26 5 16 20z"/>
<path class="c" d="M5626 874l-16 -15 -16 -18 -26 4 16 18 16 15z"/>
<path class="b" d="M5658 901l-16 -12 -16 -15 -26 4 16 15 16 12z"/>
<path class="a" d="M5706 926l-16 -8 -16 -8 -16 -9 -26 4 16 10 16 8 16 7z"/>
<path class="a" d="M5040 700l-16 -1 -16 -3 -16 -4 -16 -5 -27 6 16 4 16 4 16 3 16 3z"/>
<path class="b" d="M5088 696l-16 3 -16 2 -16 -1 -27 7 16 0 16 -1 16 -3z"/>
<path class="c" d="M5104 693l-16 3 -27 7 16 -3z"/>
<path class="ac" d="M5120 687l-16 6 -27 7 16 -4z"/>
<path class="d" d="M5136 680l-16 7 -27 9 16 -7z"/>
<path class="cb" d="M5152 671l-16 9 -27 9 16 -8z"/>
<path class="bb" d="M5168 660l-16 11 -27 10 16 -10z"/>
<path class="eb" d="M5184 647l-16 13 -27 11 16 -12z"/>
<path class="h" d="M5200 633l-16 14 -27 12 16 -13z"/>
<path class="pb" d="M5216 618l-16 15 -27 13 16 -14z"/>
<path class="oc" d="M5232 603l-16 15 -27 14 16 -14z"/>
<path class="x" d="M5248 587l-16 16 -27 15 16 -14z"/>
<path class="m" d="M5264 572l-16 15 -27 17 16 -14z"/>
<path class="gc" d="M5280 559l-16 13 -27 18 16 -12z"/>
<path class="lb" d="M5296 548l-16 11 -27 19 16 -10z"/>
<path class="r" d="M5312 540l-16 8 -27 20 16 -8z"/>
<path class="kd" d="M5328 535l-16 5 -27 20 16 -4z"/>
<path class="ld" d="M5344 534l-16 1 -27 21 16 0z"/>
<path class="md" d="M5360 537l-16 -3 -27 22 16 3z"/>
<path class="jd" d="M5376 546l-16 -9 -27 22 16 8z"/>
<path class="nd" d="M5392 560l-16 -14 -27 21 16 14z"/>
<path class="s" d="M5408 580l-16 -20 -27 21 16 18z"/>
<path class="u" d="M5424 603l-16 -23 -27 19 16 22z"/>
<path class="od" d="M5440 631l-16 -28 -27 18 16 25z"/>
<path class="pd" d="M5456 660l-16 -29 -27 15 16 28z"/>
<path class="qd" d="M5472 690l-16 -30 -27 14 16 28z"/>
<path class="j" d="M5488 721l-16 -31 -27 12 16 29z"/>
<path class="gb" d="M5504 750l-16 -29 -27 10 16 27z"/>
<path class="tb" d="M5520 777l-16 -27 -27 8 16 27z"/>
<path class="bb" d="M5536 803l-16 -26 -27 8 16 24z"/>
<path class="cb" d="M5552 825l-16 -22 -27 6 16 22z"/>
<path class="d" d="M5568 845l-16 -20 -27 6 16 19z"/>
<path class="c" d="M5600 878l-16 -15 -16 -18 -27 5 16 17 16 15z"/>
<path class="b" d="M5632 905l-16 -12 -16 -15 -27 4 16 15 16 12z"/>
<path class="a" d="M5680 930l-16 -7 -16 -8 -16 -10 -27 4 16 10 16 9 16 7z"/>
<path class="a" d="M5013 707l-16 -3 -16 -3 -16 -4 -26 6 16 4 16 3 16 3z"/>
<path class="b" d="M5061 703l-16 3 -16 1 -16 0 -26 6 16 1 16 -1 16 -3z"/>
<path class="c" d="M5093 696l-16 4 -16 3 -26 7 16 -2 16 -4z"/>
<path class="db" d="M5109 689l-16 7 -26 8 16 -6z"/>
<path class="cb" d="M5125 681l-16 8 -26 9 16 -8z"/>
<path class="e" d="M5141 671l-16 10 -26 9 16 -9z"/>
<path class="sb" d="M5157 659l-16 12 -26 10 16 -10z"/>
<path class="fb" d="M5173 646l-16 13 -26 12 16 -12z"/>
<path class="gb" d="M5189 632l-16 14 -26 13 16 -13z"/>
<path class="zc" d="M5205 618l-16 14 -26 14 16 -13z"/>
<path class="k" d="M5221 604l-16 14 -26 15 16 -13z"/>
<path class="mc" d="M5237 590l-16 14 -26 16 16 -13z"/>
<path class="kb" d="M5253 578l-16 12 -26 17 16 -11z"/>
<path class="mb" d="M5269 568l-16 10 -26 18 16 -9z"/>
<path class="lb" d="M5285 560l-16 8 -26 19 16 -7z"/>
<path class="q" d="M5301 556l-16 4 -26 20 16 -3z"/>
<path class="rd" d="M5317 556l-16 0 -26 21 16 -1z"/>
<path class="s" d="M5349 567l-16 -8 -16 -3 -26 20 16 4 16 8z"/>
<path class="r" d="M5365 581l-16 -14 -26 21 16 13z"/>
<path class="u" d="M5381 599l-16 -18 -26 20 16 17z"/>
<path class="o" d="M5397 621l-16 -22 -26 19 16 20z"/>
<path class="nc" d="M5413 646l-16 -25 -26 17 16 24z"/>
<path class="jb" d="M5429 674l-16 -28 -26 16 16 25z"/>
<path class="pc" d="M5445 702l-16 -28 -26 13 16 27z"/>
<path class="sd" d="M5461 731l-16 -29 -26 12 16 27z"/>
<path class="ub" d="M5477 758l-16 -27 -26 10 16 26z"/>
<path class="tb" d="M5493 785l-16 -27 -26 9 16 25z"/>
<path class="bb" d="M5509 809l-16 -24 -26 7 16 23z"/>
<path class="cb" d="M5525 831l-16 -22 -26 6 16 21z"/>
<path class="d" d="M5541 850l-16 -19 -26 5 16 19z"/>
<path class="c" d="M5573 882l-16 -15 -16 -17 -26 5 16 17 16 15z"/>
<path class="b" d="M5621 919l-16 -10 -16 -12 -16 -15 -26 5 16 14 16 13 16 10z"/>
<path class="a" d="M5669 942l-16 -7 -16 -7 -16 -9 -26 5 16 9 16 7 16 7z"/>
<path class="a" d="M4987 713l-16 -3 -16 -3 -16 -4 -27 5 16 4 16 4 16 2z"/>
<path class="b" d="M5035 710l-16 3 -16 1 -16 -1 -27 5 16 2 16 0 16 -3z"/>
<path class="c" d="M5067 704l-16 4 -16 2 -27 7 16 -2 16 -3z"/>
<path class="db" d="M5083 698l-16 6 -27 8 16 -6z"/>
<path class="d" d="M5099 690l-16 8 -27 8 16 -6z"/>
<path class="e" d="M5115 681l-16 9 -27 10 16 -9z"/>
<path class="f" d="M5131 671l-16 10 -27 10 16 -9z"/>
<path class="g" d="M5147 659l-16 12 -27 11 16 -11z"/>
<path class="ub" d="M5163 646l-16 13 -27 12 16 -12z"/>
<path class="kc" d="M5179 633l-16 13 -27 13 16 -12z"/>
<path class="oc" d="M5195 620l-16 13 -27 14 16 -12z"/>
<path class="ib" d="M5211 607l-16 13 -27 15 16 -11z"/>
<path class="jb" d="M5227 596l-16 11 -27 17 16 -11z"/>
<path class="nb" d="M5243 587l-16 9 -27 17 16 -8z"/>
<path class="mb" d="M5259 580l-16 7 -27 18 16 -6z"/>
<path class="v" d="M5275 577l-16 3 -27 19 16 -3z"/>
<path class="p" d="M5291 576l-16 1 -27 19 16 0z"/>
<path class="u" d="M5323 588l-16 -8 -16 -4 -27 20 16 4 16 8z"/>
<path class="p" d="M5339 601l-16 -13 -27 20 16 12z"/>
<path class="o" d="M5355 618l-16 -17 -27 19 16 16z"/>
<path class="w" d="M5371 638l-16 -20 -27 18 16 19z"/>
<path class="m" d="M5387 662l-16 -24 -27 17 16 22z"/>
<path class="vb" d="M5403 687l-16 -25 -27 15 16 24z"/>
<path class="bd" d="M5419 714l-16 -27 -27 14 16 25z"/>
<path class="hb" d="M5435 741l-16 -27 -27 12 16 25z"/>
<path class="ab" d="M5451 767l-16 -26 -27 10 16 25z"/>
<path class="g" d="M5467 792l-16 -25 -27 9 16 23z"/>
<path class="bb" d="M5483 815l-16 -23 -27 7 16 22z"/>
<path class="cb" d="M5499 836l-16 -21 -27 6 16 21z"/>
<path class="d" d="M5515 855l-16 -19 -27 6 16 18z"/>
<path class="c" d="M5547 887l-16 -15 -16 -17 -27 5 16 17 16 14z"/>
<path class="b" d="M5595 924l-16 -10 -16 -13 -16 -14 -27 4 16 15 16 12 16 11z"/>
<path class="a" d="M5643 947l-16 -7 -16 -7 -16 -9 -27 5 16 8 16 8 16 7z"/>
<path class="a" d="M4960 718l-16 -2 -16 -4 -16 -4 -26 6 16 4 16 4 16 2z"/>
<path class="b" d="M5024 715l-16 2 -16 3 -16 0 -16 -2 -26 6 16 2 16 0 16 -1 16 -3z"/>
<path class="c" d="M5040 712l-16 3 -26 7 16 -3z"/>
<path class="db" d="M5056 706l-16 6 -26 7 16 -4z"/>
<path class="d" d="M5072 700l-16 6 -26 9 16 -6z"/>
<path class="cb" d="M5088 691l-16 9 -26 9 16 -8z"/>
<path class="bb" d="M5104 682l-16 9 -26 10 16 -8z"/>
<path class="eb" d="M5120 671l-16 11 -26 11 16 -10z"/>
<path class="dd" d="M5136 659l-16 12 -26 12 16 -11z"/>
<path class="cc" d="M5152 647l-16 12 -26 13 16 -11z"/>
<path class="zc" d="M5168 635l-16 12 -26 14 16 -11z"/>
<path class="k" d="M5184 624l-16 11 -26 15 16 -11z"/>
<path class="vb" d="M5200 613l-16 11 -26 15 16 -9z"/>
<path class="wb" d="M5216 605l-16 8 -26 17 16 -8z"/>
<path class="nb" d="M5232 599l-16 6 -26 17 16 -5z"/>
<path class="gc" d="M5248 596l-16 3 -26 18 16 -2z"/>
<path class="td" d="M5264 596l-16 0 -26 19 16 0z"/>
<path class="o" d="M5296 608l-16 -8 -16 -4 -26 19 16 4 16 8z"/>
<path class="xb" d="M5312 620l-16 -12 -26 19 16 11z"/>
<path class="w" d="M5328 636l-16 -16 -26 18 16 15z"/>
<path class="kb" d="M5344 655l-16 -19 -26 17 16 18z"/>
<path class="jb" d="M5360 677l-16 -22 -26 16 16 21z"/>
<path class="ec" d="M5376 701l-16 -24 -26 15 16 22z"/>
<path class="ob" d="M5392 726l-16 -25 -26 13 16 23z"/>
<path class="pb" d="M5408 751l-16 -25 -26 11 16 24z"/>
<path class="zb" d="M5424 776l-16 -25 -26 10 16 23z"/>
<path class="eb" d="M5440 799l-16 -23 -26 8 16 23z"/>
<path class="bb" d="M5456 821l-16 -22 -26 8 16 21z"/>
<path class="cb" d="M5472 842l-16 -21 -26 7 16 20z"/>
<path class="d" d="M5488 860l-16 -18 -26 6 16 18z"/>
<path class="c" d="M5520 891l-16 -14 -16 -17 -26 6 16 16 16 14z"/>
<path class="b" d="M5568 929l-16 -11 -16 -12 -16 -15 -26 5 16 14 16 13 16 10z"/>
<path class="a" d="M5616 952l-16 -7 -16 -8 -16 -8 -26 4 16 9 16 8 16 7z"/>
<path class="a" d="M4950 726l-16 -2 -16 -2 -16 -4 -16 -4 -27 5 16 4 16 4 16 3 16 2z"/>
<path class="b" d="M4998 722l-16 3 -16 1 -16 0 -27 6 16 1 16 -1 16 -3z"/>
<path class="c" d="M5030 715l-16 4 -16 3 -27 7 16 -2 16 -4z"/>
<path class="d" d="M5046 709l-16 6 -27 8 16 -5z"/>
<path class="cb" d="M5062 701l-16 8 -27 9 16 -7z"/>
<path class="e" d="M5078 693l-16 8 -27 10 16 -8z"/>
<path class="sb" d="M5094 683l-16 10 -27 10 16 -9z"/>
<path class="tb" d="M5110 672l-16 11 -27 11 16 -10z"/>
<path class="ub" d="M5126 661l-16 11 -27 12 16 -10z"/>
<path class="kc" d="M5142 650l-16 11 -27 13 16 -10z"/>
<path class="ob" d="M5158 639l-16 11 -27 14 16 -10z"/>
<path class="yc" d="M5174 630l-16 9 -27 15 16 -8z"/>
<path class="l" d="M5190 622l-16 8 -27 16 16 -7z"/>
<path class="wb" d="M5206 617l-16 5 -27 17 16 -4z"/>
<path class="kb" d="M5222 615l-16 2 -27 18 16 -2z"/>
<path class="n" d="M5270 627l-16 -8 -16 -4 -16 0 -27 18 16 0 16 4 16 8z"/>
<path class="nc" d="M5286 638l-16 -11 -27 18 16 11z"/>
<path class="hc" d="M5302 653l-16 -15 -27 18 16 14z"/>
<path class="vc" d="M5318 671l-16 -18 -27 17 16 17z"/>
<path class="x" d="M5334 692l-16 -21 -27 16 16 19z"/>
<path class="ic" d="M5350 714l-16 -22 -27 14 16 21z"/>
<path class="zc" d="M5366 737l-16 -23 -27 13 16 22z"/>
<path class="cc" d="M5382 761l-16 -24 -27 12 16 22z"/>
<path class="sc" d="M5398 784l-16 -23 -27 10 16 22z"/>
<path class="eb" d="M5414 807l-16 -23 -27 9 16 21z"/>
<path class="rb" d="M5430 828l-16 -21 -27 7 16 21z"/>
<path class="cb" d="M5446 848l-16 -20 -27 7 16 19z"/>
<path class="d" d="M5462 866l-16 -18 -27 6 16 17z"/>
<path class="c" d="M5494 896l-16 -14 -16 -16 -27 5 16 16 16 14z"/>
<path class="b" d="M5542 933l-16 -10 -16 -13 -16 -14 -27 5 16 14 16 12 16 11z"/>
<path class="a" d="M5590 957l-16 -7 -16 -8 -16 -9 -27 5 16 9 16 8 16 7z"/>
<path class="a" d="M4923 732l-16 -2 -16 -3 -16 -4 -16 -4 -26 5 16 5 16 4 16 3 16 2z"/>
<path class="b" d="M4971 729l-16 3 -16 1 -16 -1 -26 6 16 1 16 0 16 -3z"/>
<path class="c" d="M5003 723l-16 4 -16 2 -26 7 16 -2 16 -3z"/>
<path class="db" d="M5019 718l-16 5 -26 8 16 -5z"/>
<path class="d" d="M5035 711l-16 7 -26 8 16 -6z"/>
<path class="e" d="M5051 703l-16 8 -26 9 16 -7z"/>
<path class="bb" d="M5067 694l-16 9 -26 10 16 -8z"/>
<path class="qb" d="M5083 684l-16 10 -26 11 16 -9z"/>
<path class="zb" d="M5099 674l-16 10 -26 12 16 -9z"/>
<path class="cc" d="M5115 664l-16 10 -26 13 16 -9z"/>
<path class="jc" d="M5131 654l-16 10 -26 14 16 -9z"/>
<path class="y" d="M5147 646l-16 8 -26 15 16 -8z"/>
<path class="ec" d="M5163 639l-16 7 -26 15 16 -6z"/>
<path class="l" d="M5179 635l-16 4 -26 16 16 -4z"/>
<path class="vc" d="M5195 633l-16 2 -26 16 16 -1z"/>
<path class="m" d="M5211 633l-16 0 -26 17 16 1z"/>
<path class="hc" d="M5243 645l-16 -8 -16 -4 -26 18 16 4 16 7z"/>
<path class="m" d="M5259 656l-16 -11 -26 17 16 10z"/>
<path class="jb" d="M5275 670l-16 -14 -26 16 16 14z"/>
<path class="vb" d="M5291 687l-16 -17 -26 16 16 16z"/>
<path class="yc" d="M5307 706l-16 -19 -26 15 16 18z"/>
<path class="oc" d="M5323 727l-16 -21 -26 14 16 19z"/>
<path class="z" d="M5339 749l-16 -22 -26 12 16 21z"/>
<path class="ub" d="M5355 771l-16 -22 -26 11 16 21z"/>
<path class="fb" d="M5371 793l-16 -22 -26 10 16 21z"/>
<path class="sb" d="M5387 814l-16 -21 -26 9 16 20z"/>
<path class="rb" d="M5403 835l-16 -21 -26 8 16 20z"/>
<path class="cb" d="M5419 854l-16 -19 -26 7 16 18z"/>
<path class="d" d="M5435 871l-16 -17 -26 6 16 17z"/>
<path class="c" d="M5467 901l-16 -14 -16 -16 -26 6 16 15 16 14z"/>
<path class="b" d="M5515 938l-16 -11 -16 -12 -16 -14 -26 5 16 13 16 13 16 10z"/>
<path class="a" d="M5579 968l-16 -6 -16 -7 -16 -8 -16 -9 -26 4 16 10 16 8 16 7 16 6z"/>
<path class="a" d="M4897 738l-16 -2 -16 -3 -16 -4 -16 -5 -27 6 16 4 16 4 16 4 16 2z"/>
<path class="b" d="M4945 736l-16 3 -16 0 -16 -1 -27 6 16 2 16 -1 16 -2z"/>
<path class="c" d="M4977 731l-16 3 -16 2 -27 7 16 -1 16 -3z"/>
<path class="db" d="M4993 726l-16 5 -27 8 16 -4z"/>
<path class="d" d="M5009 720l-16 6 -27 9 16 -6z"/>
<path class="cb" d="M5025 713l-16 7 -27 9 16 -6z"/>
<path class="rb" d="M5041 705l-16 8 -27 10 16 -7z"/>
<path class="sb" d="M5057 696l-16 9 -27 11 16 -8z"/>
<path class="fb" d="M5073 687l-16 9 -27 12 16 -9z"/>
<path class="ub" d="M5089 678l-16 9 -27 12 16 -8z"/>
<path class="pb" d="M5105 669l-16 9 -27 13 16 -8z"/>
<path class="j" d="M5121 661l-16 8 -27 14 16 -7z"/>
<path class="ic" d="M5137 655l-16 6 -27 15 16 -5z"/>
<path class="ec" d="M5153 651l-16 4 -27 16 16 -4z"/>
<path class="vb" d="M5169 650l-16 1 -27 16 16 -1z"/>
<path class="mc" d="M5185 651l-16 -1 -27 16 16 1z"/>
<path class="jb" d="M5217 662l-16 -7 -16 -4 -27 16 16 5 16 7z"/>
<path class="mc" d="M5233 672l-16 -10 -27 17 16 10z"/>
<path class="vb" d="M5249 686l-16 -14 -27 17 16 12z"/>
<path class="ec" d="M5265 702l-16 -16 -27 15 16 15z"/>
<path class="y" d="M5281 720l-16 -18 -27 14 16 17z"/>
<path class="zc" d="M5297 739l-16 -19 -27 13 16 19z"/>
<path class="i" d="M5313 760l-16 -21 -27 13 16 19z"/>
<path class="h" d="M5329 781l-16 -21 -27 11 16 20z"/>
<path class="tb" d="M5345 802l-16 -21 -27 10 16 20z"/>
<path class="ad" d="M5361 822l-16 -20 -27 9 16 19z"/>
<path class="e" d="M5377 842l-16 -20 -27 8 16 19z"/>
<path class="cb" d="M5393 860l-16 -18 -27 7 16 17z"/>
<path class="db" d="M5409 877l-16 -17 -27 6 16 16z"/>
<path class="c" d="M5441 906l-16 -14 -16 -15 -27 5 16 15 16 14z"/>
<path class="b" d="M5489 942l-16 -10 -16 -13 -16 -13 -27 5 16 13 16 13 16 10z"/>
<path class="a" d="M5553 973l-16 -6 -16 -7 -16 -8 -16 -10 -27 5 16 9 16 8 16 8 16 6z"/>
<path class="a" d="M4870 744l-16 -2 -16 -4 -16 -4 -26 6 16 4 16 3 16 3z"/>
<path class="b" d="M4934 742l-16 1 -16 2 -16 1 -16 -2 -26 6 16 2 16 0 16 -1 16 -2z"/>
<path class="c" d="M4950 739l-16 3 -26 7 16 -2z"/>
<path class="db" d="M4966 735l-16 4 -26 8 16 -4z"/>
<path class="d" d="M4982 729l-16 6 -26 8 16 -5z"/>
<path class="cb" d="M4998 723l-16 6 -26 9 16 -5z"/>
<path class="e" d="M5014 716l-16 7 -26 10 16 -7z"/>
<path class="ad" d="M5030 708l-16 8 -26 10 16 -7z"/>
<path class="g" d="M5046 699l-16 9 -26 11 16 -8z"/>
<path class="zb" d="M5062 691l-16 8 -26 12 16 -7z"/>
<path class="gb" d="M5078 683l-16 8 -26 13 16 -7z"/>
<path class="hb" d="M5094 676l-16 7 -26 14 16 -7z"/>
<path class="ud" d="M5110 671l-16 5 -26 14 16 -4z"/>
<path class="ic" d="M5126 667l-16 4 -26 15 16 -3z"/>
<path class="yc" d="M5142 666l-16 1 -26 16 16 -1z"/>
<path class="ib" d="M5158 667l-16 -1 -26 16 16 2z"/>
<path class="x" d="M5190 679l-16 -7 -16 -5 -26 17 16 4 16 7z"/>
<path class="ib" d="M5206 689l-16 -10 -26 16 16 9z"/>
<path class="yc" d="M5222 701l-16 -12 -26 15 16 12z"/>
<path class="ic" d="M5238 716l-16 -15 -26 15 16 14z"/>
<path class="j" d="M5254 733l-16 -17 -26 14 16 16z"/>
<path class="z" d="M5270 752l-16 -19 -26 13 16 18z"/>
<path class="gb" d="M5286 771l-16 -19 -26 12 16 18z"/>
<path class="sc" d="M5302 791l-16 -20 -26 11 16 19z"/>
<path class="qb" d="M5318 811l-16 -20 -26 10 16 19z"/>
<path class="bb" d="M5334 830l-16 -19 -26 9 16 18z"/>
<path class="e" d="M5350 849l-16 -19 -26 8 16 18z"/>
<path class="d" d="M5366 866l-16 -17 -26 7 16 16z"/>
<path class="db" d="M5382 882l-16 -16 -26 6 16 16z"/>
<path class="c" d="M5414 911l-16 -14 -16 -15 -26 6 16 15 16 13z"/>
<path class="b" d="M5462 947l-16 -10 -16 -13 -16 -13 -26 5 16 13 16 12 16 11z"/>
<path class="a" d="M5526 978l-16 -6 -16 -8 -16 -8 -16 -9 -26 5 16 9 16 8 16 8 16 6z"/>
<path class="a" d="M4844 750l-16 -3 -16 -3 -16 -4 -27 5 16 4 16 4 16 3z"/>
<path class="b" d="M4908 749l-16 2 -16 1 -16 0 -16 -2 -27 6 16 2 16 1 16 -1 16 -2z"/>
<path class="c" d="M4940 743l-16 4 -16 2 -27 7 16 -2 16 -3z"/>
<path class="db" d="M4956 738l-16 5 -27 8 16 -4z"/>
<path class="d" d="M4972 733l-16 5 -27 9 16 -5z"/>
<path class="cb" d="M4988 726l-16 7 -27 9 16 -6z"/>
<path class="bb" d="M5004 719l-16 7 -27 10 16 -6z"/>
<path class="eb" d="M5020 711l-16 8 -27 11 16 -7z"/>
<path class="fb" d="M5036 704l-16 7 -27 12 16 -7z"/>
<path class="ub" d="M5052 697l-16 7 -27 12 16 -6z"/>
<path class="i" d="M5068 690l-16 7 -27 13 16 -6z"/>
<path class="dc" d="M5084 686l-16 4 -27 14 16 -4z"/>
<path class="ud" d="M5100 683l-16 3 -27 14 16 -2z"/>
<path class="y" d="M5116 682l-16 1 -27 15 16 -1z"/>
<path class="k" d="M5132 684l-16 -2 -27 15 16 2z"/>
<path class="yb" d="M5164 695l-16 -7 -16 -4 -27 15 16 4 16 7z"/>
<path class="k" d="M5180 704l-16 -9 -27 15 16 9z"/>
<path class="y" d="M5196 716l-16 -12 -27 15 16 12z"/>
<path class="ud" d="M5212 730l-16 -14 -27 15 16 13z"/>
<path class="dc" d="M5228 746l-16 -16 -27 14 16 15z"/>
<path class="i" d="M5244 764l-16 -18 -27 13 16 17z"/>
<path class="ub" d="M5260 782l-16 -18 -27 12 16 17z"/>
<path class="fb" d="M5276 801l-16 -19 -27 11 16 18z"/>
<path class="eb" d="M5292 820l-16 -19 -27 10 16 17z"/>
<path class="bb" d="M5308 838l-16 -18 -27 8 16 18z"/>
<path class="cb" d="M5324 856l-16 -18 -27 8 16 17z"/>
<path class="d" d="M5340 872l-16 -16 -27 7 16 16z"/>
<path class="db" d="M5356 888l-16 -16 -27 7 16 15z"/>
<path class="c" d="M5388 916l-16 -13 -16 -15 -27 6 16 14 16 13z"/>
<path class="b" d="M5452 961l-16 -9 -16 -11 -16 -12 -16 -13 -27 5 16 13 16 12 16 11 16 9z"/>
<path class="a" d="M5500 983l-16 -6 -16 -8 -16 -8 -27 5 16 8 16 8 16 6z"/>
<path class="a" d="M4833 758l-16 -2 -16 -3 -16 -4 -16 -4 -26 6 16 4 16 4 16 3 16 2z"/>
<path class="b" d="M4881 756l-16 2 -16 1 -16 -1 -26 6 16 1 16 0 16 -2z"/>
<path class="c" d="M4913 751l-16 3 -16 2 -26 7 16 -1 16 -3z"/>
<path class="db" d="M4929 747l-16 4 -26 8 16 -4z"/>
<path class="d" d="M4945 742l-16 5 -26 8 16 -4z"/>
<path class="cb" d="M4961 736l-16 6 -26 9 16 -5z"/>
<path class="rb" d="M4977 730l-16 6 -26 10 16 -6z"/>
<path class="ad" d="M4993 723l-16 7 -26 10 16 -6z"/>
<path class="g" d="M5009 716l-16 7 -26 11 16 -6z"/>
<path class="zb" d="M5025 710l-16 6 -26 12 16 -6z"/>
<path class="ub" d="M5041 704l-16 6 -26 12 16 -5z"/>
<path class="pb" d="M5057 700l-16 4 -26 13 16 -3z"/>
<path class="dc" d="M5073 698l-16 2 -26 14 16 -2z"/>
<path class="j" d="M5089 697l-16 1 -26 14 16 0z"/>
<path class="ob" d="M5105 699l-16 -2 -26 15 16 2z"/>
<path class="oc" d="M5137 710l-16 -7 -16 -4 -26 15 16 4 16 7z"/>
<path class="ob" d="M5153 719l-16 -9 -26 15 16 9z"/>
<path class="j" d="M5169 731l-16 -12 -26 15 16 11z"/>
<path class="dc" d="M5185 744l-16 -13 -26 14 16 12z"/>
<path class="pb" d="M5201 759l-16 -15 -26 13 16 15z"/>
<path class="tc" d="M5217 776l-16 -17 -26 13 16 15z"/>
<path class="zb" d="M5233 793l-16 -17 -26 11 16 16z"/>
<path class="g" d="M5249 811l-16 -18 -26 10 16 17z"/>
<path class="sb" d="M5265 828l-16 -17 -26 9 16 17z"/>
<path class="rb" d="M5281 846l-16 -18 -26 9 16 17z"/>
<path class="cb" d="M5297 863l-16 -17 -26 8 16 16z"/>
<path class="d" d="M5313 879l-16 -16 -26 7 16 16z"/>
<path class="db" d="M5329 894l-16 -15 -26 7 16 14z"/>
<path class="c" d="M5361 921l-16 -13 -16 -14 -26 6 16 14 16 13z"/>
<path class="b" d="M5425 966l-16 -9 -16 -11 -16 -12 -16 -13 -26 6 16 12 16 12 16 11 16 9z"/>
<path class="a" d="M5473 988l-16 -6 -16 -8 -16 -8 -26 5 16 8 16 8 16 6z"/>
<path class="a" d="M4807 764l-16 -2 -16 -3 -16 -4 -16 -4 -27 5 16 4 16 4 16 4 16 2z"/>
<path class="b" d="M4855 763l-16 2 -16 0 -16 -1 -27 6 16 2 16 0 16 -2z"/>
<path class="c" d="M4887 759l-16 3 -16 1 -27 7 16 -1 16 -2z"/>
<path class="db" d="M4903 755l-16 4 -27 8 16 -3z"/>
<path class="d" d="M4919 751l-16 4 -27 9 16 -4z"/>
<path class="cb" d="M4935 746l-16 5 -27 9 16 -5z"/>
<path class="e" d="M4951 740l-16 6 -27 9 16 -5z"/>
<path class="bb" d="M4967 734l-16 6 -27 10 16 -5z"/>
<path class="eb" d="M4983 728l-16 6 -27 11 16 -6z"/>
<path class="tb" d="M4999 722l-16 6 -27 11 16 -5z"/>
<path class="h" d="M5015 717l-16 5 -27 12 16 -4z"/>
<path class="gb" d="M5031 714l-16 3 -27 13 16 -3z"/>
<path class="pb" d="M5047 712l-16 2 -27 13 16 -1z"/>
<path class="hb" d="M5063 712l-16 0 -27 14 16 0z"/>
<path class="jc" d="M5079 714l-16 -2 -27 14 16 2z"/>
<path class="zc" d="M5111 725l-16 -7 -16 -4 -27 14 16 4 16 7z"/>
<path class="jc" d="M5127 734l-16 -9 -27 14 16 9z"/>
<path class="hb" d="M5143 745l-16 -11 -27 14 16 10z"/>
<path class="pb" d="M5159 757l-16 -12 -27 13 16 12z"/>
<path class="gb" d="M5175 772l-16 -15 -27 13 16 14z"/>
<path class="h" d="M5191 787l-16 -15 -27 12 16 14z"/>
<path class="fb" d="M5207 803l-16 -16 -27 11 16 16z"/>
<path class="eb" d="M5223 820l-16 -17 -27 11 16 16z"/>
<path class="bc" d="M5239 837l-16 -17 -27 10 16 16z"/>
<path class="e" d="M5255 854l-16 -17 -27 9 16 16z"/>
<path class="cb" d="M5271 870l-16 -16 -27 8 16 15z"/>
<path class="d" d="M5287 886l-16 -16 -27 7 16 15z"/>
<path class="db" d="M5303 900l-16 -14 -27 6 16 14z"/>
<path class="c" d="M5335 927l-16 -13 -16 -14 -27 6 16 14 16 12z"/>
<path class="b" d="M5399 971l-16 -9 -16 -11 -16 -12 -16 -12 -27 5 16 12 16 12 16 11 16 9z"/>
<path class="a" d="M5447 993l-16 -6 -16 -8 -16 -8 -27 5 16 8 16 8 16 6z"/>
<path class="a" d="M4780 770l-16 -2 -16 -4 -16 -4 -16 -4 -26 5 16 5 16 4 16 3 16 3z"/>
<path class="b" d="M4844 769l-16 1 -16 2 -16 0 -16 -2 -26 6 16 2 16 0 16 -1 16 -1z"/>
<path class="c" d="M4876 764l-16 3 -16 2 -26 7 16 -2 16 -2z"/>
<path class="db" d="M4892 760l-16 4 -26 8 16 -3z"/>
<path class="d" d="M4908 755l-16 5 -26 9 16 -4z"/>
<path class="cb" d="M4924 750l-16 5 -26 10 16 -5z"/>
<path class="rb" d="M4940 745l-16 5 -26 10 16 -5z"/>
<path class="ad" d="M4956 739l-16 6 -26 10 16 -5z"/>
<path class="qb" d="M4972 734l-16 5 -26 11 16 -4z"/>
<path class="fb" d="M4988 730l-16 4 -26 12 16 -4z"/>
<path class="h" d="M5004 727l-16 3 -26 12 16 -2z"/>
<path class="gb" d="M5020 726l-16 1 -26 13 16 -1z"/>
<path class="i" d="M5036 726l-16 0 -26 13 16 0z"/>
<path class="cd" d="M5052 728l-16 -2 -26 13 16 3z"/>
<path class="kc" d="M5100 748l-16 -9 -16 -7 -16 -4 -26 14 16 4 16 7 16 8z"/>
<path class="i" d="M5116 758l-16 -10 -26 13 16 10z"/>
<path class="gb" d="M5132 770l-16 -12 -26 13 16 12z"/>
<path class="ub" d="M5148 784l-16 -14 -26 13 16 12z"/>
<path class="sc" d="M5164 798l-16 -14 -26 11 16 14z"/>
<path class="tb" d="M5180 814l-16 -16 -26 11 16 15z"/>
<path class="sb" d="M5196 830l-16 -16 -26 10 16 15z"/>
<path class="bb" d="M5212 846l-16 -16 -26 9 16 15z"/>
<path class="e" d="M5228 862l-16 -16 -26 8 16 16z"/>
<path class="cb" d="M5244 877l-16 -15 -26 8 16 14z"/>
<path class="d" d="M5260 892l-16 -15 -26 7 16 15z"/>
<path class="db" d="M5276 906l-16 -14 -26 7 16 14z"/>
<path class="c" d="M5308 932l-16 -12 -16 -14 -26 7 16 12 16 13z"/>
<path class="b" d="M5372 976l-16 -9 -16 -11 -16 -12 -16 -12 -26 6 16 12 16 11 16 11 16 9z"/>
<path class="a" d="M5436 1005l-16 -7 -16 -6 -16 -8 -16 -8 -26 5 16 8 16 8 16 7 16 6z"/>
<path class="a" d="M4754 776l-16 -3 -16 -3 -16 -4 -26 5 16 5 16 3 16 3z"/>
<path class="b" d="M4818 776l-16 1 -16 1 -16 0 -16 -2 -26 6 16 2 16 1 16 -1 16 -1z"/>
<path class="c" d="M4850 772l-16 2 -16 2 -26 7 16 -1 16 -2z"/>
<path class="db" d="M4866 769l-16 3 -26 8 16 -3z"/>
<path class="d" d="M4882 765l-16 4 -26 8 16 -3z"/>
<path class="cb" d="M4898 760l-16 5 -26 9 16 -4z"/>
<path class="e" d="M4914 755l-16 5 -26 10 16 -5z"/>
<path class="bb" d="M4930 750l-16 5 -26 10 16 -4z"/>
<path class="rc" d="M4946 746l-16 4 -26 11 16 -4z"/>
<path class="tb" d="M4962 742l-16 4 -26 11 16 -3z"/>
<path class="sc" d="M4978 740l-16 2 -26 12 16 -2z"/>
<path class="h" d="M4994 739l-16 1 -26 12 16 0z"/>
<path class="tc" d="M5010 739l-16 0 -26 13 16 0z"/>
<path class="gb" d="M5026 742l-16 -3 -26 13 16 3z"/>
<path class="cc" d="M5058 753l-16 -7 -16 -4 -26 13 16 5 16 6z"/>
<path class="gb" d="M5074 761l-16 -8 -26 13 16 8z"/>
<path class="tc" d="M5090 771l-16 -10 -26 13 16 10z"/>
<path class="ub" d="M5106 783l-16 -12 -26 13 16 11z"/>
<path class="zb" d="M5122 795l-16 -12 -26 12 16 12z"/>
<path class="tb" d="M5138 809l-16 -14 -26 12 16 13z"/>
<path class="eb" d="M5154 824l-16 -15 -26 11 16 14z"/>
<path class="ad" d="M5170 839l-16 -15 -26 10 16 14z"/>
<path class="rb" d="M5186 854l-16 -15 -26 9 16 15z"/>
<path class="cb" d="M5218 884l-16 -14 -16 -16 -26 9 16 15 16 14z"/>
<path class="d" d="M5234 899l-16 -15 -26 8 16 14z"/>
<path class="db" d="M5250 913l-16 -14 -26 7 16 13z"/>
<path class="c" d="M5282 938l-16 -13 -16 -12 -26 6 16 12 16 12z"/>
<path class="b" d="M5346 981l-16 -9 -16 -11 -16 -11 -16 -12 -26 5 16 12 16 11 16 11 16 9z"/>
<path class="a" d="M5410 1010l-16 -6 -16 -7 -16 -8 -16 -8 -26 5 16 8 16 8 16 7 16 6z"/>
<path class="a" d="M4744 784l-16 -2 -16 -3 -16 -3 -16 -5 -27 6 16 4 16 4 16 3 16 2z"/>
<path class="b" d="M4792 783l-16 1 -16 1 -16 -1 -27 6 16 1 16 0 16 -1z"/>
<path class="c" d="M4824 780l-16 2 -16 1 -27 7 16 -1 16 -1z"/>
<path class="db" d="M4840 777l-16 3 -27 8 16 -3z"/>
<path class="d" d="M4872 770l-16 4 -16 3 -27 8 16 -3 16 -3z"/>
<path class="cb" d="M4888 765l-16 5 -27 9 16 -4z"/>
<path class="rb" d="M4904 761l-16 4 -27 10 16 -3z"/>
<path class="ad" d="M4920 757l-16 4 -27 11 16 -4z"/>
<path class="eb" d="M4936 754l-16 3 -27 11 16 -2z"/>
<path class="tb" d="M4952 752l-16 2 -27 12 16 -2z"/>
<path class="sc" d="M4968 752l-16 0 -27 12 16 0z"/>
<path class="h" d="M4984 752l-16 0 -27 12 16 1z"/>
<path class="ub" d="M5048 774l-16 -8 -16 -6 -16 -5 -16 -3 -27 13 16 3 16 4 16 7 16 7z"/>
<path class="h" d="M5064 784l-16 -10 -27 12 16 10z"/>
<path class="zb" d="M5080 795l-16 -11 -27 12 16 10z"/>
<path class="fb" d="M5096 807l-16 -12 -27 11 16 12z"/>
<path class="g" d="M5112 820l-16 -13 -27 11 16 13z"/>
<path class="sb" d="M5128 834l-16 -14 -27 11 16 13z"/>
<path class="bb" d="M5144 848l-16 -14 -27 10 16 14z"/>
<path class="e" d="M5160 863l-16 -15 -27 10 16 13z"/>
<path class="cb" d="M5176 878l-16 -15 -27 8 16 14z"/>
<path class="d" d="M5192 892l-16 -14 -27 7 16 14z"/>
<path class="db" d="M5224 919l-16 -13 -16 -14 -27 7 16 13 16 13z"/>
<path class="c" d="M5256 943l-16 -12 -16 -12 -27 6 16 12 16 12z"/>
<path class="b" d="M5320 986l-16 -9 -16 -11 -16 -11 -16 -12 -27 6 16 11 16 12 16 10 16 9z"/>
<path class="a" d="M5384 1015l-16 -6 -16 -7 -16 -8 -16 -8 -27 5 16 8 16 8 16 7 16 6z"/>
<path class="a" d="M4717 790l-16 -2 -16 -3 -16 -4 -16 -4 -26 5 16 5 16 3 16 4 16 2z"/>
<path class="b" d="M4765 790l-16 1 -16 0 -16 -1 -26 6 16 2 16 0 16 -1z"/>
<path class="c" d="M4813 785l-16 3 -16 1 -16 1 -26 7 16 -1 16 -1 16 -2z"/>
<path class="db" d="M4829 782l-16 3 -26 8 16 -2z"/>
<path class="d" d="M4845 779l-16 3 -26 9 16 -3z"/>
<path class="cb" d="M4861 775l-16 4 -26 9 16 -3z"/>
<path class="e" d="M4877 772l-16 3 -26 10 16 -3z"/>
<path class="bb" d="M4893 768l-16 4 -26 10 16 -3z"/>
<path class="sb" d="M4909 766l-16 2 -26 11 16 -2z"/>
<path class="eb" d="M4925 764l-16 2 -26 11 16 -1z"/>
<path class="tb" d="M4941 764l-16 0 -26 12 16 0z"/>
<path class="fb" d="M4957 765l-16 -1 -26 12 16 1z"/>
<path class="zb" d="M5021 786l-16 -7 -16 -7 -16 -4 -16 -3 -26 12 16 3 16 5 16 6 16 8z"/>
<path class="fb" d="M5037 796l-16 -10 -26 13 16 9z"/>
<path class="wc" d="M5053 806l-16 -10 -26 12 16 10z"/>
<path class="g" d="M5069 818l-16 -12 -26 12 16 11z"/>
<path class="eb" d="M5085 831l-16 -13 -26 11 16 12z"/>
<path class="ad" d="M5101 844l-16 -13 -26 10 16 13z"/>
<path class="rb" d="M5117 858l-16 -14 -26 10 16 13z"/>
<path class="e" d="M5133 871l-16 -13 -26 9 16 13z"/>
<path class="cb" d="M5149 885l-16 -14 -26 9 16 13z"/>
<path class="d" d="M5165 899l-16 -14 -26 8 16 13z"/>
<path class="db" d="M5181 912l-16 -13 -26 7 16 13z"/>
<path class="ac" d="M5197 925l-16 -13 -26 7 16 12z"/>
<path class="c" d="M5229 949l-16 -12 -16 -12 -26 6 16 12 16 11z"/>
<path class="b" d="M5293 991l-16 -9 -16 -10 -16 -12 -16 -11 -26 5 16 12 16 11 16 10 16 9z"/>
<path class="a" d="M5357 1020l-16 -6 -16 -7 -16 -8 -16 -8 -26 5 16 8 16 8 16 7 16 6z"/>
<path class="a" d="M4691 796l-16 -2 -16 -4 -16 -3 -16 -5 -27 6 16 4 16 4 16 4 16 2z"/>
<path class="b" d="M4755 796l-16 1 -16 1 -16 0 -16 -2 -27 6 16 2 16 1 16 -1 16 0z"/>
<path class="c" d="M4787 793l-16 2 -16 1 -27 8 16 -1 16 -2z"/>
<path class="db" d="M4803 791l-16 2 -27 8 16 -2z"/>
<path class="d" d="M4819 788l-16 3 -27 8 16 -2z"/>
<path class="cb" d="M4851 782l-16 3 -16 3 -27 9 16 -3 16 -2z"/>
<path class="rb" d="M4867 779l-16 3 -27 10 16 -2z"/>
<path class="bb" d="M4883 777l-16 2 -27 11 16 -2z"/>
<path class="sb" d="M4899 776l-16 1 -27 11 16 -1z"/>
<path class="eb" d="M4915 776l-16 0 -27 11 16 0z"/>
<path class="tb" d="M4931 777l-16 -1 -27 11 16 2z"/>
<path class="wc" d="M4947 780l-16 -3 -27 12 16 3z"/>
<path class="fb" d="M4979 791l-16 -6 -16 -5 -27 12 16 5 16 6z"/>
<path class="wc" d="M4995 799l-16 -8 -27 12 16 7z"/>
<path class="tb" d="M5011 808l-16 -9 -27 11 16 9z"/>
<path class="g" d="M5027 818l-16 -10 -27 11 16 10z"/>
<path class="eb" d="M5043 829l-16 -11 -27 11 16 10z"/>
<path class="ad" d="M5059 841l-16 -12 -27 10 16 12z"/>
<path class="bb" d="M5075 854l-16 -13 -27 10 16 12z"/>
<path class="e" d="M5091 867l-16 -13 -27 9 16 12z"/>
<path class="cb" d="M5123 893l-16 -13 -16 -13 -27 8 16 13 16 13z"/>
<path class="d" d="M5139 906l-16 -13 -27 8 16 13z"/>
<path class="db" d="M5155 919l-16 -13 -27 8 16 12z"/>
<path class="c" d="M5203 954l-16 -11 -16 -12 -16 -12 -27 7 16 12 16 11 16 11z"/>
<path class="b" d="M5267 996l-16 -9 -16 -10 -16 -11 -16 -12 -27 6 16 12 16 10 16 10 16 9z"/>
<path class="a" d="M5331 1025l-16 -6 -16 -7 -16 -8 -16 -8 -27 5 16 8 16 8 16 7 16 6z"/>
<path class="a" d="M4664 802l-16 -2 -16 -4 -16 -4 -16 -4 -26 5 16 5 16 4 16 3 16 3z"/>
<path class="b" d="M4728 804l-16 0 -16 1 -16 -1 -16 -2 -26 6 16 2 16 1 16 0 16 0z"/>
<path class="c" d="M4760 801l-16 2 -16 1 -26 7 16 -1 16 -1z"/>
<path class="db" d="M4792 797l-16 2 -16 2 -26 8 16 -1 16 -2z"/>
<path class="d" d="M4808 794l-16 3 -26 9 16 -3z"/>
<path class="cb" d="M4824 792l-16 2 -26 9 16 -2z"/>
<path class="e" d="M4840 790l-16 2 -26 9 16 -1z"/>
<path class="rb" d="M4856 788l-16 2 -26 10 16 -2z"/>
<path class="bc" d="M4872 787l-16 1 -26 10 16 0z"/>
<path class="sb" d="M4888 787l-16 0 -26 11 16 0z"/>
<path class="eb" d="M4904 789l-16 -2 -26 11 16 2z"/>
<path class="qb" d="M4920 792l-16 -3 -26 11 16 4z"/>
<path class="g" d="M4968 810l-16 -7 -16 -6 -16 -5 -26 12 16 4 16 6 16 8z"/>
<path class="eb" d="M5000 829l-16 -10 -16 -9 -26 12 16 8 16 9z"/>
<path class="sb" d="M5016 839l-16 -10 -26 10 16 11z"/>
<path class="bb" d="M5032 851l-16 -12 -26 11 16 11z"/>
<path class="rb" d="M5048 863l-16 -12 -26 10 16 11z"/>
<path class="e" d="M5064 875l-16 -12 -26 9 16 12z"/>
<path class="cb" d="M5080 888l-16 -13 -26 9 16 12z"/>
<path class="d" d="M5112 914l-16 -13 -16 -13 -26 8 16 13 16 12z"/>
<path class="db" d="M5128 926l-16 -12 -26 7 16 12z"/>
<path class="c" d="M5176 960l-16 -11 -16 -11 -16 -12 -26 7 16 11 16 11 16 11z"/>
<path class="b" d="M5240 1001l-16 -9 -16 -10 -16 -10 -16 -12 -26 6 16 11 16 11 16 9 16 9z"/>
<path class="a" d="M5304 1030l-16 -6 -16 -7 -16 -8 -16 -8 -26 5 16 8 16 8 16 7 16 7z"/>
<path class="a" d="M4638 808l-16 -3 -16 -3 -16 -4 -27 5 16 4 16 4 16 3z"/>
<path class="b" d="M4702 811l-16 0 -16 0 -16 -1 -16 -2 -27 6 16 3 16 1 16 0 16 0z"/>
<path class="c" d="M4750 808l-16 1 -16 1 -16 1 -27 7 16 -1 16 0 16 -1z"/>
<path class="db" d="M4766 806l-16 2 -27 8 16 -2z"/>
<path class="d" d="M4782 803l-16 3 -27 8 16 -2z"/>
<path class="cb" d="M4814 800l-16 1 -16 2 -27 9 16 -1 16 -2z"/>
<path class="e" d="M4830 798l-16 2 -27 9 16 0z"/>
<path class="bb" d="M4846 798l-16 0 -27 11 16 -1z"/>
<path class="bc" d="M4862 798l-16 0 -27 10 16 1z"/>
<path class="sb" d="M4878 800l-16 -2 -27 11 16 2z"/>
<path class="rc" d="M4894 804l-16 -4 -27 11 16 4z"/>
<path class="eb" d="M4942 822l-16 -8 -16 -6 -16 -4 -27 11 16 4 16 7 16 7z"/>
<path class="sb" d="M4958 830l-16 -8 -27 11 16 8z"/>
<path class="ad" d="M4974 839l-16 -9 -27 11 16 9z"/>
<path class="bb" d="M4990 850l-16 -11 -27 11 16 10z"/>
<path class="rb" d="M5006 861l-16 -11 -27 10 16 10z"/>
<path class="e" d="M5022 872l-16 -11 -27 9 16 11z"/>
<path class="cb" d="M5054 896l-16 -12 -16 -12 -27 9 16 12 16 12z"/>
<path class="d" d="M5070 909l-16 -13 -27 9 16 11z"/>
<path class="db" d="M5102 933l-16 -12 -16 -12 -27 7 16 12 16 11z"/>
<path class="c" d="M5150 966l-16 -11 -16 -11 -16 -11 -27 6 16 12 16 10 16 11z"/>
<path class="b" d="M5214 1006l-16 -9 -16 -9 -16 -11 -16 -11 -27 6 16 11 16 10 16 10 16 8z"/>
<path class="a" d="M5278 1036l-16 -7 -16 -7 -16 -8 -16 -8 -27 5 16 8 16 8 16 7 16 7z"/>
<path class="a" d="M4627 817l-16 -3 -16 -3 -16 -4 -16 -4 -26 5 16 5 16 4 16 3 16 3z"/>
<path class="b" d="M4691 817l-16 1 -16 0 -16 0 -16 -1 -26 6 16 1 16 1 16 0 16 -1z"/>
<path class="c" d="M4723 816l-16 1 -16 0 -26 7 16 0 16 -1z"/>
<path class="db" d="M4755 812l-16 2 -16 2 -26 7 16 -1 16 -1z"/>
<path class="d" d="M4771 811l-16 1 -26 9 16 -1z"/>
<path class="cb" d="M4787 809l-16 2 -26 9 16 -1z"/>
<path class="e" d="M4803 809l-16 0 -26 10 16 -1z"/>
<path class="rb" d="M4819 808l-16 1 -26 9 16 1z"/>
<path class="bb" d="M4851 811l-16 -2 -16 -1 -26 11 16 1 16 2z"/>
<path class="ad" d="M4915 833l-16 -7 -16 -7 -16 -4 -16 -4 -26 11 16 3 16 5 16 6 16 7z"/>
<path class="bc" d="M4931 841l-16 -8 -26 10 16 8z"/>
<path class="bb" d="M4947 850l-16 -9 -26 10 16 9z"/>
<path class="rb" d="M4963 860l-16 -10 -26 10 16 10z"/>
<path class="e" d="M4979 870l-16 -10 -26 10 16 10z"/>
<path class="cb" d="M5011 893l-16 -12 -16 -11 -26 10 16 10 16 11z"/>
<path class="d" d="M5043 916l-16 -11 -16 -12 -26 8 16 12 16 11z"/>
<path class="db" d="M5059 928l-16 -12 -26 8 16 11z"/>
<path class="ac" d="M5075 939l-16 -11 -26 7 16 11z"/>
<path class="c" d="M5107 961l-16 -10 -16 -12 -26 7 16 11 16 11z"/>
<path class="b" d="M5187 1011l-16 -8 -16 -10 -16 -10 -16 -11 -16 -11 -26 7 16 10 16 11 16 10 16 9 16 9z"/>
<path class="a" d="M5267 1047l-16 -6 -16 -7 -16 -7 -16 -8 -16 -8 -26 6 16 8 16 7 16 7 16 7 16 6z"/>
<path class="a" d="M4601 823l-16 -3 -16 -3 -16 -4 -16 -5 -27 6 16 4 16 4 16 4 16 3z"/>
<path class="b" d="M4665 824l-16 1 -16 0 -16 -1 -16 -1 -27 6 16 2 16 1 16 0 16 -1z"/>
<path class="c" d="M4697 823l-16 1 -16 0 -27 7 16 1 16 -1z"/>
<path class="ac" d="M4713 822l-16 1 -27 8 16 -1z"/>
<path class="db" d="M4729 821l-16 1 -27 8 16 0z"/>
<path class="d" d="M4761 819l-16 1 -16 1 -27 9 16 -1 16 -1z"/>
<path class="cb" d="M4777 818l-16 1 -27 9 16 0z"/>
<path class="e" d="M4793 819l-16 -1 -27 10 16 1z"/>
<path class="rb" d="M4825 822l-16 -2 -16 -1 -27 10 16 1 16 2z"/>
<path class="bb" d="M4905 851l-16 -8 -16 -7 -16 -6 -16 -5 -16 -3 -27 10 16 4 16 5 16 6 16 7 16 7z"/>
<path class="rb" d="M4921 860l-16 -9 -27 10 16 9z"/>
<path class="e" d="M4953 880l-16 -10 -16 -10 -27 10 16 9 16 10z"/>
<path class="cb" d="M4985 901l-16 -11 -16 -10 -27 9 16 10 16 11z"/>
<path class="d" d="M5017 924l-16 -11 -16 -12 -27 9 16 11 16 10z"/>
<path class="db" d="M5033 935l-16 -11 -27 7 16 11z"/>
<path class="c" d="M5081 968l-16 -11 -16 -11 -16 -11 -27 7 16 11 16 10 16 11z"/>
<path class="b" d="M5161 1017l-16 -9 -16 -9 -16 -10 -16 -11 -16 -10 -27 6 16 10 16 10 16 10 16 9 16 9z"/>
<path class="a" d="M5241 1052l-16 -6 -16 -7 -16 -7 -16 -7 -16 -8 -27 5 16 8 16 7 16 7 16 7 16 6z"/>
<path class="a" d="M4574 829l-16 -3 -16 -4 -16 -4 -16 -4 -26 5 16 5 16 4 16 4 16 3z"/>
<path class="b" d="M4638 831l-16 1 -16 0 -16 -1 -16 -2 -26 6 16 2 16 1 16 1 16 -1z"/>
<path class="c" d="M4686 830l-16 1 -16 1 -16 -1 -26 7 16 1 16 0 16 -1z"/>
<path class="db" d="M4718 829l-16 1 -16 0 -26 8 16 0 16 -1z"/>
<path class="d" d="M4734 828l-16 1 -26 8 16 0z"/>
<path class="cb" d="M4766 829l-16 -1 -16 0 -26 9 16 0 16 1z"/>
<path class="e" d="M4798 832l-16 -2 -16 -1 -26 9 16 2 16 2z"/>
<path class="rb" d="M4878 861l-16 -7 -16 -7 -16 -6 -16 -5 -16 -4 -26 10 16 4 16 5 16 6 16 7 16 7z"/>
<path class="e" d="M4910 879l-16 -9 -16 -9 -26 10 16 9 16 8z"/>
<path class="cb" d="M4942 899l-16 -10 -16 -10 -26 9 16 10 16 10z"/>
<path class="d" d="M4974 921l-16 -11 -16 -11 -26 9 16 10 16 10z"/>
<path class="db" d="M5006 942l-16 -11 -16 -10 -26 7 16 11 16 10z"/>
<path class="c" d="M5054 974l-16 -11 -16 -10 -16 -11 -26 7 16 11 16 10 16 10z"/>
<path class="b" d="M5134 1022l-16 -9 -16 -9 -16 -10 -16 -10 -16 -10 -26 6 16 10 16 10 16 10 16 9 16 8z"/>
<path class="a" d="M5214 1057l-16 -6 -16 -7 -16 -7 -16 -7 -16 -8 -26 5 16 8 16 7 16 7 16 7 16 6z"/>
<path class="a" d="M4548 835l-16 -3 -16 -4 -16 -4 -16 -5 -27 6 16 4 16 4 16 4 16 3z"/>
<path class="b" d="M4628 839l-16 -1 -16 1 -16 -1 -16 -1 -16 -2 -27 5 16 3 16 2 16 1 16 0 16 0z"/>
<path class="c" d="M4660 838l-16 1 -16 0 -27 7 16 0 16 0z"/>
<path class="ac" d="M4676 838l-16 0 -27 8 16 0z"/>
<path class="db" d="M4692 837l-16 1 -27 8 16 0z"/>
<path class="d" d="M4724 837l-16 0 -16 0 -27 9 16 0 16 0z"/>
<path class="cb" d="M4756 840l-16 -2 -16 -1 -27 9 16 2 16 1z"/>
<path class="e" d="M4852 871l-16 -7 -16 -7 -16 -6 -16 -5 -16 -4 -16 -2 -27 9 16 3 16 4 16 5 16 6 16 7 16 7z"/>
<path class="cb" d="M4900 898l-16 -10 -16 -8 -16 -9 -27 10 16 8 16 9 16 9z"/>
<path class="d" d="M4932 918l-16 -10 -16 -10 -27 9 16 9 16 10z"/>
<path class="db" d="M4964 939l-16 -11 -16 -10 -27 8 16 10 16 10z"/>
<path class="ac" d="M4980 949l-16 -10 -27 7 16 10z"/>
<path class="c" d="M5028 980l-16 -10 -16 -10 -16 -11 -27 7 16 10 16 10 16 10z"/>
<path class="b" d="M5108 1027l-16 -8 -16 -9 -16 -10 -16 -10 -16 -10 -27 6 16 10 16 10 16 9 16 9 16 9z"/>
<path class="a" d="M5188 1062l-16 -6 -16 -7 -16 -7 -16 -7 -16 -8 -27 6 16 7 16 8 16 7 16 6 16 7z"/>
<path class="a" d="M4537 843l-16 -3 -16 -3 -16 -4 -16 -4 -26 6 16 4 16 4 16 3 16 3z"/>
<path class="b" d="M4601 846l-16 0 -16 0 -16 -1 -16 -2 -26 6 16 2 16 1 16 1 16 0z"/>
<path class="c" d="M4649 846l-16 0 -16 0 -16 0 -26 7 16 0 16 1 16 0z"/>
<path class="db" d="M4681 846l-16 0 -16 0 -26 8 16 0 16 1z"/>
<path class="d" d="M4713 848l-16 -2 -16 0 -26 9 16 0 16 2z"/>
<path class="cb" d="M4857 898l-16 -9 -16 -8 -16 -7 -16 -7 -16 -6 -16 -5 -16 -4 -16 -3 -16 -1 -26 9 16 2 16 3 16 4 16 5 16 6 16 6 16 7 16 8 16 9z"/>
<path class="d" d="M4905 926l-16 -10 -16 -9 -16 -9 -26 9 16 8 16 10 16 9z"/>
<path class="db" d="M4937 946l-16 -10 -16 -10 -26 8 16 10 16 10z"/>
<path class="c" d="M5001 986l-16 -10 -16 -10 -16 -10 -16 -10 -26 8 16 9 16 10 16 10 16 9z"/>
<path class="b" d="M5081 1033l-16 -9 -16 -9 -16 -9 -16 -10 -16 -10 -26 6 16 10 16 10 16 9 16 9 16 8z"/>
<path class="a" d="M5161 1068l-16 -7 -16 -6 -16 -7 -16 -8 -16 -7 -26 5 16 8 16 7 16 7 16 6 16 7z"/>
<path class="a" d="M4511 849l-16 -3 -16 -3 -16 -4 -16 -4 -26 5 16 5 16 4 16 3 16 3z"/>
<path class="b" d="M4575 853l-16 0 -16 -1 -16 -1 -16 -2 -26 6 16 2 16 2 16 1 16 0z"/>
<path class="c" d="M4623 854l-16 0 -16 -1 -16 0 -26 7 16 1 16 0 16 1z"/>
<path class="db" d="M4655 855l-16 -1 -16 0 -26 8 16 0 16 1z"/>
<path class="d" d="M4703 859l-16 -2 -16 -2 -16 0 -26 8 16 1 16 2 16 2z"/>
<path class="cb" d="M4815 898l-16 -8 -16 -7 -16 -6 -16 -6 -16 -5 -16 -4 -16 -3 -26 9 16 3 16 4 16 5 16 6 16 6 16 7 16 8z"/>
<path class="d" d="M4863 925l-16 -10 -16 -8 -16 -9 -26 9 16 8 16 9 16 9z"/>
<path class="db" d="M4895 944l-16 -10 -16 -9 -26 8 16 9 16 9z"/>
<path class="ac" d="M4911 954l-16 -10 -26 7 16 10z"/>
<path class="c" d="M4959 983l-16 -10 -16 -10 -16 -9 -26 7 16 9 16 10 16 9z"/>
<path class="b" d="M5055 1038l-16 -8 -16 -9 -16 -9 -16 -10 -16 -10 -16 -9 -26 6 16 9 16 10 16 10 16 9 16 8 16 8z"/>
<path class="a" d="M5135 1073l-16 -7 -16 -6 -16 -7 -16 -7 -16 -8 -26 5 16 8 16 7 16 7 16 7 16 6z"/>
<path class="a" d="M4485 855l-16 -3 -16 -3 -16 -4 -16 -5 -27 6 16 4 16 4 16 4 16 3z"/>
<path class="b" d="M4565 861l-16 -1 -16 0 -16 -1 -16 -2 -16 -2 -27 6 16 3 16 2 16 1 16 0 16 1z"/>
<path class="c" d="M4613 862l-16 0 -16 -1 -16 0 -27 7 16 1 16 0 16 1z"/>
<path class="db" d="M4645 864l-16 -1 -16 -1 -27 8 16 1 16 2z"/>
<path class="d" d="M4709 875l-16 -4 -16 -3 -16 -2 -16 -2 -27 9 16 1 16 3 16 3 16 4z"/>
<path class="cb" d="M4757 892l-16 -6 -16 -6 -16 -5 -27 9 16 5 16 6 16 6z"/>
<path class="d" d="M4821 924l-16 -9 -16 -8 -16 -8 -16 -7 -27 9 16 7 16 8 16 8 16 8z"/>
<path class="db" d="M4869 951l-16 -9 -16 -9 -16 -9 -27 8 16 9 16 9 16 9z"/>
<path class="c" d="M4933 989l-16 -9 -16 -10 -16 -9 -16 -10 -27 8 16 9 16 9 16 9 16 10z"/>
<path class="b" d="M5029 1043l-16 -8 -16 -8 -16 -9 -16 -10 -16 -10 -16 -9 -27 7 16 9 16 10 16 9 16 8 16 9 16 8z"/>
<path class="a" d="M5109 1078l-16 -6 -16 -7 -16 -7 -16 -7 -16 -8 -27 6 16 7 16 7 16 7 16 7 16 6z"/>
<path class="a" d="M4474 864l-16 -3 -16 -3 -16 -4 -16 -4 -16 -4 -26 5 16 5 16 4 16 4 16 3 16 3z"/>
<path class="b" d="M4538 868l-16 -1 -16 0 -16 -1 -16 -2 -26 6 16 2 16 1 16 1 16 1z"/>
<path class="c" d="M4586 870l-16 -1 -16 0 -16 -1 -26 7 16 1 16 1 16 1z"/>
<path class="ac" d="M4602 871l-16 -1 -26 8 16 1z"/>
<path class="db" d="M4634 874l-16 -1 -16 -2 -26 8 16 2 16 2z"/>
<path class="d" d="M4778 924l-16 -8 -16 -8 -16 -7 -16 -6 -16 -6 -16 -5 -16 -4 -16 -3 -16 -3 -26 9 16 3 16 3 16 4 16 5 16 6 16 6 16 7 16 7 16 8z"/>
<path class="db" d="M4826 950l-16 -9 -16 -9 -16 -8 -26 8 16 8 16 9 16 8z"/>
<path class="c" d="M4906 996l-16 -10 -16 -9 -16 -9 -16 -9 -16 -9 -26 7 16 9 16 9 16 9 16 9 16 9z"/>
<path class="b" d="M5002 1049l-16 -8 -16 -9 -16 -8 -16 -9 -16 -10 -16 -9 -26 6 16 9 16 10 16 9 16 8 16 8 16 8z"/>
<path class="a" d="M5082 1083l-16 -6 -16 -7 -16 -7 -16 -7 -16 -7 -26 5 16 8 16 7 16 6 16 7 16 6z"/>
<path class="a" d="M4448 870l-16 -3 -16 -3 -16 -4 -16 -4 -16 -5 -27 5 16 5 16 4 16 4 16 4 16 3z"/>
<path class="b" d="M4528 876l-16 -1 -16 -1 -16 -1 -16 -1 -16 -2 -27 6 16 2 16 2 16 1 16 1 16 1z"/>
<path class="c" d="M4576 879l-16 -1 -16 -1 -16 -1 -27 7 16 1 16 2 16 1z"/>
<path class="db" d="M4624 886l-16 -3 -16 -2 -16 -2 -27 8 16 2 16 2 16 3z"/>
<path class="d" d="M4736 924l-16 -7 -16 -7 -16 -6 -16 -6 -16 -5 -16 -4 -16 -3 -27 8 16 4 16 4 16 5 16 6 16 6 16 7 16 7z"/>
<path class="db" d="M4784 949l-16 -9 -16 -8 -16 -8 -27 9 16 7 16 8 16 8z"/>
<path class="ac" d="M4800 957l-16 -8 -27 7 16 9z"/>
<path class="c" d="M4864 993l-16 -9 -16 -9 -16 -9 -16 -9 -27 8 16 8 16 9 16 9 16 9z"/>
<path class="b" d="M4976 1054l-16 -8 -16 -8 -16 -8 -16 -9 -16 -10 -16 -9 -16 -9 -27 7 16 8 16 10 16 9 16 9 16 8 16 8 16 8z"/>
<path class="a" d="M5056 1088l-16 -6 -16 -7 -16 -6 -16 -7 -16 -8 -27 6 16 7 16 7 16 7 16 6 16 7z"/>
<path class="a" d="M4421 876l-16 -3 -16 -4 -16 -4 -16 -4 -26 5 16 5 16 4 16 4 16 3z"/>
<path class="b" d="M4501 883l-16 -1 -16 -1 -16 -1 -16 -2 -16 -2 -26 6 16 3 16 2 16 1 16 1 16 1z"/>
<path class="c" d="M4565 889l-16 -2 -16 -1 -16 -2 -16 -1 -26 7 16 2 16 1 16 2 16 2z"/>
<path class="db" d="M4629 902l-16 -4 -16 -4 -16 -3 -16 -2 -26 8 16 2 16 3 16 4 16 4z"/>
<path class="d" d="M4661 913l-16 -6 -16 -5 -26 8 16 5 16 6z"/>
<path class="db" d="M4757 956l-16 -8 -16 -8 -16 -7 -16 -7 -16 -7 -16 -6 -26 8 16 6 16 7 16 7 16 7 16 8 16 8z"/>
<path class="c" d="M4837 1000l-16 -9 -16 -9 -16 -9 -16 -8 -16 -9 -26 8 16 8 16 9 16 8 16 9 16 8z"/>
<path class="b" d="M4933 1052l-16 -8 -16 -8 -16 -9 -16 -9 -16 -10 -16 -8 -26 6 16 9 16 9 16 9 16 8 16 9 16 7z"/>
<path class="a" d="M5029 1094l-16 -7 -16 -6 -16 -7 -16 -7 -16 -7 -16 -8 -26 5 16 8 16 7 16 7 16 7 16 6 16 7z"/>
<path class="a" d="M4395 882l-16 -3 -16 -4 -16 -4 -16 -5 -27 6 16 4 16 5 16 3 16 4z"/>
<path class="b" d="M4475 890l-16 -1 -16 -1 -16 -1 -16 -2 -16 -3 -27 6 16 3 16 2 16 2 16 1 16 1z"/>
<path class="c" d="M4555 899l-16 -2 -16 -2 -16 -2 -16 -1 -16 -2 -27 7 16 2 16 2 16 1 16 3 16 2z"/>
<path class="db" d="M4699 948l-16 -7 -16 -7 -16 -7 -16 -6 -16 -6 -16 -5 -16 -4 -16 -4 -16 -3 -27 8 16 3 16 4 16 5 16 5 16 5 16 7 16 6 16 7 16 7z"/>
<path class="ac" d="M4715 956l-16 -8 -27 8 16 8z"/>
<path class="c" d="M4795 998l-16 -9 -16 -8 -16 -9 -16 -8 -16 -8 -27 8 16 8 16 8 16 8 16 8 16 8z"/>
<path class="b" d="M4907 1057l-16 -7 -16 -9 -16 -8 -16 -9 -16 -9 -16 -9 -16 -8 -27 6 16 9 16 9 16 8 16 9 16 8 16 8 16 8z"/>
<path class="a" d="M5003 1099l-16 -7 -16 -6 -16 -7 -16 -7 -16 -7 -16 -8 -27 6 16 7 16 8 16 7 16 6 16 7 16 6z"/>
<path class="a" d="M4384 891l-16 -3 -16 -4 -16 -3 -16 -5 -16 -4 -26 5 16 5 16 4 16 4 16 4 16 3z"/>
<path class="b" d="M4464 899l-16 -2 -16 -1 -16 -1 -16 -2 -16 -2 -26 6 16 2 16 2 16 2 16 1 16 2z"/>
<path class="c" d="M4544 910l-16 -3 -16 -2 -16 -3 -16 -1 -16 -2 -26 7 16 2 16 2 16 2 16 3 16 3z"/>
<path class="db" d="M4656 949l-16 -7 -16 -6 -16 -7 -16 -5 -16 -5 -16 -5 -16 -4 -26 8 16 4 16 5 16 5 16 6 16 6 16 6 16 7z"/>
<path class="ac" d="M4672 956l-16 -7 -26 8 16 7z"/>
<path class="c" d="M4768 1004l-16 -8 -16 -8 -16 -8 -16 -8 -16 -8 -16 -8 -26 8 16 7 16 8 16 8 16 8 16 8 16 8z"/>
<path class="b" d="M4880 1063l-16 -8 -16 -8 -16 -8 -16 -9 -16 -8 -16 -9 -16 -9 -26 7 16 8 16 9 16 9 16 8 16 8 16 8 16 8z"/>
<path class="a" d="M4976 1104l-16 -6 -16 -7 -16 -6 -16 -7 -16 -8 -16 -7 -26 6 16 7 16 7 16 7 16 6 16 7 16 6z"/>
<path class="a" d="M4358 897l-16 -3 -16 -4 -16 -4 -16 -4 -16 -5 -27 6 16 4 16 5 16 4 16 3 16 4z"/>
<path class="b" d="M4438 906l-16 -2 -16 -1 -16 -2 -16 -2 -16 -2 -27 6 16 3 16 2 16 2 16 1 16 2z"/>
<path class="c" d="M4534 922l-16 -4 -16 -3 -16 -3 -16 -2 -16 -2 -16 -2 -27 7 16 2 16 2 16 3 16 3 16 3 16 4z"/>
<path class="ac" d="M4550 927l-16 -5 -27 8 16 5z"/>
<path class="db" d="M4582 938l-16 -6 -16 -5 -27 8 16 5 16 6z"/>
<path class="ac" d="M4598 944l-16 -6 -27 8 16 6z"/>
<path class="c" d="M4726 1003l-16 -8 -16 -8 -16 -8 -16 -8 -16 -7 -16 -7 -16 -7 -16 -6 -27 8 16 6 16 7 16 7 16 7 16 7 16 8 16 8 16 8z"/>
<path class="b" d="M4854 1069l-16 -8 -16 -8 -16 -8 -16 -8 -16 -9 -16 -9 -16 -8 -16 -8 -27 7 16 8 16 8 16 9 16 8 16 8 16 8 16 8 16 7z"/>
<path class="a" d="M4950 1109l-16 -6 -16 -7 -16 -6 -16 -7 -16 -7 -16 -7 -27 5 16 7 16 7 16 7 16 7 16 6 16 6z"/>
<path class="a" d="M4331 903l-16 -4 -16 -3 -16 -4 -16 -5 -26 6 16 4 16 4 16 4 16 4z"/>
<path class="b" d="M4427 915l-16 -2 -16 -2 -16 -1 -16 -2 -16 -2 -16 -3 -26 6 16 3 16 2 16 3 16 1 16 2 16 2z"/>
<path class="c" d="M4699 1010l-16 -8 -16 -8 -16 -8 -16 -7 -16 -7 -16 -7 -16 -7 -16 -6 -16 -6 -16 -6 -16 -5 -16 -5 -16 -4 -16 -3 -16 -3 -16 -3 -16 -2 -26 7 16 2 16 3 16 3 16 4 16 4 16 4 16 6 16 5 16 6 16 7 16 6 16 7 16 7 16 8 16 7 16 8 16 7z"/>
<path class="b" d="M4827 1074l-16 -7 -16 -8 -16 -8 -16 -8 -16 -8 -16 -9 -16 -8 -16 -8 -26 6 16 8 16 9 16 8 16 8 16 8 16 8 16 7 16 8z"/>
<path class="a" d="M4923 1114l-16 -6 -16 -6 -16 -7 -16 -7 -16 -7 -16 -7 -26 6 16 7 16 7 16 7 16 6 16 6 16 7z"/>
<path class="a" d="M4321 912l-16 -3 -16 -4 -16 -4 -16 -4 -16 -4 -27 5 16 5 16 4 16 4 16 4 16 3z"/>
<path class="b" d="M4417 924l-16 -2 -16 -2 -16 -2 -16 -1 -16 -3 -16 -2 -27 6 16 3 16 2 16 2 16 2 16 2 16 3z"/>
<path class="c" d="M4657 1009l-16 -8 -16 -7 -16 -8 -16 -7 -16 -7 -16 -6 -16 -7 -16 -6 -16 -5 -16 -6 -16 -4 -16 -4 -16 -4 -16 -3 -16 -3 -27 8 16 2 16 4 16 3 16 4 16 5 16 5 16 6 16 6 16 6 16 7 16 7 16 6 16 8 16 7 16 7z"/>
<path class="b" d="M4801 1080l-16 -8 -16 -7 -16 -8 -16 -8 -16 -8 -16 -8 -16 -9 -16 -8 -16 -7 -27 6 16 8 16 8 16 8 16 8 16 8 16 8 16 8 16 7 16 7z"/>
<path class="a" d="M4897 1120l-16 -7 -16 -6 -16 -6 -16 -7 -16 -7 -16 -7 -27 5 16 7 16 7 16 7 16 6 16 7 16 6z"/>
<path class="a" d="M4294 918l-16 -3 -16 -4 -16 -4 -16 -4 -16 -5 -26 6 16 4 16 5 16 4 16 3 16 4z"/>
<path class="b" d="M4390 932l-16 -3 -16 -2 -16 -2 -16 -2 -16 -2 -16 -3 -26 6 16 3 16 3 16 2 16 2 16 2 16 2z"/>
<path class="c" d="M4614 1008l-16 -7 -16 -8 -16 -6 -16 -7 -16 -7 -16 -6 -16 -6 -16 -6 -16 -5 -16 -5 -16 -4 -16 -3 -16 -4 -16 -2 -26 6 16 4 16 3 16 4 16 4 16 5 16 5 16 6 16 5 16 7 16 6 16 7 16 7 16 7 16 7z"/>
<path class="b" d="M4758 1078l-16 -7 -16 -8 -16 -8 -16 -8 -16 -8 -16 -8 -16 -8 -16 -8 -16 -7 -26 7 16 7 16 8 16 8 16 8 16 8 16 7 16 8 16 8 16 7z"/>
<path class="a" d="M4870 1125l-16 -6 -16 -7 -16 -6 -16 -7 -16 -7 -16 -7 -16 -7 -26 6 16 7 16 7 16 7 16 6 16 7 16 6 16 6z"/>
<path class="a" d="M4268 924l-16 -4 -16 -3 -16 -4 -16 -5 -16 -4 -26 5 16 5 16 4 16 4 16 4 16 4z"/>
<path class="b" d="M4380 942l-16 -4 -16 -2 -16 -2 -16 -2 -16 -2 -16 -3 -16 -3 -26 6 16 3 16 3 16 3 16 2 16 2 16 3 16 3z"/>
<path class="c" d="M4572 1008l-16 -7 -16 -7 -16 -7 -16 -6 -16 -7 -16 -5 -16 -6 -16 -5 -16 -5 -16 -4 -16 -4 -16 -3 -26 7 16 3 16 4 16 4 16 5 16 5 16 6 16 6 16 6 16 6 16 7 16 7 16 7z"/>
<path class="b" d="M4732 1084l-16 -7 -16 -8 -16 -8 -16 -7 -16 -8 -16 -8 -16 -8 -16 -8 -16 -7 -16 -7 -26 7 16 7 16 7 16 8 16 8 16 7 16 8 16 8 16 7 16 7 16 8z"/>
<path class="a" d="M4844 1130l-16 -6 -16 -6 -16 -7 -16 -6 -16 -7 -16 -7 -16 -7 -26 6 16 7 16 6 16 7 16 7 16 6 16 6 16 6z"/>
<path class="a" d="M4258 933l-16 -3 -16 -4 -16 -4 -16 -4 -16 -4 -27 5 16 5 16 4 16 4 16 4 16 3z"/>
<path class="b" d="M4370 952l-16 -3 -16 -3 -16 -3 -16 -2 -16 -2 -16 -3 -16 -3 -27 6 16 3 16 3 16 3 16 2 16 3 16 3 16 3z"/>
<path class="c" d="M4530 1008l-16 -7 -16 -7 -16 -6 -16 -6 -16 -6 -16 -6 -16 -5 -16 -5 -16 -4 -16 -4 -27 7 16 4 16 4 16 5 16 5 16 6 16 6 16 6 16 6 16 7 16 7z"/>
<path class="b" d="M4706 1090l-16 -8 -16 -7 -16 -7 -16 -8 -16 -8 -16 -7 -16 -8 -16 -8 -16 -7 -16 -7 -16 -7 -27 7 16 6 16 8 16 7 16 8 16 7 16 8 16 7 16 8 16 7 16 7 16 7z"/>
<path class="a" d="M4818 1135l-16 -6 -16 -6 -16 -6 -16 -7 -16 -7 -16 -6 -16 -7 -27 5 16 7 16 7 16 7 16 6 16 6 16 7 16 6z"/>
<path class="a" d="M4231 939l-16 -3 -16 -4 -16 -4 -16 -4 -16 -5 -26 6 16 4 16 5 16 4 16 4 16 3z"/>
<path class="b" d="M4359 963l-16 -4 -16 -3 -16 -3 -16 -3 -16 -2 -16 -3 -16 -3 -16 -3 -26 6 16 3 16 3 16 3 16 3 16 3 16 3 16 3 16 4z"/>
<path class="c" d="M4487 1008l-16 -7 -16 -6 -16 -6 -16 -6 -16 -6 -16 -5 -16 -5 -16 -4 -26 7 16 4 16 5 16 6 16 5 16 6 16 6 16 6 16 7z"/>
<path class="b" d="M4663 1088l-16 -7 -16 -7 -16 -8 -16 -7 -16 -8 -16 -7 -16 -8 -16 -7 -16 -8 -16 -6 -16 -7 -26 7 16 6 16 7 16 8 16 7 16 7 16 8 16 7 16 7 16 8 16 7 16 7z"/>
<path class="a" d="M4791 1141l-16 -6 -16 -7 -16 -6 -16 -6 -16 -7 -16 -7 -16 -7 -16 -7 -26 6 16 7 16 7 16 6 16 7 16 6 16 7 16 6 16 6z"/>
<path class="a" d="M4205 945l-16 -3 -16 -4 -16 -4 -16 -5 -16 -4 -27 5 16 5 16 4 16 4 16 4 16 4z"/>
<path class="b" d="M4365 979l-16 -5 -16 -4 -16 -4 -16 -3 -16 -3 -16 -3 -16 -3 -16 -3 -16 -3 -16 -3 -27 6 16 4 16 3 16 3 16 3 16 3 16 3 16 3 16 4 16 4 16 5z"/>
<path class="c" d="M4413 996l-16 -6 -16 -5 -16 -6 -27 7 16 6 16 5 16 6z"/>
<path class="b" d="M4637 1094l-16 -7 -16 -7 -16 -8 -16 -7 -16 -7 -16 -8 -16 -7 -16 -7 -16 -8 -16 -7 -16 -6 -16 -7 -16 -6 -16 -6 -27 7 16 6 16 6 16 7 16 7 16 7 16 7 16 7 16 7 16 7 16 7 16 8 16 7 16 7 16 7z"/>
<path class="a" d="M4765 1146l-16 -6 -16 -6 -16 -7 -16 -6 -16 -7 -16 -6 -16 -7 -16 -7 -27 6 16 7 16 6 16 7 16 6 16 7 16 6 16 6 16 6z"/>
<path class="a" d="M4194 955l-16 -4 -16 -4 -16 -4 -16 -4 -16 -4 -16 -5 -26 5 16 5 16 5 16 4 16 4 16 4 16 4z"/>
<path class="b" d="M4610 1100l-16 -7 -16 -7 -16 -7 -16 -8 -16 -7 -16 -7 -16 -7 -16 -7 -16 -7 -16 -7 -16 -7 -16 -7 -16 -6 -16 -6 -16 -6 -16 -5 -16 -6 -16 -5 -16 -4 -16 -4 -16 -3 -16 -3 -16 -3 -16 -3 -16 -3 -16 -3 -26 6 16 3 16 3 16 3 16 4 16 3 16 3 16 4 16 5 16 4 16 6 16 5 16 6 16 6 16 7 16 6 16 7 16 7 16 6 16 7 16 7 16 8 16 7 16 7 16 7 16 7 16 6z"/>
<path class="a" d="M4722 1145l-16 -6 -16 -6 -16 -7 -16 -6 -16 -7 -16 -6 -16 -7 -26 5 16 7 16 7 16 6 16 7 16 6 16 6 16 7z"/>
<path class="a" d="M4168 961l-16 -4 -16 -4 -16 -4 -16 -4 -16 -5 -27 6 16 4 16 5 16 4 16 4 16 4z"/>
<path class="b" d="M4568 1099l-16 -7 -16 -7 -16 -7 -16 -7 -16 -8 -16 -7 -16 -7 -16 -6 -16 -7 -16 -7 -16 -6 -16 -7 -16 -6 -16 -6 -16 -5 -16 -6 -16 -4 -16 -5 -16 -4 -16 -3 -16 -3 -16 -4 -16 -3 -16 -3 -16 -3 -27 6 16 3 16 4 16 3 16 3 16 4 16 4 16 3 16 5 16 5 16 5 16 6 16 5 16 6 16 7 16 6 16 7 16 6 16 7 16 7 16 7 16 7 16 7 16 7 16 7 16 6z"/>
<path class="a" d="M4696 1151l-16 -7 -16 -6 -16 -6 -16 -7 -16 -6 -16 -7 -16 -7 -16 -6 -27 5 16 7 16 7 16 6 16 7 16 6 16 7 16 6 16 6z"/>
<path class="a" d="M4141 967l-16 -4 -16 -4 -16 -4 -16 -5 -16 -4 -26 5 16 5 16 4 16 5 16 4 16 4z"/>
<path class="b" d="M4541 1104l-16 -6 -16 -7 -16 -7 -16 -7 -16 -7 -16 -7 -16 -7 -16 -7 -16 -6 -16 -7 -16 -6 -16 -7 -16 -6 -16 -5 -16 -6 -16 -5 -16 -5 -16 -5 -16 -3 -16 -4 -16 -4 -16 -3 -16 -3 -16 -4 -16 -3 -26 6 16 3 16 4 16 3 16 4 16 4 16 3 16 4 16 5 16 5 16 5 16 6 16 5 16 6 16 7 16 6 16 6 16 7 16 7 16 6 16 7 16 7 16 7 16 7 16 6 16 7z"/>
<path class="a" d="M4669 1156l-16 -6 -16 -6 -16 -7 -16 -6 -16 -7 -16 -6 -16 -7 -16 -7 -26 6 16 7 16 6 16 7 16 6 16 7 16 6 16 6 16 6z"/>
<path class="a" d="M4131 976l-16 -3 -16 -4 -16 -4 -16 -5 -16 -4 -16 -5 -27 5 16 5 16 5 16 4 16 4 16 4 16 4z"/>
<path class="b" d="M4499 1103l-16 -6 -16 -7 -16 -7 -16 -7 -16 -7 -16 -6 -16 -7 -16 -7 -16 -6 -16 -6 -16 -7 -16 -6 -16 -5 -16 -6 -16 -5 -16 -5 -16 -5 -16 -4 -16 -3 -16 -4 -16 -4 -16 -3 -16 -4 -27 6 16 4 16 4 16 3 16 4 16 4 16 4 16 5 16 5 16 5 16 6 16 5 16 6 16 7 16 6 16 6 16 7 16 6 16 7 16 7 16 6 16 7 16 7 16 6z"/>
<path class="a" d="M4643 1161l-16 -6 -16 -6 -16 -6 -16 -7 -16 -6 -16 -7 -16 -6 -16 -7 -16 -7 -27 6 16 7 16 7 16 6 16 6 16 7 16 6 16 6 16 6 16 6z"/>
<path class="a" d="M4104 982l-16 -4 -16 -4 -16 -4 -16 -4 -16 -5 -16 -5 -26 6 16 5 16 4 16 5 16 4 16 4 16 4z"/>
<path class="b" d="M4472 1109l-16 -6 -16 -7 -16 -7 -16 -6 -16 -7 -16 -7 -16 -6 -16 -7 -16 -6 -16 -6 -16 -7 -16 -6 -16 -5 -16 -6 -16 -5 -16 -5 -16 -5 -16 -4 -16 -4 -16 -4 -16 -3 -16 -4 -16 -4 -26 6 16 4 16 4 16 4 16 4 16 4 16 4 16 5 16 5 16 5 16 6 16 5 16 6 16 6 16 6 16 7 16 6 16 7 16 6 16 7 16 6 16 7 16 7 16 6z"/>
<path class="a" d="M4616 1166l-16 -6 -16 -6 -16 -6 -16 -6 -16 -7 -16 -6 -16 -6 -16 -7 -16 -7 -26 6 16 7 16 6 16 7 16 6 16 6 16 6 16 7 16 6 16 6z"/>
<path class="a" d="M4094 992l-16 -4 -16 -4 -16 -4 -16 -4 -16 -5 -16 -4 -27 5 16 5 16 4 16 5 16 4 16 4 16 4z"/>
<path class="b" d="M4430 1109l-16 -7 -16 -7 -16 -6 -16 -7 -16 -6 -16 -7 -16 -6 -16 -7 -16 -6 -16 -6 -16 -6 -16 -5 -16 -6 -16 -5 -16 -5 -16 -5 -16 -4 -16 -4 -16 -4 -16 -4 -16 -4 -27 6 16 4 16 4 16 4 16 4 16 5 16 4 16 5 16 6 16 5 16 6 16 6 16 6 16 6 16 6 16 7 16 6 16 6 16 7 16 6 16 7 16 6z"/>
<path class="a" d="M4590 1172l-16 -6 -16 -6 -16 -7 -16 -6 -16 -6 -16 -6 -16 -7 -16 -6 -16 -7 -16 -6 -27 5 16 7 16 6 16 7 16 6 16 6 16 7 16 6 16 6 16 6 16 6z"/>
<path class="a" d="M4067 998l-16 -4 -16 -4 -16 -4 -16 -5 -16 -4 -16 -5 -26 6 16 4 16 5 16 4 16 5 16 4 16 4z"/>
<path class="b" d="M4387 1108l-16 -7 -16 -6 -16 -7 -16 -6 -16 -6 -16 -7 -16 -6 -16 -6 -16 -6 -16 -6 -16 -6 -16 -5 -16 -6 -16 -5 -16 -4 -16 -5 -16 -4 -16 -4 -16 -4 -16 -4 -26 6 16 4 16 4 16 4 16 5 16 4 16 5 16 5 16 5 16 6 16 6 16 6 16 5 16 7 16 6 16 6 16 6 16 7 16 6 16 6 16 7z"/>
<path class="a" d="M4547 1171l-16 -6 -16 -6 -16 -6 -16 -7 -16 -6 -16 -6 -16 -7 -16 -6 -16 -7 -16 -6 -26 6 16 6 16 7 16 6 16 6 16 7 16 6 16 6 16 6 16 6 16 6z"/>
<path class="a" d="M4057 1008l-16 -4 -16 -4 -16 -4 -16 -5 -16 -4 -16 -5 -16 -4 -27 5 16 5 16 5 16 4 16 5 16 4 16 4 16 4z"/>
<path class="b" d="M4361 1114l-16 -7 -16 -6 -16 -6 -16 -7 -16 -6 -16 -6 -16 -6 -16 -7 -16 -5 -16 -6 -16 -6 -16 -6 -16 -5 -16 -5 -16 -5 -16 -4 -16 -5 -16 -4 -16 -4 -27 6 16 4 16 5 16 4 16 5 16 4 16 6 16 5 16 5 16 6 16 6 16 6 16 6 16 6 16 6 16 6 16 7 16 6 16 6 16 7z"/>
<path class="a" d="M4521 1176l-16 -6 -16 -6 -16 -6 -16 -6 -16 -6 -16 -7 -16 -6 -16 -6 -16 -7 -16 -6 -27 6 16 6 16 6 16 7 16 6 16 6 16 6 16 7 16 6 16 6 16 6z"/>
<path class="a" d="M4030 1014l-16 -4 -16 -4 -16 -4 -16 -5 -16 -4 -16 -5 -26 5 16 5 16 5 16 4 16 5 16 4 16 4z"/>
<path class="b" d="M4318 1113l-16 -6 -16 -6 -16 -7 -16 -6 -16 -6 -16 -6 -16 -6 -16 -6 -16 -6 -16 -6 -16 -5 -16 -5 -16 -6 -16 -4 -16 -5 -16 -4 -16 -5 -16 -4 -26 6 16 5 16 4 16 4 16 5 16 5 16 5 16 5 16 6 16 6 16 5 16 6 16 6 16 6 16 6 16 7 16 6 16 6 16 6z"/>
<path class="a" d="M4494 1182l-16 -6 -16 -6 -16 -6 -16 -7 -16 -6 -16 -6 -16 -6 -16 -7 -16 -6 -16 -6 -16 -7 -26 6 16 7 16 6 16 6 16 6 16 7 16 6 16 6 16 6 16 6 16 6 16 6z"/>
</g>
<path d="M367.1 91.3V17.8" stroke="#9a9a9a" stroke-width="1" fill="none"/>
<path d="M367.1 91.3h-3" stroke="#9a9a9a" stroke-width="1" fill="none"/>
<path d="M367.1 66.8h-3" stroke="#9a9a9a" stroke-width="1" fill="none"/>
<path d="M367.1 42.3h-3" stroke="#9a9a9a" stroke-width="1" fill="none"/>
<path d="M367.1 17.8h-3" stroke="#9a9a9a" stroke-width="1" fill="none"/>
<g transform="translate(319.35,19.44) scale(0.95,1)"><text font-size="16.5" font-weight="bold" fill="#111" stroke="#111">B</text></g>
<g transform="translate(325.70,79.80) rotate(-90) translate(-2.11,3.39) scale(1.2189999999999999,1)"><text font-size="10.5" font-weight="bold" fill="#1a1a1a" stroke="#1a1a1a">t</text></g>
<g transform="translate(330.10,72.20) rotate(-90) translate(-4.51,2.50) scale(1.007,1)"><text font-size="7" font-weight="bold" fill="#1a1a1a" stroke="#1a1a1a">int</text></g>
<g transform="translate(326.60,46.82) rotate(-90) translate(-17.44,2.70) scale(1.2189999999999999,1)"><text font-size="10.5" font-weight="bold" fill="#1a1a1a" stroke="#1a1a1a">(MPa)</text></g>
<g transform="translate(397.40,131.70) rotate(19) translate(-58.49,2.99) scale(1.07,1)"><text font-size="11.6" font-weight="bold" fill="#1a1a1a" stroke="#1a1a1a">Ply Angle (Degrees)</text></g>
<g transform="translate(555.80,137.70) rotate(-10) translate(-4.36,4.55) scale(0.95,1)"><text font-size="13.2" font-weight="bold" fill="#1a1a1a" stroke="#1a1a1a">E</text></g>
<g transform="translate(566.30,140.90) rotate(-10) translate(-5.25,2.97) scale(1.12,1)"><text font-size="8.6" font-weight="bold" fill="#1a1a1a" stroke="#1a1a1a">11</text><path d="M0.23 -1.38H1.88V1.2H0.23ZM3.31 -1.38H4.86V1.2H3.31Z" fill="#fff"/><path d="M5.01 -1.38H6.67V1.2H5.01ZM8.10 -1.38H9.64V1.2H8.10Z" fill="#fff"/></g>
<g transform="translate(344.69,20.16) scale(1.02,1)"><text font-size="11.5" fill="#2e2e2e" stroke="#2e2e2e">1.5</text><path d="M0.53 -1.36H2.75V1.2H0.53ZM4.05 -1.36H6.18V1.2H4.05Z" fill="#fff"/></g>
<g transform="translate(355.32,43.82) scale(1.02,1)"><text font-size="11.5" fill="#2e2e2e" stroke="#2e2e2e">1</text><path d="M0.53 -1.36H2.75V1.2H0.53ZM4.05 -1.36H6.18V1.2H4.05Z" fill="#fff"/></g>
<g transform="translate(345.95,69.17) scale(1.02,1)"><text font-size="11.5" fill="#2e2e2e" stroke="#2e2e2e">0.5</text></g>
<g transform="translate(357.32,91.92) scale(1.02,1)"><text font-size="11.5" fill="#2e2e2e" stroke="#2e2e2e">0</text></g>
<g transform="translate(348.03,101.72) scale(1.02,1)"><text font-size="11.5" fill="#2e2e2e" stroke="#2e2e2e">90</text></g>
<g transform="translate(379.85,113.42) scale(1.02,1)"><text font-size="11.5" fill="#2e2e2e" stroke="#2e2e2e">60</text></g>
<g transform="translate(414.86,123.92) scale(1.02,1)"><text font-size="11.5" fill="#2e2e2e" stroke="#2e2e2e">30</text></g>
<g transform="translate(451.27,135.27) scale(1.02,1)"><text font-size="11.5" fill="#2e2e2e" stroke="#2e2e2e">0</text></g>
<g transform="translate(466.77,135.02) scale(1.02,1)"><text font-size="11.5" fill="#2e2e2e" stroke="#2e2e2e">0</text></g>
<g transform="translate(499.79,130.57) scale(1.02,1)"><text font-size="11.5" fill="#2e2e2e" stroke="#2e2e2e">0.025</text></g>
<g transform="translate(532.79,123.02) scale(1.02,1)"><text font-size="11.5" fill="#2e2e2e" stroke="#2e2e2e">0.05</text></g>
<g transform="translate(562.69,117.32) scale(1.02,1)"><text font-size="11.5" fill="#2e2e2e" stroke="#2e2e2e">0.075</text></g>
<g transform="translate(594.63,109.77) scale(1.02,1)"><text font-size="11.5" fill="#2e2e2e" stroke="#2e2e2e">0.1</text><path d="M10.12 -1.36H12.35V1.2H10.12ZM13.64 -1.36H15.77V1.2H13.64Z" fill="#fff"/></g>
<path fill="#333096" d="M148.0 302.1 L275.0 277.0 L179.0 243.8 L52.0 268.9 Z"/>
<g transform="scale(.1)" stroke-width="6">
<path class="a" d="M1918 2470l-16 -1 -16 -3 -16 -4 -16 -4 -26 5 16 5 16 4 16 3 16 1z"/>
<path class="b" d="M1950 2468l-16 2 -16 0 -26 6 16 1 16 -2z"/>
<path class="c" d="M1982 2454l-16 9 -16 5 -26 7 16 -4 16 -8z"/>
<path class="d" d="M1998 2441l-16 13 -26 9 16 -11z"/>
<path class="e" d="M2014 2423l-16 18 -26 11 16 -16z"/>
<path class="eb" d="M2030 2400l-16 23 -26 13 16 -21z"/>
<path class="cc" d="M2046 2372l-16 28 -26 15 16 -26z"/>
<path class="k" d="M2062 2337l-16 35 -26 17 16 -32z"/>
<path class="kb" d="M2078 2297l-16 40 -26 20 16 -36z"/>
<path class="t" d="M2094 2252l-16 45 -26 24 16 -41z"/>
<path class="vd" d="M2110 2204l-16 48 -26 28 16 -45z"/>
<path class="wd" d="M2126 2154l-16 50 -26 31 16 -46z"/>
<path class="xd" d="M2142 2104l-16 50 -26 35 16 -45z"/>
<path class="yd" d="M2158 2056l-16 48 -26 40 16 -44z"/>
<path class="zd" d="M2174 2014l-16 42 -26 44 16 -39z"/>
<path class="ae" d="M2190 1979l-16 35 -26 47 16 -31z"/>
<path class="be" d="M2206 1954l-16 25 -26 51 16 -23z"/>
<path class="ce" d="M2222 1940l-16 14 -26 53 16 -12z"/>
<path class="de" d="M2238 1939l-16 1 -26 55 16 -1z"/>
<path class="ee" d="M2254 1954l-16 -15 -26 55 16 14z"/>
<path class="fe" d="M2270 1987l-16 -33 -26 54 16 30z"/>
<path class="ge" d="M2286 2035l-16 -48 -26 51 16 43z"/>
<path class="he" d="M2302 2096l-16 -61 -26 46 16 55z"/>
<path class="ie" d="M2318 2165l-16 -69 -26 40 16 62z"/>
<path class="je" d="M2334 2237l-16 -72 -26 33 16 66z"/>
<path class="ke" d="M2350 2309l-16 -72 -26 27 16 66z"/>
<path class="le" d="M2366 2377l-16 -68 -26 21 16 63z"/>
<path class="td" d="M2382 2439l-16 -62 -26 16 16 58z"/>
<path class="ib" d="M2398 2493l-16 -54 -26 12 16 51z"/>
<path class="cc" d="M2414 2539l-16 -46 -26 9 16 44z"/>
<path class="eb" d="M2430 2577l-16 -38 -26 7 16 36z"/>
<path class="cb" d="M2446 2608l-16 -31 -26 5 16 30z"/>
<path class="db" d="M2462 2632l-16 -24 -26 4 16 23z"/>
<path class="c" d="M2478 2650l-16 -18 -26 3 16 19z"/>
<path class="b" d="M2510 2677l-16 -12 -16 -15 -26 4 16 15 16 12z"/>
<path class="a" d="M2558 2702l-16 -8 -16 -8 -16 -9 -26 4 16 10 16 8 16 7z"/>
<path class="a" d="M1892 2476l-16 -1 -16 -3 -16 -4 -16 -5 -27 6 16 4 16 4 16 3 16 3z"/>
<path class="b" d="M1940 2471l-16 4 -16 2 -16 -1 -27 7 16 0 16 -1 16 -4z"/>
<path class="c" d="M1956 2463l-16 8 -27 7 16 -6z"/>
<path class="db" d="M1972 2452l-16 11 -27 9 16 -10z"/>
<path class="cb" d="M1988 2436l-16 16 -27 10 16 -15z"/>
<path class="sb" d="M2004 2415l-16 21 -27 11 16 -18z"/>
<path class="h" d="M2020 2389l-16 26 -27 14 16 -24z"/>
<path class="ud" d="M2036 2357l-16 32 -27 16 16 -29z"/>
<path class="jb" d="M2052 2321l-16 36 -27 19 16 -33z"/>
<path class="lb" d="M2068 2280l-16 41 -27 22 16 -38z"/>
<path class="me" d="M2084 2235l-16 45 -27 25 16 -40z"/>
<path class="ne" d="M2100 2189l-16 46 -27 30 16 -42z"/>
<path class="oe" d="M2116 2144l-16 45 -27 34 16 -42z"/>
<path class="pe" d="M2132 2100l-16 44 -27 37 16 -40z"/>
<path class="qe" d="M2148 2061l-16 39 -27 41 16 -35z"/>
<path class="re" d="M2164 2030l-16 31 -27 45 16 -29z"/>
<path class="se" d="M2180 2007l-16 23 -27 47 16 -21z"/>
<path class="te" d="M2196 1995l-16 12 -27 49 16 -11z"/>
<path class="ue" d="M2212 1994l-16 1 -27 50 16 0z"/>
<path class="ge" d="M2228 2008l-16 -14 -27 51 16 13z"/>
<path class="ve" d="M2244 2038l-16 -30 -27 50 16 27z"/>
<path class="we" d="M2260 2081l-16 -43 -27 47 16 40z"/>
<path class="xe" d="M2276 2136l-16 -55 -27 44 16 49z"/>
<path class="ye" d="M2292 2198l-16 -62 -27 38 16 57z"/>
<path class="ze" d="M2308 2264l-16 -66 -27 33 16 60z"/>
<path class="af" d="M2324 2330l-16 -66 -27 27 16 60z"/>
<path class="ld" d="M2340 2393l-16 -63 -27 21 16 58z"/>
<path class="gc" d="M2356 2451l-16 -58 -27 16 16 54z"/>
<path class="pc" d="M2372 2502l-16 -51 -27 12 16 48z"/>
<path class="gb" d="M2388 2546l-16 -44 -27 9 16 41z"/>
<path class="rc" d="M2404 2582l-16 -36 -27 6 16 35z"/>
<path class="cb" d="M2420 2612l-16 -30 -27 5 16 29z"/>
<path class="db" d="M2436 2635l-16 -23 -27 4 16 23z"/>
<path class="c" d="M2452 2654l-16 -19 -27 4 16 19z"/>
<path class="b" d="M2484 2681l-16 -12 -16 -15 -27 4 16 15 16 12z"/>
<path class="a" d="M2532 2706l-16 -7 -16 -8 -16 -10 -27 4 16 10 16 9 16 7z"/>
<path class="a" d="M1865 2483l-16 -3 -16 -3 -16 -4 -26 6 16 4 16 3 16 3z"/>
<path class="b" d="M1913 2478l-16 4 -16 1 -16 0 -26 6 16 1 16 -1 16 -3z"/>
<path class="c" d="M1929 2472l-16 6 -26 8 16 -6z"/>
<path class="db" d="M1945 2462l-16 10 -26 8 16 -9z"/>
<path class="cb" d="M1961 2447l-16 15 -26 9 16 -12z"/>
<path class="bb" d="M1977 2429l-16 18 -26 12 16 -17z"/>
<path class="fb" d="M1993 2405l-16 24 -26 13 16 -22z"/>
<path class="hb" d="M2009 2376l-16 29 -26 15 16 -26z"/>
<path class="qd" d="M2025 2343l-16 33 -26 18 16 -30z"/>
<path class="w" d="M2041 2305l-16 38 -26 21 16 -34z"/>
<path class="bf" d="M2057 2265l-16 40 -26 25 16 -37z"/>
<path class="vd" d="M2073 2223l-16 42 -26 28 16 -39z"/>
<path class="cf" d="M2089 2181l-16 42 -26 31 16 -38z"/>
<path class="df" d="M2105 2141l-16 40 -26 35 16 -36z"/>
<path class="ef" d="M2121 2106l-16 35 -26 39 16 -33z"/>
<path class="qe" d="M2137 2077l-16 29 -26 41 16 -26z"/>
<path class="ff" d="M2153 2056l-16 21 -26 44 16 -19z"/>
<path class="gf" d="M2169 2045l-16 11 -26 46 16 -9z"/>
<path class="we" d="M2201 2058l-16 -13 -16 0 -26 48 16 0 16 12z"/>
<path class="hf" d="M2217 2085l-16 -27 -26 47 16 25z"/>
<path class="if" d="M2233 2125l-16 -40 -26 45 16 36z"/>
<path class="jf" d="M2249 2174l-16 -49 -26 41 16 44z"/>
<path class="xd" d="M2265 2231l-16 -57 -26 36 16 52z"/>
<path class="kf" d="M2281 2291l-16 -60 -26 31 16 54z"/>
<path class="lf" d="M2297 2351l-16 -60 -26 25 16 55z"/>
<path class="s" d="M2313 2409l-16 -58 -26 20 16 54z"/>
<path class="nb" d="M2329 2463l-16 -54 -26 16 16 50z"/>
<path class="ic" d="M2345 2511l-16 -48 -26 12 16 45z"/>
<path class="tc" d="M2361 2552l-16 -41 -26 9 16 39z"/>
<path class="sb" d="M2377 2587l-16 -35 -26 7 16 34z"/>
<path class="cb" d="M2393 2616l-16 -29 -26 6 16 28z"/>
<path class="db" d="M2409 2639l-16 -23 -26 5 16 23z"/>
<path class="c" d="M2425 2658l-16 -19 -26 5 16 18z"/>
<path class="b" d="M2473 2695l-16 -10 -16 -12 -16 -15 -26 4 16 15 16 13 16 10z"/>
<path class="a" d="M2521 2718l-16 -7 -16 -7 -16 -9 -26 5 16 9 16 7 16 7z"/>
<path class="a" d="M1839 2489l-16 -3 -16 -3 -16 -4 -27 5 16 4 16 4 16 2z"/>
<path class="b" d="M1887 2486l-16 3 -16 1 -16 -1 -27 5 16 2 16 0 16 -3z"/>
<path class="c" d="M1903 2480l-16 6 -27 7 16 -4z"/>
<path class="ac" d="M1919 2471l-16 9 -27 9 16 -8z"/>
<path class="d" d="M1935 2459l-16 12 -27 10 16 -12z"/>
<path class="rb" d="M1951 2442l-16 17 -27 10 16 -15z"/>
<path class="g" d="M1967 2420l-16 22 -27 12 16 -19z"/>
<path class="cc" d="M1983 2394l-16 26 -27 15 16 -24z"/>
<path class="ic" d="M1999 2364l-16 30 -27 17 16 -28z"/>
<path class="m" d="M2015 2330l-16 34 -27 19 16 -31z"/>
<path class="u" d="M2031 2293l-16 37 -27 22 16 -34z"/>
<path class="me" d="M2047 2254l-16 39 -27 25 16 -35z"/>
<path class="mf" d="M2063 2216l-16 38 -27 29 16 -35z"/>
<path class="nf" d="M2079 2180l-16 36 -27 32 16 -33z"/>
<path class="of" d="M2095 2147l-16 33 -27 35 16 -29z"/>
<path class="ef" d="M2111 2121l-16 26 -27 39 16 -24z"/>
<path class="yd" d="M2127 2102l-16 19 -27 41 16 -17z"/>
<path class="pf" d="M2143 2093l-16 9 -27 43 16 -8z"/>
<path class="if" d="M2159 2093l-16 0 -27 44 16 1z"/>
<path class="qf" d="M2175 2105l-16 -12 -27 45 16 11z"/>
<path class="rf" d="M2191 2130l-16 -25 -27 44 16 22z"/>
<path class="jf" d="M2207 2166l-16 -36 -27 41 16 33z"/>
<path class="sf" d="M2223 2210l-16 -44 -27 38 16 41z"/>
<path class="ze" d="M2239 2262l-16 -52 -27 35 16 46z"/>
<path class="tf" d="M2255 2316l-16 -54 -27 29 16 50z"/>
<path class="id" d="M2271 2371l-16 -55 -27 25 16 51z"/>
<path class="u" d="M2287 2425l-16 -54 -27 21 16 49z"/>
<path class="m" d="M2303 2475l-16 -50 -27 16 16 46z"/>
<path class="oc" d="M2319 2520l-16 -45 -27 12 16 43z"/>
<path class="ub" d="M2335 2559l-16 -39 -27 10 16 37z"/>
<path class="sb" d="M2351 2593l-16 -34 -27 8 16 32z"/>
<path class="cb" d="M2367 2621l-16 -28 -27 6 16 27z"/>
<path class="db" d="M2383 2644l-16 -23 -27 5 16 22z"/>
<path class="c" d="M2399 2662l-16 -18 -27 4 16 19z"/>
<path class="b" d="M2447 2700l-16 -10 -16 -13 -16 -15 -27 5 16 15 16 12 16 11z"/>
<path class="a" d="M2495 2723l-16 -7 -16 -7 -16 -9 -27 5 16 8 16 8 16 7z"/>
<path class="a" d="M1812 2494l-16 -2 -16 -4 -16 -4 -26 6 16 4 16 4 16 2z"/>
<path class="b" d="M1860 2493l-16 3 -16 0 -16 -2 -26 6 16 2 16 0 16 -1z"/>
<path class="c" d="M1892 2481l-16 8 -16 4 -26 8 16 -4 16 -7z"/>
<path class="d" d="M1908 2469l-16 12 -26 9 16 -10z"/>
<path class="e" d="M1924 2454l-16 15 -26 11 16 -14z"/>
<path class="sb" d="M1940 2435l-16 19 -26 12 16 -18z"/>
<path class="h" d="M1956 2411l-16 24 -26 13 16 -21z"/>
<path class="j" d="M1972 2383l-16 28 -26 16 16 -25z"/>
<path class="l" d="M1988 2352l-16 31 -26 19 16 -28z"/>
<path class="mb" d="M2004 2318l-16 34 -26 22 16 -31z"/>
<path class="bf" d="M2020 2283l-16 35 -26 25 16 -32z"/>
<path class="uf" d="M2036 2248l-16 35 -26 28 16 -32z"/>
<path class="tf" d="M2052 2215l-16 33 -26 31 16 -30z"/>
<path class="vf" d="M2068 2186l-16 29 -26 34 16 -27z"/>
<path class="of" d="M2084 2162l-16 24 -26 36 16 -22z"/>
<path class="pe" d="M2100 2145l-16 17 -26 38 16 -15z"/>
<path class="wf" d="M2116 2137l-16 8 -26 40 16 -7z"/>
<path class="jf" d="M2132 2138l-16 -1 -26 41 16 1z"/>
<path class="xf" d="M2148 2149l-16 -11 -26 41 16 11z"/>
<path class="wf" d="M2164 2171l-16 -22 -26 41 16 20z"/>
<path class="sf" d="M2180 2204l-16 -33 -26 39 16 30z"/>
<path class="yf" d="M2196 2245l-16 -41 -26 36 16 37z"/>
<path class="wd" d="M2212 2291l-16 -46 -26 32 16 42z"/>
<path class="zf" d="M2228 2341l-16 -50 -26 28 16 46z"/>
<path class="md" d="M2244 2392l-16 -51 -26 24 16 46z"/>
<path class="v" d="M2260 2441l-16 -49 -26 19 16 46z"/>
<path class="jb" d="M2276 2487l-16 -46 -26 16 16 43z"/>
<path class="j" d="M2292 2530l-16 -43 -26 13 16 39z"/>
<path class="h" d="M2308 2567l-16 -37 -26 9 16 36z"/>
<path class="ad" d="M2324 2599l-16 -32 -26 8 16 30z"/>
<path class="cb" d="M2340 2626l-16 -27 -26 6 16 26z"/>
<path class="db" d="M2356 2648l-16 -22 -26 5 16 22z"/>
<path class="c" d="M2372 2667l-16 -19 -26 5 16 18z"/>
<path class="b" d="M2420 2705l-16 -11 -16 -12 -16 -15 -26 4 16 15 16 13 16 10z"/>
<path class="a" d="M2468 2728l-16 -7 -16 -8 -16 -8 -26 4 16 9 16 8 16 7z"/>
<path class="a" d="M1802 2502l-16 -2 -16 -2 -16 -4 -16 -4 -27 5 16 4 16 4 16 3 16 2z"/>
<path class="b" d="M1850 2497l-16 4 -16 1 -16 0 -27 6 16 1 16 -1 16 -4z"/>
<path class="c" d="M1866 2490l-16 7 -27 7 16 -6z"/>
<path class="db" d="M1882 2480l-16 10 -27 8 16 -8z"/>
<path class="cb" d="M1898 2466l-16 14 -27 10 16 -13z"/>
<path class="bb" d="M1914 2448l-16 18 -27 11 16 -15z"/>
<path class="fb" d="M1930 2427l-16 21 -27 14 16 -20z"/>
<path class="kc" d="M1946 2402l-16 25 -27 15 16 -23z"/>
<path class="yc" d="M1962 2374l-16 28 -27 17 16 -25z"/>
<path class="hc" d="M1978 2343l-16 31 -27 20 16 -28z"/>
<path class="u" d="M1994 2311l-16 32 -27 23 16 -29z"/>
<path class="ag" d="M2010 2279l-16 32 -27 26 16 -29z"/>
<path class="bg" d="M2026 2249l-16 30 -27 29 16 -28z"/>
<path class="ke" d="M2042 2222l-16 27 -27 31 16 -24z"/>
<path class="vf" d="M2058 2200l-16 22 -27 34 16 -20z"/>
<path class="df" d="M2074 2185l-16 15 -27 36 16 -13z"/>
<path class="cg" d="M2090 2178l-16 7 -27 38 16 -7z"/>
<path class="dg" d="M2122 2190l-16 -11 -16 -1 -27 38 16 2 16 10z"/>
<path class="xd" d="M2138 2210l-16 -20 -27 38 16 19z"/>
<path class="eg" d="M2154 2240l-16 -30 -27 37 16 27z"/>
<path class="fg" d="M2170 2277l-16 -37 -27 34 16 34z"/>
<path class="gg" d="M2186 2319l-16 -42 -27 31 16 38z"/>
<path class="hg" d="M2202 2365l-16 -46 -27 27 16 42z"/>
<path class="s" d="M2218 2411l-16 -46 -27 23 16 42z"/>
<path class="mb" d="M2234 2457l-16 -46 -27 19 16 42z"/>
<path class="vb" d="M2250 2500l-16 -43 -27 15 16 40z"/>
<path class="jc" d="M2266 2539l-16 -39 -27 12 16 37z"/>
<path class="zb" d="M2282 2575l-16 -36 -27 10 16 34z"/>
<path class="ad" d="M2298 2605l-16 -30 -27 8 16 29z"/>
<path class="cb" d="M2314 2631l-16 -26 -27 7 16 25z"/>
<path class="db" d="M2330 2653l-16 -22 -27 6 16 21z"/>
<path class="c" d="M2346 2671l-16 -18 -27 5 16 18z"/>
<path class="b" d="M2394 2709l-16 -10 -16 -13 -16 -15 -27 5 16 15 16 12 16 11z"/>
<path class="a" d="M2442 2733l-16 -7 -16 -8 -16 -9 -27 5 16 9 16 8 16 7z"/>
<path class="a" d="M1775 2508l-16 -2 -16 -3 -16 -4 -16 -4 -26 5 16 5 16 4 16 3 16 2z"/>
<path class="b" d="M1823 2504l-16 4 -16 1 -16 -1 -26 6 16 1 16 0 16 -3z"/>
<path class="c" d="M1839 2498l-16 6 -26 8 16 -5z"/>
<path class="db" d="M1855 2490l-16 8 -26 9 16 -8z"/>
<path class="d" d="M1871 2477l-16 13 -26 9 16 -11z"/>
<path class="rb" d="M1887 2462l-16 15 -26 11 16 -14z"/>
<path class="g" d="M1903 2442l-16 20 -26 12 16 -17z"/>
<path class="gb" d="M1919 2419l-16 23 -26 15 16 -21z"/>
<path class="oc" d="M1935 2394l-16 25 -26 17 16 -23z"/>
<path class="mc" d="M1951 2366l-16 28 -26 19 16 -26z"/>
<path class="mb" d="M1967 2337l-16 29 -26 21 16 -26z"/>
<path class="t" d="M1983 2308l-16 29 -26 24 16 -27z"/>
<path class="ig" d="M1999 2280l-16 28 -26 26 16 -25z"/>
<path class="jg" d="M2015 2256l-16 24 -26 29 16 -22z"/>
<path class="ke" d="M2031 2236l-16 20 -26 31 16 -17z"/>
<path class="fg" d="M2047 2223l-16 13 -26 34 16 -12z"/>
<path class="oe" d="M2063 2216l-16 7 -26 35 16 -6z"/>
<path class="kg" d="M2095 2228l-16 -10 -16 -2 -26 36 16 2 16 10z"/>
<path class="lg" d="M2111 2247l-16 -19 -26 36 16 17z"/>
<path class="mg" d="M2127 2274l-16 -27 -26 34 16 25z"/>
<path class="ng" d="M2143 2308l-16 -34 -26 32 16 31z"/>
<path class="og" d="M2159 2346l-16 -38 -26 29 16 35z"/>
<path class="fd" d="M2175 2388l-16 -42 -26 26 16 38z"/>
<path class="u" d="M2191 2430l-16 -42 -26 22 16 39z"/>
<path class="kb" d="M2207 2472l-16 -42 -26 19 16 39z"/>
<path class="ec" d="M2223 2512l-16 -40 -26 16 16 37z"/>
<path class="z" d="M2239 2549l-16 -37 -26 13 16 34z"/>
<path class="fb" d="M2255 2583l-16 -34 -26 10 16 32z"/>
<path class="f" d="M2271 2612l-16 -29 -26 8 16 28z"/>
<path class="cb" d="M2287 2637l-16 -25 -26 7 16 24z"/>
<path class="db" d="M2303 2658l-16 -21 -26 6 16 20z"/>
<path class="c" d="M2319 2676l-16 -18 -26 5 16 18z"/>
<path class="b" d="M2367 2714l-16 -11 -16 -12 -16 -15 -26 5 16 14 16 13 16 10z"/>
<path class="a" d="M2431 2744l-16 -6 -16 -7 -16 -8 -16 -9 -26 4 16 10 16 8 16 7 16 6z"/>
<path class="a" d="M1749 2514l-16 -2 -16 -3 -16 -4 -16 -5 -27 6 16 4 16 4 16 4 16 2z"/>
<path class="b" d="M1797 2512l-16 3 -16 0 -16 -1 -27 6 16 2 16 -1 16 -2z"/>
<path class="c" d="M1829 2499l-16 8 -16 5 -27 7 16 -4 16 -7z"/>
<path class="d" d="M1845 2488l-16 11 -27 9 16 -9z"/>
<path class="e" d="M1861 2474l-16 14 -27 11 16 -13z"/>
<path class="sb" d="M1877 2457l-16 17 -27 12 16 -16z"/>
<path class="h" d="M1893 2436l-16 21 -27 13 16 -18z"/>
<path class="dc" d="M1909 2413l-16 23 -27 16 16 -21z"/>
<path class="ec" d="M1925 2387l-16 26 -27 18 16 -23z"/>
<path class="kb" d="M1941 2361l-16 26 -27 21 16 -25z"/>
<path class="lb" d="M1957 2334l-16 27 -27 22 16 -24z"/>
<path class="ed" d="M1973 2309l-16 25 -27 25 16 -22z"/>
<path class="pg" d="M1989 2287l-16 22 -27 28 16 -20z"/>
<path class="jg" d="M2005 2270l-16 17 -27 30 16 -16z"/>
<path class="tf" d="M2021 2258l-16 12 -27 31 16 -11z"/>
<path class="cf" d="M2037 2252l-16 6 -27 32 16 -4z"/>
<path class="qg" d="M2069 2264l-16 -10 -16 -2 -27 34 16 2 16 9z"/>
<path class="cf" d="M2085 2281l-16 -17 -27 33 16 16z"/>
<path class="rg" d="M2101 2306l-16 -25 -27 32 16 23z"/>
<path class="zf" d="M2117 2337l-16 -31 -27 30 16 28z"/>
<path class="ig" d="M2133 2372l-16 -35 -27 27 16 32z"/>
<path class="bf" d="M2149 2410l-16 -38 -27 24 16 35z"/>
<path class="o" d="M2165 2449l-16 -39 -27 21 16 36z"/>
<path class="wb" d="M2181 2488l-16 -39 -27 18 16 36z"/>
<path class="ic" d="M2197 2525l-16 -37 -27 15 16 34z"/>
<path class="pb" d="M2213 2559l-16 -34 -27 12 16 33z"/>
<path class="wc" d="M2229 2591l-16 -32 -27 11 16 29z"/>
<path class="bb" d="M2245 2619l-16 -28 -27 8 16 27z"/>
<path class="cb" d="M2261 2643l-16 -24 -27 7 16 23z"/>
<path class="db" d="M2277 2663l-16 -20 -27 6 16 20z"/>
<path class="c" d="M2293 2681l-16 -18 -27 6 16 17z"/>
<path class="b" d="M2341 2718l-16 -10 -16 -13 -16 -14 -27 5 16 14 16 13 16 10z"/>
<path class="a" d="M2405 2749l-16 -6 -16 -7 -16 -8 -16 -10 -27 5 16 9 16 8 16 8 16 6z"/>
<path class="a" d="M1722 2520l-16 -2 -16 -4 -16 -4 -26 6 16 4 16 3 16 3z"/>
<path class="b" d="M1770 2519l-16 2 -16 1 -16 -2 -26 6 16 2 16 0 16 -1z"/>
<path class="c" d="M1802 2508l-16 7 -16 4 -26 8 16 -4 16 -6z"/>
<path class="db" d="M1818 2499l-16 9 -26 9 16 -8z"/>
<path class="cb" d="M1834 2486l-16 13 -26 10 16 -11z"/>
<path class="bb" d="M1850 2470l-16 16 -26 12 16 -14z"/>
<path class="fb" d="M1866 2452l-16 18 -26 14 16 -17z"/>
<path class="cc" d="M1882 2431l-16 21 -26 15 16 -19z"/>
<path class="y" d="M1898 2408l-16 23 -26 17 16 -21z"/>
<path class="mc" d="M1914 2383l-16 25 -26 19 16 -22z"/>
<path class="w" d="M1930 2359l-16 24 -26 22 16 -22z"/>
<path class="sg" d="M1946 2337l-16 22 -26 24 16 -20z"/>
<path class="ld" d="M1962 2317l-16 20 -26 26 16 -18z"/>
<path class="pg" d="M1978 2301l-16 16 -26 28 16 -15z"/>
<path class="bg" d="M1994 2290l-16 11 -26 29 16 -9z"/>
<path class="tg" d="M2010 2286l-16 4 -26 31 16 -4z"/>
<path class="ne" d="M2042 2297l-16 -9 -16 -2 -26 31 16 2 16 9z"/>
<path class="mf" d="M2058 2313l-16 -16 -26 31 16 15z"/>
<path class="bg" d="M2074 2336l-16 -23 -26 30 16 21z"/>
<path class="hd" d="M2090 2364l-16 -28 -26 28 16 26z"/>
<path class="ug" d="M2106 2396l-16 -32 -26 26 16 29z"/>
<path class="u" d="M2122 2431l-16 -35 -26 23 16 32z"/>
<path class="n" d="M2138 2467l-16 -36 -26 20 16 33z"/>
<path class="l" d="M2154 2503l-16 -36 -26 17 16 34z"/>
<path class="ob" d="M2170 2537l-16 -34 -26 15 16 32z"/>
<path class="gb" d="M2186 2570l-16 -33 -26 13 16 30z"/>
<path class="g" d="M2202 2599l-16 -29 -26 10 16 28z"/>
<path class="bb" d="M2218 2626l-16 -27 -26 9 16 25z"/>
<path class="cb" d="M2234 2649l-16 -23 -26 7 16 22z"/>
<path class="db" d="M2250 2669l-16 -20 -26 6 16 19z"/>
<path class="c" d="M2266 2686l-16 -17 -26 5 16 17z"/>
<path class="b" d="M2314 2723l-16 -10 -16 -13 -16 -14 -26 5 16 14 16 12 16 11z"/>
<path class="a" d="M2378 2754l-16 -6 -16 -8 -16 -8 -16 -9 -26 5 16 9 16 8 16 8 16 6z"/>
<path class="a" d="M1696 2526l-16 -3 -16 -3 -16 -4 -27 5 16 4 16 4 16 3z"/>
<path class="b" d="M1760 2523l-16 4 -16 1 -16 0 -16 -2 -27 6 16 2 16 1 16 -1 16 -3z"/>
<path class="c" d="M1776 2517l-16 6 -27 8 16 -5z"/>
<path class="db" d="M1792 2509l-16 8 -27 9 16 -7z"/>
<path class="cb" d="M1808 2498l-16 11 -27 10 16 -10z"/>
<path class="rb" d="M1824 2484l-16 14 -27 11 16 -13z"/>
<path class="qb" d="M1840 2467l-16 17 -27 12 16 -15z"/>
<path class="ub" d="M1856 2448l-16 19 -27 14 16 -17z"/>
<path class="zc" d="M1872 2427l-16 21 -27 16 16 -19z"/>
<path class="ec" d="M1888 2405l-16 22 -27 18 16 -20z"/>
<path class="m" d="M1904 2383l-16 22 -27 20 16 -20z"/>
<path class="td" d="M1920 2363l-16 20 -27 22 16 -18z"/>
<path class="r" d="M1936 2345l-16 18 -27 24 16 -16z"/>
<path class="ld" d="M1952 2330l-16 15 -27 26 16 -13z"/>
<path class="ig" d="M1968 2321l-16 9 -27 28 16 -8z"/>
<path class="uf" d="M1984 2317l-16 4 -27 29 16 -4z"/>
<path class="vg" d="M2016 2328l-16 -9 -16 -2 -27 29 16 3 16 8z"/>
<path class="uf" d="M2032 2343l-16 -15 -27 29 16 15z"/>
<path class="ig" d="M2048 2364l-16 -21 -27 29 16 19z"/>
<path class="ld" d="M2064 2390l-16 -26 -27 27 16 23z"/>
<path class="wg" d="M2080 2419l-16 -29 -27 24 16 27z"/>
<path class="td" d="M2096 2451l-16 -32 -27 22 16 30z"/>
<path class="m" d="M2112 2484l-16 -33 -27 20 16 30z"/>
<path class="ec" d="M2128 2518l-16 -34 -27 17 16 31z"/>
<path class="sd" d="M2144 2550l-16 -32 -27 14 16 30z"/>
<path class="ub" d="M2160 2580l-16 -30 -27 12 16 28z"/>
<path class="eb" d="M2176 2608l-16 -28 -27 10 16 26z"/>
<path class="rb" d="M2192 2633l-16 -25 -27 8 16 24z"/>
<path class="cb" d="M2208 2655l-16 -22 -27 7 16 21z"/>
<path class="db" d="M2224 2674l-16 -19 -27 6 16 19z"/>
<path class="c" d="M2240 2691l-16 -17 -27 6 16 16z"/>
<path class="b" d="M2304 2737l-16 -9 -16 -11 -16 -12 -16 -14 -27 5 16 14 16 12 16 11 16 9z"/>
<path class="a" d="M2352 2759l-16 -6 -16 -8 -16 -8 -27 5 16 8 16 8 16 6z"/>
<path class="a" d="M1685 2534l-16 -2 -16 -3 -16 -4 -16 -4 -26 6 16 4 16 4 16 3 16 2z"/>
<path class="b" d="M1733 2531l-16 3 -16 1 -16 -1 -26 6 16 1 16 0 16 -2z"/>
<path class="c" d="M1749 2526l-16 5 -26 8 16 -5z"/>
<path class="db" d="M1765 2519l-16 7 -26 8 16 -6z"/>
<path class="d" d="M1781 2509l-16 10 -26 9 16 -9z"/>
<path class="e" d="M1797 2496l-16 13 -26 10 16 -11z"/>
<path class="sb" d="M1813 2481l-16 15 -26 12 16 -14z"/>
<path class="sc" d="M1829 2464l-16 17 -26 13 16 -15z"/>
<path class="pb" d="M1845 2445l-16 19 -26 15 16 -17z"/>
<path class="y" d="M1861 2425l-16 20 -26 17 16 -18z"/>
<path class="l" d="M1877 2405l-16 20 -26 19 16 -18z"/>
<path class="nb" d="M1893 2387l-16 18 -26 21 16 -16z"/>
<path class="v" d="M1909 2371l-16 16 -26 23 16 -15z"/>
<path class="r" d="M1925 2358l-16 13 -26 24 16 -11z"/>
<path class="ed" d="M1941 2350l-16 8 -26 26 16 -8z"/>
<path class="fd" d="M1957 2346l-16 4 -26 26 16 -2z"/>
<path class="xg" d="M1989 2357l-16 -8 -16 -3 -26 28 16 3 16 8z"/>
<path class="fd" d="M2005 2372l-16 -15 -26 28 16 13z"/>
<path class="nd" d="M2021 2391l-16 -19 -26 26 16 18z"/>
<path class="r" d="M2037 2414l-16 -23 -26 25 16 22z"/>
<path class="v" d="M2053 2441l-16 -27 -26 24 16 25z"/>
<path class="nc" d="M2069 2471l-16 -30 -26 22 16 27z"/>
<path class="mc" d="M2085 2501l-16 -30 -26 19 16 28z"/>
<path class="ic" d="M2101 2532l-16 -31 -26 17 16 28z"/>
<path class="kc" d="M2117 2562l-16 -30 -26 14 16 28z"/>
<path class="zb" d="M2133 2590l-16 -28 -26 12 16 26z"/>
<path class="rc" d="M2149 2616l-16 -26 -26 10 16 25z"/>
<path class="e" d="M2165 2640l-16 -24 -26 9 16 22z"/>
<path class="d" d="M2181 2661l-16 -21 -26 7 16 21z"/>
<path class="db" d="M2197 2680l-16 -19 -26 7 16 18z"/>
<path class="c" d="M2213 2696l-16 -16 -26 6 16 15z"/>
<path class="b" d="M2277 2742l-16 -9 -16 -11 -16 -12 -16 -14 -26 5 16 14 16 12 16 11 16 9z"/>
<path class="a" d="M2325 2764l-16 -6 -16 -8 -16 -8 -26 5 16 8 16 8 16 6z"/>
<path class="a" d="M1659 2540l-16 -2 -16 -3 -16 -4 -16 -4 -27 5 16 4 16 4 16 4 16 2z"/>
<path class="b" d="M1707 2539l-16 2 -16 0 -16 -1 -27 6 16 2 16 0 16 -2z"/>
<path class="c" d="M1739 2528l-16 6 -16 5 -27 7 16 -3 16 -6z"/>
<path class="d" d="M1755 2519l-16 9 -27 9 16 -8z"/>
<path class="cb" d="M1771 2508l-16 11 -27 10 16 -10z"/>
<path class="bb" d="M1787 2494l-16 14 -27 11 16 -12z"/>
<path class="tb" d="M1803 2479l-16 15 -27 13 16 -14z"/>
<path class="ub" d="M1819 2462l-16 17 -27 14 16 -15z"/>
<path class="zc" d="M1835 2444l-16 18 -27 16 16 -16z"/>
<path class="yc" d="M1851 2426l-16 18 -27 18 16 -16z"/>
<path class="jb" d="M1867 2410l-16 16 -27 20 16 -15z"/>
<path class="n" d="M1883 2395l-16 15 -27 21 16 -13z"/>
<path class="v" d="M1899 2384l-16 11 -27 23 16 -10z"/>
<path class="sg" d="M1915 2376l-16 8 -27 24 16 -6z"/>
<path class="s" d="M1931 2374l-16 2 -27 26 16 -2z"/>
<path class="bf" d="M1947 2377l-16 -3 -27 26 16 3z"/>
<path class="yg" d="M1963 2385l-16 -8 -27 26 16 8z"/>
<path class="s" d="M1979 2398l-16 -13 -27 26 16 12z"/>
<path class="q" d="M1995 2416l-16 -18 -27 25 16 17z"/>
<path class="v" d="M2011 2438l-16 -22 -27 24 16 20z"/>
<path class="w" d="M2027 2463l-16 -25 -27 22 16 23z"/>
<path class="wb" d="M2043 2490l-16 -27 -27 20 16 24z"/>
<path class="ib" d="M2059 2518l-16 -28 -27 17 16 26z"/>
<path class="j" d="M2075 2546l-16 -28 -27 15 16 27z"/>
<path class="cc" d="M2091 2574l-16 -28 -27 14 16 26z"/>
<path class="fb" d="M2107 2600l-16 -26 -27 12 16 24z"/>
<path class="ad" d="M2123 2625l-16 -25 -27 10 16 24z"/>
<path class="e" d="M2139 2647l-16 -22 -27 9 16 21z"/>
<path class="d" d="M2155 2668l-16 -21 -27 8 16 19z"/>
<path class="db" d="M2171 2686l-16 -18 -27 6 16 18z"/>
<path class="c" d="M2187 2701l-16 -15 -27 6 16 15z"/>
<path class="b" d="M2251 2747l-16 -9 -16 -11 -16 -12 -16 -14 -27 6 16 13 16 12 16 11 16 9z"/>
<path class="a" d="M2299 2769l-16 -6 -16 -8 -16 -8 -27 5 16 8 16 8 16 6z"/>
<path class="a" d="M1632 2546l-16 -2 -16 -4 -16 -4 -16 -4 -26 5 16 5 16 4 16 3 16 3z"/>
<path class="b" d="M1680 2546l-16 2 -16 0 -16 -2 -26 6 16 2 16 0 16 -1z"/>
<path class="c" d="M1712 2537l-16 6 -16 3 -26 7 16 -2 16 -5z"/>
<path class="db" d="M1728 2529l-16 8 -26 9 16 -7z"/>
<path class="cb" d="M1744 2519l-16 10 -26 10 16 -9z"/>
<path class="rb" d="M1760 2507l-16 12 -26 11 16 -10z"/>
<path class="eb" d="M1776 2493l-16 14 -26 13 16 -13z"/>
<path class="zb" d="M1792 2478l-16 15 -26 14 16 -14z"/>
<path class="pb" d="M1808 2462l-16 16 -26 15 16 -14z"/>
<path class="oc" d="M1824 2446l-16 16 -26 17 16 -14z"/>
<path class="lc" d="M1840 2431l-16 15 -26 19 16 -14z"/>
<path class="wb" d="M1856 2418l-16 13 -26 20 16 -11z"/>
<path class="n" d="M1872 2408l-16 10 -26 22 16 -9z"/>
<path class="o" d="M1888 2402l-16 6 -26 23 16 -6z"/>
<path class="lb" d="M1904 2400l-16 2 -26 23 16 -1z"/>
<path class="u" d="M1936 2411l-16 -8 -16 -3 -26 24 16 3 16 8z"/>
<path class="lb" d="M1952 2423l-16 -12 -26 24 16 12z"/>
<path class="o" d="M1968 2440l-16 -17 -26 24 16 15z"/>
<path class="w" d="M1984 2460l-16 -20 -26 22 16 19z"/>
<path class="m" d="M2000 2483l-16 -23 -26 21 16 21z"/>
<path class="vb" d="M2016 2507l-16 -24 -26 19 16 23z"/>
<path class="ic" d="M2032 2533l-16 -26 -26 18 16 24z"/>
<path class="hb" d="M2048 2560l-16 -27 -26 16 16 24z"/>
<path class="ub" d="M2064 2586l-16 -26 -26 13 16 24z"/>
<path class="tb" d="M2080 2610l-16 -24 -26 11 16 23z"/>
<path class="f" d="M2096 2634l-16 -24 -26 10 16 22z"/>
<path class="cb" d="M2112 2655l-16 -21 -26 8 16 21z"/>
<path class="d" d="M2128 2674l-16 -19 -26 8 16 18z"/>
<path class="db" d="M2144 2692l-16 -18 -26 7 16 17z"/>
<path class="c" d="M2160 2707l-16 -15 -26 6 16 14z"/>
<path class="b" d="M2224 2752l-16 -9 -16 -11 -16 -12 -16 -13 -26 5 16 14 16 11 16 11 16 9z"/>
<path class="a" d="M2288 2781l-16 -7 -16 -6 -16 -8 -16 -8 -26 5 16 8 16 8 16 7 16 6z"/>
<path class="a" d="M1606 2552l-16 -3 -16 -3 -16 -4 -26 5 16 5 16 3 16 3z"/>
<path class="b" d="M1670 2551l-16 2 -16 1 -16 0 -16 -2 -26 6 16 2 16 1 16 -1 16 -2z"/>
<path class="c" d="M1686 2546l-16 5 -26 7 16 -4z"/>
<path class="db" d="M1702 2539l-16 7 -26 8 16 -5z"/>
<path class="d" d="M1718 2530l-16 9 -26 10 16 -8z"/>
<path class="e" d="M1734 2520l-16 10 -26 11 16 -10z"/>
<path class="ad" d="M1750 2507l-16 13 -26 11 16 -11z"/>
<path class="tb" d="M1766 2493l-16 14 -26 13 16 -12z"/>
<path class="ub" d="M1782 2479l-16 14 -26 15 16 -13z"/>
<path class="dc" d="M1798 2465l-16 14 -26 16 16 -13z"/>
<path class="ic" d="M1814 2451l-16 14 -26 17 16 -12z"/>
<path class="vb" d="M1830 2440l-16 11 -26 19 16 -10z"/>
<path class="wb" d="M1846 2431l-16 9 -26 20 16 -8z"/>
<path class="nb" d="M1862 2425l-16 6 -26 21 16 -4z"/>
<path class="gc" d="M1878 2424l-16 1 -26 23 16 -1z"/>
<path class="mb" d="M1910 2435l-16 -8 -16 -3 -26 23 16 3 16 8z"/>
<path class="gc" d="M1926 2447l-16 -12 -26 23 16 11z"/>
<path class="nc" d="M1942 2462l-16 -15 -26 22 16 14z"/>
<path class="m" d="M1958 2481l-16 -19 -26 21 16 17z"/>
<path class="l" d="M1974 2502l-16 -21 -26 19 16 20z"/>
<path class="yc" d="M1990 2525l-16 -23 -26 18 16 21z"/>
<path class="j" d="M2006 2549l-16 -24 -26 16 16 23z"/>
<path class="pb" d="M2022 2573l-16 -24 -26 15 16 22z"/>
<path class="zb" d="M2038 2597l-16 -24 -26 13 16 23z"/>
<path class="eb" d="M2054 2620l-16 -23 -26 12 16 21z"/>
<path class="bb" d="M2070 2642l-16 -22 -26 10 16 21z"/>
<path class="cb" d="M2086 2663l-16 -21 -26 9 16 19z"/>
<path class="d" d="M2102 2681l-16 -18 -26 7 16 18z"/>
<path class="db" d="M2118 2698l-16 -17 -26 7 16 16z"/>
<path class="c" d="M2134 2712l-16 -14 -26 6 16 14z"/>
<path class="b" d="M2198 2757l-16 -9 -16 -11 -16 -11 -16 -14 -26 6 16 13 16 11 16 11 16 9z"/>
<path class="a" d="M2262 2786l-16 -6 -16 -7 -16 -8 -16 -8 -26 5 16 8 16 8 16 7 16 6z"/>
<path class="a" d="M1596 2560l-16 -2 -16 -3 -16 -3 -16 -5 -27 6 16 4 16 4 16 3 16 2z"/>
<path class="b" d="M1644 2558l-16 2 -16 1 -16 -1 -27 6 16 1 16 0 16 -1z"/>
<path class="c" d="M1676 2549l-16 5 -16 4 -27 8 16 -3 16 -5z"/>
<path class="d" d="M1692 2541l-16 8 -27 9 16 -7z"/>
<path class="cb" d="M1708 2531l-16 10 -27 10 16 -8z"/>
<path class="bb" d="M1724 2520l-16 11 -27 12 16 -10z"/>
<path class="eb" d="M1740 2508l-16 12 -27 13 16 -11z"/>
<path class="zb" d="M1756 2495l-16 13 -27 14 16 -11z"/>
<path class="i" d="M1772 2482l-16 13 -27 16 16 -12z"/>
<path class="j" d="M1788 2470l-16 12 -27 17 16 -11z"/>
<path class="k" d="M1804 2460l-16 10 -27 18 16 -9z"/>
<path class="vb" d="M1820 2452l-16 8 -27 19 16 -6z"/>
<path class="jb" d="M1836 2448l-16 4 -27 21 16 -4z"/>
<path class="pd" d="M1852 2447l-16 1 -27 21 16 -1z"/>
<path class="kb" d="M1884 2458l-16 -8 -16 -3 -27 21 16 4 16 7z"/>
<path class="pd" d="M1900 2469l-16 -11 -27 21 16 11z"/>
<path class="qc" d="M1916 2483l-16 -14 -27 21 16 13z"/>
<path class="l" d="M1932 2500l-16 -17 -27 20 16 16z"/>
<path class="ec" d="M1948 2520l-16 -20 -27 19 16 18z"/>
<path class="oc" d="M1964 2541l-16 -21 -27 17 16 20z"/>
<path class="hb" d="M1980 2564l-16 -23 -27 16 16 21z"/>
<path class="tc" d="M1996 2586l-16 -22 -27 14 16 21z"/>
<path class="fb" d="M2012 2609l-16 -23 -27 13 16 21z"/>
<path class="sb" d="M2028 2630l-16 -21 -27 11 16 20z"/>
<path class="rb" d="M2044 2651l-16 -21 -27 10 16 20z"/>
<path class="cb" d="M2060 2670l-16 -19 -27 9 16 18z"/>
<path class="d" d="M2076 2688l-16 -18 -27 8 16 17z"/>
<path class="c" d="M2108 2718l-16 -14 -16 -16 -27 7 16 15 16 14z"/>
<path class="b" d="M2172 2762l-16 -9 -16 -11 -16 -11 -16 -13 -27 6 16 12 16 12 16 10 16 9z"/>
<path class="a" d="M2236 2791l-16 -6 -16 -7 -16 -8 -16 -8 -27 5 16 8 16 8 16 7 16 6z"/>
<path class="a" d="M1569 2566l-16 -2 -16 -3 -16 -4 -16 -4 -26 5 16 5 16 3 16 4 16 2z"/>
<path class="b" d="M1617 2566l-16 1 -16 0 -16 -1 -26 6 16 2 16 0 16 -1z"/>
<path class="c" d="M1649 2558l-16 5 -16 3 -26 7 16 -2 16 -4z"/>
<path class="db" d="M1665 2551l-16 7 -26 9 16 -6z"/>
<path class="d" d="M1681 2543l-16 8 -26 10 16 -7z"/>
<path class="e" d="M1697 2533l-16 10 -26 11 16 -9z"/>
<path class="ad" d="M1713 2522l-16 11 -26 12 16 -10z"/>
<path class="tb" d="M1729 2511l-16 11 -26 13 16 -10z"/>
<path class="ub" d="M1745 2499l-16 12 -26 14 16 -10z"/>
<path class="kc" d="M1761 2488l-16 11 -26 16 16 -10z"/>
<path class="xc" d="M1777 2479l-16 9 -26 17 16 -7z"/>
<path class="k" d="M1793 2473l-16 6 -26 19 16 -6z"/>
<path class="lc" d="M1809 2469l-16 4 -26 19 16 -3z"/>
<path class="l" d="M1825 2468l-16 1 -26 20 16 0z"/>
<path class="mc" d="M1857 2479l-16 -7 -16 -4 -26 21 16 3 16 7z"/>
<path class="fc" d="M1873 2490l-16 -11 -26 20 16 10z"/>
<path class="x" d="M1889 2503l-16 -13 -26 19 16 13z"/>
<path class="yc" d="M1905 2519l-16 -16 -26 19 16 15z"/>
<path class="y" d="M1921 2537l-16 -18 -26 18 16 17z"/>
<path class="jc" d="M1937 2557l-16 -20 -26 17 16 18z"/>
<path class="cc" d="M1953 2578l-16 -21 -26 15 16 19z"/>
<path class="h" d="M1969 2599l-16 -21 -26 13 16 20z"/>
<path class="g" d="M1985 2620l-16 -21 -26 12 16 20z"/>
<path class="ad" d="M2001 2640l-16 -20 -26 11 16 19z"/>
<path class="e" d="M2017 2660l-16 -20 -26 10 16 18z"/>
<path class="cb" d="M2033 2678l-16 -18 -26 8 16 18z"/>
<path class="db" d="M2049 2695l-16 -17 -26 8 16 16z"/>
<path class="c" d="M2081 2724l-16 -14 -16 -15 -26 7 16 14 16 14z"/>
<path class="b" d="M2145 2767l-16 -9 -16 -10 -16 -12 -16 -12 -26 6 16 12 16 11 16 10 16 9z"/>
<path class="a" d="M2209 2796l-16 -6 -16 -7 -16 -8 -16 -8 -26 5 16 8 16 8 16 7 16 6z"/>
<path class="a" d="M1543 2572l-16 -2 -16 -4 -16 -3 -16 -5 -27 6 16 4 16 4 16 4 16 2z"/>
<path class="b" d="M1607 2571l-16 2 -16 1 -16 0 -16 -2 -27 6 16 2 16 1 16 -1 16 -2z"/>
<path class="c" d="M1623 2567l-16 4 -27 7 16 -3z"/>
<path class="db" d="M1639 2561l-16 6 -27 8 16 -5z"/>
<path class="d" d="M1655 2554l-16 7 -27 9 16 -6z"/>
<path class="cb" d="M1671 2545l-16 9 -27 10 16 -8z"/>
<path class="bb" d="M1687 2535l-16 10 -27 11 16 -8z"/>
<path class="eb" d="M1703 2525l-16 10 -27 13 16 -9z"/>
<path class="sc" d="M1719 2515l-16 10 -27 14 16 -9z"/>
<path class="gb" d="M1735 2505l-16 10 -27 15 16 -8z"/>
<path class="hb" d="M1751 2498l-16 7 -27 17 16 -7z"/>
<path class="xc" d="M1767 2492l-16 6 -27 17 16 -5z"/>
<path class="ic" d="M1783 2489l-16 3 -27 18 16 -3z"/>
<path class="yc" d="M1799 2489l-16 0 -27 18 16 1z"/>
<path class="ec" d="M1815 2492l-16 -3 -27 19 16 4z"/>
<path class="ib" d="M1831 2499l-16 -7 -27 20 16 7z"/>
<path class="ec" d="M1847 2509l-16 -10 -27 20 16 9z"/>
<path class="k" d="M1863 2522l-16 -13 -27 19 16 12z"/>
<path class="oc" d="M1879 2537l-16 -15 -27 18 16 14z"/>
<path class="zc" d="M1895 2554l-16 -17 -27 17 16 16z"/>
<path class="pb" d="M1911 2572l-16 -18 -27 16 16 17z"/>
<path class="ub" d="M1927 2591l-16 -19 -27 15 16 18z"/>
<path class="fb" d="M1943 2611l-16 -20 -27 14 16 18z"/>
<path class="eb" d="M1959 2631l-16 -20 -27 12 16 19z"/>
<path class="bb" d="M1975 2650l-16 -19 -27 11 16 18z"/>
<path class="cb" d="M1991 2668l-16 -18 -27 10 16 17z"/>
<path class="d" d="M2007 2686l-16 -18 -27 9 16 16z"/>
<path class="db" d="M2023 2702l-16 -16 -27 7 16 16z"/>
<path class="c" d="M2055 2730l-16 -14 -16 -14 -27 7 16 14 16 13z"/>
<path class="b" d="M2119 2772l-16 -9 -16 -10 -16 -11 -16 -12 -27 6 16 12 16 10 16 10 16 9z"/>
<path class="a" d="M2183 2801l-16 -6 -16 -7 -16 -8 -16 -8 -27 5 16 8 16 8 16 7 16 6z"/>
<path class="a" d="M1516 2578l-16 -2 -16 -4 -16 -4 -16 -4 -26 5 16 5 16 4 16 3 16 3z"/>
<path class="b" d="M1580 2578l-16 2 -16 1 -16 -1 -16 -2 -26 6 16 2 16 1 16 0 16 -1z"/>
<path class="c" d="M1612 2570l-16 5 -16 3 -26 8 16 -3 16 -4z"/>
<path class="db" d="M1628 2564l-16 6 -26 9 16 -5z"/>
<path class="cb" d="M1644 2556l-16 8 -26 10 16 -7z"/>
<path class="e" d="M1660 2548l-16 8 -26 11 16 -7z"/>
<path class="ad" d="M1676 2539l-16 9 -26 12 16 -8z"/>
<path class="tb" d="M1692 2530l-16 9 -26 13 16 -8z"/>
<path class="h" d="M1708 2522l-16 8 -26 14 16 -7z"/>
<path class="cc" d="M1724 2515l-16 7 -26 15 16 -6z"/>
<path class="hb" d="M1740 2510l-16 5 -26 16 16 -4z"/>
<path class="j" d="M1756 2507l-16 3 -26 17 16 -2z"/>
<path class="oc" d="M1772 2508l-16 -1 -26 18 16 1z"/>
<path class="y" d="M1804 2519l-16 -7 -16 -4 -26 18 16 4 16 7z"/>
<path class="oc" d="M1820 2528l-16 -9 -26 18 16 9z"/>
<path class="ud" d="M1836 2540l-16 -12 -26 18 16 11z"/>
<path class="jc" d="M1852 2554l-16 -14 -26 17 16 13z"/>
<path class="pb" d="M1868 2570l-16 -16 -26 16 16 15z"/>
<path class="tc" d="M1884 2587l-16 -17 -26 15 16 16z"/>
<path class="zb" d="M1900 2605l-16 -18 -26 14 16 17z"/>
<path class="g" d="M1916 2623l-16 -18 -26 13 16 17z"/>
<path class="ad" d="M1932 2642l-16 -19 -26 12 16 17z"/>
<path class="rb" d="M1948 2660l-16 -18 -26 10 16 17z"/>
<path class="cb" d="M1964 2677l-16 -17 -26 9 16 16z"/>
<path class="d" d="M1980 2693l-16 -16 -26 8 16 16z"/>
<path class="db" d="M1996 2709l-16 -16 -26 8 16 15z"/>
<path class="c" d="M2028 2736l-16 -13 -16 -14 -26 7 16 13 16 13z"/>
<path class="b" d="M2092 2777l-16 -9 -16 -10 -16 -10 -16 -12 -26 6 16 11 16 11 16 9 16 9z"/>
<path class="a" d="M2156 2806l-16 -6 -16 -7 -16 -8 -16 -8 -26 5 16 8 16 8 16 7 16 7z"/>
<path class="a" d="M1490 2584l-16 -3 -16 -3 -16 -4 -27 5 16 4 16 4 16 3z"/>
<path class="b" d="M1554 2586l-16 1 -16 0 -16 -1 -16 -2 -27 6 16 3 16 1 16 0 16 0z"/>
<path class="c" d="M1586 2579l-16 4 -16 3 -27 8 16 -3 16 -3z"/>
<path class="db" d="M1602 2574l-16 5 -27 9 16 -4z"/>
<path class="d" d="M1618 2567l-16 7 -27 10 16 -6z"/>
<path class="cb" d="M1634 2560l-16 7 -27 11 16 -7z"/>
<path class="bb" d="M1650 2552l-16 8 -27 11 16 -6z"/>
<path class="eb" d="M1666 2544l-16 8 -27 13 16 -7z"/>
<path class="fb" d="M1682 2537l-16 7 -27 14 16 -6z"/>
<path class="ab" d="M1698 2531l-16 6 -27 15 16 -6z"/>
<path class="cc" d="M1714 2527l-16 4 -27 15 16 -3z"/>
<path class="kc" d="M1730 2525l-16 2 -27 16 16 -1z"/>
<path class="dc" d="M1746 2526l-16 -1 -27 17 16 1z"/>
<path class="zc" d="M1778 2537l-16 -7 -16 -4 -27 17 16 4 16 7z"/>
<path class="jc" d="M1794 2546l-16 -9 -27 17 16 8z"/>
<path class="hb" d="M1810 2557l-16 -11 -27 16 16 11z"/>
<path class="pb" d="M1826 2570l-16 -13 -27 16 16 12z"/>
<path class="gb" d="M1842 2585l-16 -15 -27 15 16 14z"/>
<path class="h" d="M1858 2601l-16 -16 -27 14 16 15z"/>
<path class="tb" d="M1874 2618l-16 -17 -27 13 16 16z"/>
<path class="eb" d="M1890 2635l-16 -17 -27 12 16 16z"/>
<path class="bb" d="M1906 2652l-16 -17 -27 11 16 16z"/>
<path class="e" d="M1922 2669l-16 -17 -27 10 16 16z"/>
<path class="cb" d="M1938 2685l-16 -16 -27 9 16 16z"/>
<path class="d" d="M1954 2701l-16 -16 -27 9 16 15z"/>
<path class="db" d="M1970 2716l-16 -15 -27 8 16 14z"/>
<path class="c" d="M2002 2742l-16 -13 -16 -13 -27 7 16 13 16 12z"/>
<path class="b" d="M2066 2782l-16 -9 -16 -9 -16 -11 -16 -11 -27 6 16 11 16 10 16 10 16 8z"/>
<path class="a" d="M2130 2812l-16 -7 -16 -7 -16 -8 -16 -8 -27 5 16 8 16 8 16 7 16 7z"/>
<path class="a" d="M1479 2593l-16 -3 -16 -3 -16 -4 -16 -4 -26 5 16 5 16 4 16 3 16 3z"/>
<path class="b" d="M1543 2591l-16 3 -16 0 -16 0 -16 -1 -26 6 16 1 16 1 16 0 16 -2z"/>
<path class="c" d="M1559 2588l-16 3 -26 8 16 -2z"/>
<path class="db" d="M1575 2584l-16 4 -26 9 16 -4z"/>
<path class="d" d="M1591 2578l-16 6 -26 9 16 -5z"/>
<path class="cb" d="M1607 2571l-16 7 -26 10 16 -6z"/>
<path class="e" d="M1623 2565l-16 6 -26 11 16 -5z"/>
<path class="ad" d="M1639 2558l-16 7 -26 12 16 -6z"/>
<path class="qb" d="M1655 2552l-16 6 -26 13 16 -6z"/>
<path class="fb" d="M1671 2546l-16 6 -26 13 16 -4z"/>
<path class="ab" d="M1687 2543l-16 3 -26 15 16 -3z"/>
<path class="gb" d="M1703 2542l-16 1 -26 15 16 0z"/>
<path class="i" d="M1719 2543l-16 -1 -26 16 16 1z"/>
<path class="pb" d="M1767 2562l-16 -8 -16 -7 -16 -4 -26 16 16 4 16 7 16 8z"/>
<path class="cc" d="M1783 2573l-16 -11 -26 16 16 10z"/>
<path class="ub" d="M1799 2585l-16 -12 -26 15 16 12z"/>
<path class="h" d="M1815 2599l-16 -14 -26 15 16 13z"/>
<path class="fb" d="M1831 2614l-16 -15 -26 14 16 14z"/>
<path class="qb" d="M1847 2630l-16 -16 -26 13 16 15z"/>
<path class="ad" d="M1863 2646l-16 -16 -26 12 16 15z"/>
<path class="rb" d="M1879 2662l-16 -16 -26 11 16 15z"/>
<path class="cb" d="M1895 2678l-16 -16 -26 10 16 15z"/>
<path class="d" d="M1911 2694l-16 -16 -26 9 16 15z"/>
<path class="db" d="M1927 2709l-16 -15 -26 8 16 14z"/>
<path class="ac" d="M1943 2723l-16 -14 -26 7 16 14z"/>
<path class="c" d="M1975 2748l-16 -12 -16 -13 -26 7 16 12 16 12z"/>
<path class="b" d="M2039 2787l-16 -8 -16 -10 -16 -10 -16 -11 -26 6 16 11 16 10 16 9 16 9z"/>
<path class="a" d="M2119 2823l-16 -6 -16 -7 -16 -7 -16 -8 -16 -8 -26 6 16 8 16 7 16 7 16 7 16 6z"/>
<path class="a" d="M1453 2599l-16 -3 -16 -3 -16 -4 -16 -5 -27 6 16 4 16 4 16 4 16 3z"/>
<path class="b" d="M1517 2599l-16 2 -16 0 -16 -1 -16 -1 -27 6 16 2 16 1 16 0 16 -1z"/>
<path class="c" d="M1549 2593l-16 4 -16 2 -27 8 16 -2 16 -3z"/>
<path class="db" d="M1565 2588l-16 5 -27 9 16 -4z"/>
<path class="d" d="M1581 2582l-16 6 -27 10 16 -5z"/>
<path class="cb" d="M1597 2577l-16 5 -27 11 16 -5z"/>
<path class="bb" d="M1613 2571l-16 6 -27 11 16 -5z"/>
<path class="sb" d="M1629 2565l-16 6 -27 12 16 -4z"/>
<path class="g" d="M1645 2561l-16 4 -27 14 16 -4z"/>
<path class="fb" d="M1661 2558l-16 3 -27 14 16 -2z"/>
<path class="h" d="M1677 2558l-16 0 -27 15 16 0z"/>
<path class="ub" d="M1693 2559l-16 -1 -27 15 16 1z"/>
<path class="tc" d="M1725 2570l-16 -7 -16 -4 -27 15 16 5 16 6z"/>
<path class="ub" d="M1741 2578l-16 -8 -27 15 16 8z"/>
<path class="ab" d="M1757 2588l-16 -10 -27 15 16 10z"/>
<path class="zb" d="M1773 2600l-16 -12 -27 15 16 11z"/>
<path class="fb" d="M1789 2613l-16 -13 -27 14 16 12z"/>
<path class="g" d="M1805 2627l-16 -14 -27 13 16 13z"/>
<path class="sb" d="M1821 2642l-16 -15 -27 12 16 14z"/>
<path class="bb" d="M1837 2657l-16 -15 -27 11 16 15z"/>
<path class="e" d="M1853 2672l-16 -15 -27 11 16 14z"/>
<path class="cb" d="M1869 2687l-16 -15 -27 10 16 14z"/>
<path class="d" d="M1885 2702l-16 -15 -27 9 16 14z"/>
<path class="db" d="M1901 2716l-16 -14 -27 8 16 14z"/>
<path class="c" d="M1933 2742l-16 -12 -16 -14 -27 8 16 12 16 13z"/>
<path class="b" d="M2013 2793l-16 -9 -16 -9 -16 -10 -16 -11 -16 -12 -27 7 16 11 16 10 16 10 16 9 16 9z"/>
<path class="a" d="M2093 2828l-16 -6 -16 -7 -16 -7 -16 -7 -16 -8 -27 5 16 8 16 7 16 7 16 7 16 6z"/>
<path class="a" d="M1426 2605l-16 -3 -16 -4 -16 -4 -16 -4 -26 5 16 5 16 4 16 4 16 3z"/>
<path class="b" d="M1490 2607l-16 1 -16 0 -16 -1 -16 -2 -26 6 16 2 16 1 16 1 16 -1z"/>
<path class="c" d="M1522 2602l-16 3 -16 2 -26 7 16 -1 16 -2z"/>
<path class="db" d="M1538 2598l-16 4 -26 9 16 -4z"/>
<path class="d" d="M1554 2593l-16 5 -26 9 16 -4z"/>
<path class="cb" d="M1570 2588l-16 5 -26 10 16 -4z"/>
<path class="e" d="M1586 2583l-16 5 -26 11 16 -4z"/>
<path class="bb" d="M1602 2579l-16 4 -26 12 16 -4z"/>
<path class="sb" d="M1618 2575l-16 4 -26 12 16 -3z"/>
<path class="g" d="M1634 2573l-16 2 -26 13 16 -1z"/>
<path class="fb" d="M1650 2573l-16 0 -26 14 16 0z"/>
<path class="sc" d="M1666 2574l-16 -1 -26 14 16 2z"/>
<path class="zb" d="M1714 2593l-16 -8 -16 -6 -16 -5 -26 15 16 4 16 7 16 8z"/>
<path class="fb" d="M1730 2603l-16 -10 -26 15 16 9z"/>
<path class="tb" d="M1746 2614l-16 -11 -26 14 16 10z"/>
<path class="qb" d="M1762 2626l-16 -12 -26 13 16 12z"/>
<path class="sb" d="M1778 2639l-16 -13 -26 13 16 12z"/>
<path class="bb" d="M1794 2653l-16 -14 -26 12 16 14z"/>
<path class="rb" d="M1810 2668l-16 -15 -26 12 16 13z"/>
<path class="cb" d="M1826 2682l-16 -14 -26 10 16 14z"/>
<path class="d" d="M1858 2710l-16 -14 -16 -14 -26 10 16 13 16 13z"/>
<path class="db" d="M1874 2724l-16 -14 -26 8 16 13z"/>
<path class="c" d="M1906 2749l-16 -13 -16 -12 -26 7 16 12 16 12z"/>
<path class="b" d="M1986 2798l-16 -9 -16 -9 -16 -10 -16 -10 -16 -11 -26 6 16 11 16 10 16 10 16 9 16 8z"/>
<path class="a" d="M2066 2833l-16 -6 -16 -7 -16 -7 -16 -7 -16 -8 -26 5 16 8 16 7 16 7 16 7 16 6z"/>
<path class="a" d="M1400 2611l-16 -3 -16 -4 -16 -4 -16 -5 -27 6 16 4 16 4 16 4 16 3z"/>
<path class="b" d="M1480 2613l-16 1 -16 1 -16 -1 -16 -1 -16 -2 -27 5 16 3 16 2 16 1 16 0 16 -1z"/>
<path class="c" d="M1496 2611l-16 2 -27 8 16 -2z"/>
<path class="ac" d="M1512 2607l-16 4 -27 8 16 -3z"/>
<path class="db" d="M1528 2603l-16 4 -27 9 16 -3z"/>
<path class="d" d="M1544 2599l-16 4 -27 10 16 -3z"/>
<path class="cb" d="M1560 2595l-16 4 -27 11 16 -4z"/>
<path class="rb" d="M1576 2591l-16 4 -27 11 16 -3z"/>
<path class="f" d="M1592 2588l-16 3 -27 12 16 -2z"/>
<path class="sb" d="M1608 2587l-16 1 -27 13 16 -1z"/>
<path class="qb" d="M1624 2587l-16 0 -27 13 16 0z"/>
<path class="tb" d="M1688 2608l-16 -8 -16 -7 -16 -4 -16 -2 -27 13 16 3 16 4 16 7 16 7z"/>
<path class="g" d="M1704 2617l-16 -9 -27 13 16 9z"/>
<path class="eb" d="M1720 2627l-16 -10 -27 13 16 10z"/>
<path class="sb" d="M1736 2639l-16 -12 -27 13 16 11z"/>
<path class="f" d="M1752 2651l-16 -12 -27 12 16 12z"/>
<path class="rb" d="M1768 2665l-16 -14 -27 12 16 12z"/>
<path class="e" d="M1784 2678l-16 -13 -27 10 16 13z"/>
<path class="cb" d="M1800 2692l-16 -14 -27 10 16 13z"/>
<path class="d" d="M1816 2705l-16 -13 -27 9 16 13z"/>
<path class="db" d="M1848 2731l-16 -13 -16 -13 -27 9 16 12 16 13z"/>
<path class="c" d="M1880 2755l-16 -12 -16 -12 -27 8 16 11 16 12z"/>
<path class="b" d="M1960 2803l-16 -8 -16 -9 -16 -10 -16 -10 -16 -11 -27 7 16 10 16 10 16 9 16 9 16 9z"/>
<path class="a" d="M2040 2838l-16 -6 -16 -7 -16 -7 -16 -7 -16 -8 -27 6 16 7 16 8 16 7 16 6 16 7z"/>
<path class="a" d="M1389 2619l-16 -3 -16 -3 -16 -4 -16 -4 -26 6 16 4 16 4 16 3 16 3z"/>
<path class="b" d="M1453 2621l-16 1 -16 0 -16 -1 -16 -2 -26 6 16 2 16 1 16 1 16 -1z"/>
<path class="c" d="M1485 2616l-16 3 -16 2 -26 7 16 -1 16 -2z"/>
<path class="db" d="M1501 2613l-16 3 -26 9 16 -2z"/>
<path class="d" d="M1517 2610l-16 3 -26 10 16 -3z"/>
<path class="cb" d="M1533 2606l-16 4 -26 10 16 -3z"/>
<path class="e" d="M1549 2603l-16 3 -26 11 16 -2z"/>
<path class="rb" d="M1565 2601l-16 2 -26 12 16 -2z"/>
<path class="f" d="M1581 2600l-16 1 -26 12 16 -1z"/>
<path class="sb" d="M1597 2600l-16 0 -26 12 16 1z"/>
<path class="eb" d="M1661 2621l-16 -7 -16 -7 -16 -4 -16 -3 -26 13 16 3 16 5 16 6 16 7z"/>
<path class="sb" d="M1693 2640l-16 -10 -16 -9 -26 13 16 9 16 9z"/>
<path class="bb" d="M1709 2651l-16 -11 -26 12 16 11z"/>
<path class="rb" d="M1725 2663l-16 -12 -26 12 16 11z"/>
<path class="e" d="M1741 2675l-16 -12 -26 11 16 12z"/>
<path class="cb" d="M1757 2688l-16 -13 -26 11 16 12z"/>
<path class="d" d="M1789 2714l-16 -13 -16 -13 -26 10 16 12 16 12z"/>
<path class="db" d="M1805 2726l-16 -12 -26 8 16 12z"/>
<path class="c" d="M1853 2762l-16 -12 -16 -11 -16 -13 -26 8 16 12 16 11 16 11z"/>
<path class="b" d="M1933 2809l-16 -9 -16 -9 -16 -9 -16 -10 -16 -10 -26 6 16 10 16 10 16 9 16 9 16 8z"/>
<path class="a" d="M2013 2844l-16 -7 -16 -6 -16 -7 -16 -8 -16 -7 -26 5 16 8 16 7 16 7 16 6 16 7z"/>
<path class="a" d="M1363 2625l-16 -3 -16 -3 -16 -4 -16 -4 -26 5 16 5 16 4 16 3 16 3z"/>
<path class="b" d="M1427 2628l-16 1 -16 -1 -16 -1 -16 -2 -26 6 16 2 16 2 16 1 16 0z"/>
<path class="c" d="M1459 2625l-16 2 -16 1 -26 8 16 -1 16 -1z"/>
<path class="db" d="M1491 2620l-16 3 -16 2 -26 9 16 -2 16 -2z"/>
<path class="d" d="M1507 2617l-16 3 -26 10 16 -3z"/>
<path class="cb" d="M1523 2615l-16 2 -26 10 16 -1z"/>
<path class="e" d="M1539 2613l-16 2 -26 11 16 -1z"/>
<path class="rb" d="M1555 2612l-16 1 -26 12 16 0z"/>
<path class="bb" d="M1571 2613l-16 -1 -26 13 16 1z"/>
<path class="ad" d="M1635 2634l-16 -7 -16 -6 -16 -5 -16 -3 -26 13 16 3 16 4 16 6 16 8z"/>
<path class="f" d="M1651 2643l-16 -9 -26 13 16 8z"/>
<path class="bb" d="M1667 2652l-16 -9 -26 12 16 9z"/>
<path class="rb" d="M1683 2663l-16 -11 -26 12 16 10z"/>
<path class="e" d="M1699 2674l-16 -11 -26 11 16 11z"/>
<path class="cb" d="M1731 2698l-16 -12 -16 -12 -26 11 16 11 16 11z"/>
<path class="d" d="M1747 2710l-16 -12 -26 9 16 12z"/>
<path class="db" d="M1779 2734l-16 -12 -16 -12 -26 9 16 12 16 11z"/>
<path class="c" d="M1827 2768l-16 -11 -16 -11 -16 -12 -26 8 16 11 16 11 16 10z"/>
<path class="b" d="M1907 2814l-16 -8 -16 -9 -16 -9 -16 -10 -16 -10 -26 6 16 10 16 10 16 9 16 8 16 8z"/>
<path class="a" d="M1987 2849l-16 -7 -16 -6 -16 -7 -16 -7 -16 -8 -26 5 16 8 16 7 16 7 16 7 16 6z"/>
<path class="a" d="M1337 2631l-16 -3 -16 -3 -16 -4 -16 -5 -27 6 16 4 16 4 16 4 16 3z"/>
<path class="b" d="M1417 2635l-16 1 -16 0 -16 -1 -16 -2 -16 -2 -27 6 16 3 16 2 16 1 16 0 16 0z"/>
<path class="c" d="M1449 2632l-16 2 -16 1 -27 8 16 -1 16 -1z"/>
<path class="db" d="M1465 2630l-16 2 -27 9 16 -2z"/>
<path class="d" d="M1497 2626l-16 1 -16 3 -27 9 16 -2 16 -1z"/>
<path class="cb" d="M1513 2625l-16 1 -27 10 16 0z"/>
<path class="e" d="M1529 2625l-16 0 -27 11 16 0z"/>
<path class="rb" d="M1545 2626l-16 -1 -27 11 16 2z"/>
<path class="bb" d="M1609 2647l-16 -8 -16 -6 -16 -4 -16 -3 -27 12 16 3 16 4 16 6 16 8z"/>
<path class="rb" d="M1641 2664l-16 -9 -16 -8 -27 12 16 7 16 9z"/>
<path class="e" d="M1657 2674l-16 -10 -27 11 16 10z"/>
<path class="cb" d="M1689 2696l-16 -11 -16 -11 -27 11 16 10 16 11z"/>
<path class="d" d="M1721 2719l-16 -12 -16 -11 -27 10 16 11 16 11z"/>
<path class="db" d="M1737 2731l-16 -12 -27 9 16 11z"/>
<path class="c" d="M1785 2764l-16 -11 -16 -11 -16 -11 -27 8 16 11 16 10 16 11z"/>
<path class="b" d="M1881 2819l-16 -8 -16 -8 -16 -9 -16 -10 -16 -10 -16 -10 -27 7 16 10 16 10 16 9 16 8 16 9 16 8z"/>
<path class="a" d="M1961 2854l-16 -6 -16 -7 -16 -7 -16 -7 -16 -8 -27 6 16 7 16 7 16 7 16 7 16 6z"/>
<path class="a" d="M1326 2640l-16 -3 -16 -3 -16 -4 -16 -4 -16 -4 -26 5 16 5 16 4 16 4 16 3 16 3z"/>
<path class="b" d="M1390 2643l-16 0 -16 0 -16 -1 -16 -2 -26 6 16 2 16 1 16 1 16 0z"/>
<path class="c" d="M1422 2641l-16 1 -16 1 -26 7 16 0 16 -1z"/>
<path class="db" d="M1454 2637l-16 2 -16 2 -26 8 16 -1 16 -1z"/>
<path class="d" d="M1470 2636l-16 1 -26 10 16 -1z"/>
<path class="cb" d="M1502 2636l-16 0 -16 0 -26 10 16 0 16 1z"/>
<path class="e" d="M1614 2675l-16 -9 -16 -7 -16 -8 -16 -6 -16 -4 -16 -3 -16 -2 -26 11 16 2 16 3 16 5 16 6 16 7 16 8 16 8z"/>
<path class="cb" d="M1646 2695l-16 -10 -16 -10 -26 11 16 9 16 10z"/>
<path class="d" d="M1678 2717l-16 -11 -16 -11 -26 10 16 10 16 11z"/>
<path class="db" d="M1710 2739l-16 -11 -16 -11 -26 9 16 10 16 11z"/>
<path class="c" d="M1758 2771l-16 -11 -16 -10 -16 -11 -26 8 16 10 16 11 16 10z"/>
<path class="b" d="M1854 2825l-16 -8 -16 -9 -16 -8 -16 -9 -16 -10 -16 -10 -26 7 16 9 16 10 16 9 16 8 16 8 16 8z"/>
<path class="a" d="M1934 2859l-16 -6 -16 -7 -16 -7 -16 -7 -16 -7 -26 5 16 8 16 7 16 6 16 7 16 6z"/>
<path class="a" d="M1300 2646l-16 -3 -16 -3 -16 -4 -16 -4 -16 -5 -27 5 16 5 16 4 16 4 16 4 16 3z"/>
<path class="b" d="M1364 2650l-16 0 -16 -1 -16 -1 -16 -2 -27 6 16 2 16 2 16 1 16 1z"/>
<path class="c" d="M1412 2648l-16 1 -16 1 -16 0 -27 8 16 0 16 0 16 -1z"/>
<path class="db" d="M1428 2647l-16 1 -27 9 16 -1z"/>
<path class="d" d="M1460 2646l-16 0 -16 1 -27 9 16 0 16 1z"/>
<path class="cb" d="M1604 2695l-16 -9 -16 -8 -16 -8 -16 -7 -16 -6 -16 -5 -16 -3 -16 -2 -16 -1 -27 11 16 1 16 2 16 3 16 5 16 6 16 7 16 7 16 9 16 8z"/>
<path class="d" d="M1636 2715l-16 -10 -16 -10 -27 10 16 10 16 9z"/>
<path class="db" d="M1668 2736l-16 -10 -16 -11 -27 9 16 10 16 10z"/>
<path class="c" d="M1732 2778l-16 -10 -16 -11 -16 -10 -16 -11 -27 8 16 11 16 10 16 10 16 9z"/>
<path class="b" d="M1828 2830l-16 -8 -16 -8 -16 -8 -16 -9 -16 -10 -16 -9 -27 6 16 10 16 9 16 9 16 8 16 8 16 8z"/>
<path class="a" d="M1908 2864l-16 -6 -16 -7 -16 -6 -16 -7 -16 -8 -27 6 16 7 16 7 16 7 16 6 16 7z"/>
<path class="a" d="M1273 2652l-16 -3 -16 -4 -16 -4 -16 -4 -26 5 16 5 16 4 16 4 16 3z"/>
<path class="b" d="M1353 2658l-16 0 -16 -1 -16 -1 -16 -2 -16 -2 -26 6 16 3 16 2 16 1 16 1 16 1z"/>
<path class="c" d="M1385 2657l-16 1 -16 0 -26 8 16 0 16 0z"/>
<path class="ac" d="M1401 2656l-16 1 -26 9 16 -1z"/>
<path class="db" d="M1417 2656l-16 0 -26 9 16 1z"/>
<path class="d" d="M1465 2660l-16 -2 -16 -1 -16 -1 -26 10 16 0 16 2 16 2z"/>
<path class="cb" d="M1545 2688l-16 -7 -16 -7 -16 -6 -16 -5 -16 -3 -26 10 16 4 16 5 16 6 16 6 16 8z"/>
<path class="d" d="M1593 2715l-16 -10 -16 -8 -16 -9 -26 11 16 8 16 8 16 9z"/>
<path class="db" d="M1625 2734l-16 -10 -16 -9 -26 9 16 9 16 10z"/>
<path class="ac" d="M1641 2744l-16 -10 -26 9 16 10z"/>
<path class="c" d="M1689 2775l-16 -10 -16 -10 -16 -11 -26 9 16 9 16 10 16 10z"/>
<path class="b" d="M1785 2828l-16 -8 -16 -8 -16 -9 -16 -9 -16 -10 -16 -9 -26 7 16 9 16 9 16 9 16 8 16 9 16 7z"/>
<path class="a" d="M1881 2870l-16 -7 -16 -6 -16 -7 -16 -7 -16 -7 -16 -8 -26 5 16 8 16 7 16 7 16 7 16 6 16 7z"/>
<path class="a" d="M1247 2658l-16 -3 -16 -4 -16 -4 -16 -5 -27 6 16 4 16 5 16 3 16 4z"/>
<path class="b" d="M1327 2666l-16 -1 -16 -1 -16 -1 -16 -2 -16 -3 -27 6 16 3 16 2 16 2 16 1 16 1z"/>
<path class="c" d="M1375 2665l-16 1 -16 0 -16 0 -27 7 16 0 16 1 16 0z"/>
<path class="db" d="M1407 2666l-16 0 -16 -1 -27 9 16 1 16 1z"/>
<path class="d" d="M1551 2715l-16 -8 -16 -8 -16 -8 -16 -6 -16 -6 -16 -5 -16 -4 -16 -2 -16 -2 -27 10 16 2 16 2 16 4 16 5 16 6 16 6 16 8 16 7 16 8z"/>
<path class="db" d="M1599 2743l-16 -10 -16 -9 -16 -9 -27 9 16 9 16 9 16 9z"/>
<path class="c" d="M1663 2782l-16 -10 -16 -10 -16 -9 -16 -10 -27 8 16 10 16 9 16 9 16 9z"/>
<path class="b" d="M1759 2833l-16 -7 -16 -9 -16 -8 -16 -9 -16 -9 -16 -9 -27 6 16 10 16 8 16 9 16 8 16 8 16 8z"/>
<path class="a" d="M1855 2875l-16 -7 -16 -6 -16 -7 -16 -7 -16 -7 -16 -8 -27 6 16 7 16 8 16 7 16 6 16 7 16 6z"/>
<path class="a" d="M1236 2667l-16 -3 -16 -4 -16 -3 -16 -5 -16 -4 -26 5 16 5 16 4 16 4 16 4 16 3z"/>
<path class="b" d="M1316 2673l-16 0 -16 -1 -16 -1 -16 -2 -16 -2 -26 6 16 2 16 2 16 2 16 1 16 1z"/>
<path class="c" d="M1364 2675l-16 -1 -16 0 -16 -1 -26 8 16 1 16 1 16 1z"/>
<path class="db" d="M1396 2678l-16 -2 -16 -1 -26 9 16 1 16 2z"/>
<path class="d" d="M1508 2716l-16 -7 -16 -8 -16 -6 -16 -6 -16 -5 -16 -4 -16 -2 -26 9 16 3 16 4 16 5 16 6 16 6 16 7 16 8z"/>
<path class="db" d="M1556 2742l-16 -9 -16 -9 -16 -8 -26 10 16 8 16 8 16 8z"/>
<path class="c" d="M1620 2779l-16 -9 -16 -9 -16 -10 -16 -9 -26 8 16 9 16 9 16 9 16 9z"/>
<path class="b" d="M1732 2839l-16 -8 -16 -8 -16 -8 -16 -9 -16 -8 -16 -10 -16 -9 -26 7 16 9 16 9 16 9 16 8 16 8 16 8 16 8z"/>
<path class="a" d="M1828 2880l-16 -6 -16 -7 -16 -6 -16 -7 -16 -8 -16 -7 -26 6 16 7 16 7 16 7 16 6 16 7 16 6z"/>
<path class="a" d="M1210 2673l-16 -3 -16 -4 -16 -4 -16 -4 -16 -5 -27 6 16 4 16 5 16 4 16 3 16 4z"/>
<path class="b" d="M1290 2681l-16 -1 -16 -1 -16 -2 -16 -2 -16 -2 -27 6 16 3 16 2 16 2 16 1 16 2z"/>
<path class="c" d="M1354 2685l-16 -1 -16 -1 -16 -1 -16 -1 -27 8 16 1 16 1 16 1 16 2z"/>
<path class="db" d="M1514 2742l-16 -8 -16 -8 -16 -8 -16 -7 -16 -6 -16 -6 -16 -5 -16 -4 -16 -3 -16 -2 -27 9 16 2 16 3 16 4 16 5 16 6 16 7 16 6 16 8 16 7 16 8z"/>
<path class="c" d="M1594 2786l-16 -9 -16 -9 -16 -9 -16 -9 -16 -8 -27 8 16 9 16 8 16 9 16 9 16 8z"/>
<path class="b" d="M1706 2845l-16 -8 -16 -8 -16 -8 -16 -8 -16 -9 -16 -9 -16 -9 -27 7 16 9 16 9 16 8 16 8 16 8 16 8 16 7z"/>
<path class="a" d="M1802 2885l-16 -6 -16 -7 -16 -6 -16 -7 -16 -7 -16 -7 -27 5 16 7 16 7 16 7 16 7 16 6 16 6z"/>
<path class="a" d="M1183 2679l-16 -4 -16 -3 -16 -4 -16 -5 -26 6 16 4 16 4 16 4 16 4z"/>
<path class="b" d="M1279 2690l-16 -1 -16 -2 -16 -1 -16 -2 -16 -2 -16 -3 -26 6 16 3 16 2 16 3 16 1 16 2 16 1z"/>
<path class="c" d="M1343 2696l-16 -2 -16 -2 -16 -1 -16 -1 -26 7 16 2 16 1 16 3 16 2z"/>
<path class="db" d="M1455 2735l-16 -8 -16 -6 -16 -7 -16 -6 -16 -5 -16 -4 -16 -3 -26 9 16 3 16 4 16 6 16 5 16 7 16 6 16 7z"/>
<path class="ac" d="M1471 2742l-16 -7 -26 8 16 8z"/>
<path class="c" d="M1551 2785l-16 -9 -16 -9 -16 -8 -16 -9 -16 -8 -26 9 16 8 16 8 16 8 16 8 16 9z"/>
<path class="b" d="M1679 2850l-16 -7 -16 -8 -16 -8 -16 -8 -16 -8 -16 -9 -16 -9 -16 -8 -26 7 16 8 16 9 16 8 16 8 16 8 16 8 16 7 16 8z"/>
<path class="a" d="M1775 2890l-16 -6 -16 -6 -16 -7 -16 -7 -16 -7 -16 -7 -26 6 16 7 16 7 16 7 16 6 16 6 16 7z"/>
<path class="a" d="M1173 2688l-16 -3 -16 -4 -16 -4 -16 -4 -16 -4 -27 5 16 5 16 4 16 4 16 4 16 3z"/>
<path class="b" d="M1253 2697l-16 -1 -16 -2 -16 -1 -16 -3 -16 -2 -27 6 16 3 16 2 16 2 16 2 16 2z"/>
<path class="c" d="M1333 2708l-16 -3 -16 -2 -16 -3 -16 -1 -16 -2 -27 8 16 2 16 2 16 2 16 3 16 3z"/>
<path class="ac" d="M1349 2712l-16 -4 -27 9 16 4z"/>
<path class="db" d="M1397 2730l-16 -7 -16 -5 -16 -6 -27 9 16 5 16 6 16 6z"/>
<path class="c" d="M1509 2783l-16 -8 -16 -8 -16 -8 -16 -8 -16 -8 -16 -7 -16 -6 -27 8 16 7 16 7 16 7 16 8 16 8 16 8 16 8z"/>
<path class="b" d="M1653 2856l-16 -8 -16 -7 -16 -8 -16 -8 -16 -8 -16 -8 -16 -9 -16 -8 -16 -9 -27 8 16 8 16 8 16 8 16 8 16 8 16 8 16 8 16 7 16 7z"/>
<path class="a" d="M1749 2896l-16 -7 -16 -6 -16 -6 -16 -7 -16 -7 -16 -7 -27 5 16 7 16 7 16 7 16 6 16 7 16 6z"/>
<path class="a" d="M1146 2694l-16 -3 -16 -4 -16 -4 -16 -4 -16 -5 -26 6 16 4 16 5 16 4 16 3 16 4z"/>
<path class="b" d="M1242 2707l-16 -2 -16 -2 -16 -2 -16 -2 -16 -2 -16 -3 -26 6 16 3 16 3 16 2 16 2 16 2 16 2z"/>
<path class="c" d="M1482 2791l-16 -8 -16 -8 -16 -8 -16 -8 -16 -7 -16 -7 -16 -7 -16 -6 -16 -6 -16 -5 -16 -4 -16 -3 -16 -3 -16 -2 -16 -2 -26 7 16 2 16 3 16 3 16 4 16 4 16 5 16 6 16 6 16 6 16 7 16 7 16 8 16 7 16 8 16 8z"/>
<path class="b" d="M1610 2854l-16 -7 -16 -8 -16 -8 -16 -8 -16 -8 -16 -8 -16 -8 -16 -8 -26 7 16 8 16 8 16 8 16 8 16 7 16 8 16 8 16 7z"/>
<path class="a" d="M1722 2901l-16 -6 -16 -7 -16 -6 -16 -7 -16 -7 -16 -7 -16 -7 -26 6 16 7 16 7 16 7 16 6 16 7 16 6 16 6z"/>
<path class="a" d="M1120 2700l-16 -4 -16 -3 -16 -4 -16 -5 -16 -4 -26 5 16 5 16 4 16 4 16 4 16 4z"/>
<path class="b" d="M1232 2716l-16 -2 -16 -2 -16 -2 -16 -2 -16 -2 -16 -3 -16 -3 -26 6 16 3 16 3 16 3 16 2 16 2 16 3 16 2z"/>
<path class="c" d="M1440 2790l-16 -8 -16 -7 -16 -8 -16 -7 -16 -7 -16 -6 -16 -6 -16 -6 -16 -5 -16 -4 -16 -4 -16 -3 -16 -3 -26 8 16 3 16 3 16 4 16 4 16 5 16 6 16 6 16 7 16 6 16 7 16 7 16 8 16 7z"/>
<path class="b" d="M1584 2860l-16 -7 -16 -8 -16 -8 -16 -7 -16 -8 -16 -8 -16 -8 -16 -8 -16 -8 -26 7 16 8 16 8 16 8 16 7 16 8 16 8 16 7 16 7 16 8z"/>
<path class="a" d="M1696 2906l-16 -6 -16 -6 -16 -7 -16 -6 -16 -7 -16 -7 -16 -7 -26 6 16 7 16 6 16 7 16 7 16 6 16 6 16 6z"/>
<path class="a" d="M1110 2709l-16 -3 -16 -4 -16 -4 -16 -4 -16 -4 -27 5 16 5 16 4 16 4 16 4 16 3z"/>
<path class="b" d="M1222 2727l-16 -3 -16 -2 -16 -3 -16 -2 -16 -2 -16 -3 -16 -3 -27 6 16 3 16 3 16 3 16 2 16 3 16 3 16 3z"/>
<path class="c" d="M1398 2790l-16 -8 -16 -7 -16 -7 -16 -6 -16 -7 -16 -6 -16 -6 -16 -5 -16 -4 -16 -4 -16 -3 -27 8 16 3 16 4 16 4 16 5 16 6 16 6 16 6 16 7 16 7 16 7 16 7z"/>
<path class="b" d="M1558 2866l-16 -8 -16 -7 -16 -7 -16 -8 -16 -8 -16 -7 -16 -8 -16 -8 -16 -8 -16 -7 -27 7 16 8 16 7 16 8 16 7 16 8 16 7 16 8 16 7 16 7 16 7z"/>
<path class="a" d="M1670 2911l-16 -6 -16 -6 -16 -6 -16 -7 -16 -7 -16 -6 -16 -7 -27 5 16 7 16 7 16 7 16 6 16 6 16 7 16 6z"/>
<path class="a" d="M1083 2715l-16 -3 -16 -4 -16 -4 -16 -4 -16 -5 -26 6 16 4 16 5 16 4 16 4 16 3z"/>
<path class="b" d="M1211 2738l-16 -3 -16 -3 -16 -3 -16 -3 -16 -2 -16 -3 -16 -3 -16 -3 -26 6 16 3 16 3 16 3 16 3 16 3 16 3 16 3 16 4z"/>
<path class="c" d="M1339 2783l-16 -7 -16 -7 -16 -6 -16 -6 -16 -6 -16 -5 -16 -4 -16 -4 -26 8 16 4 16 4 16 5 16 6 16 6 16 6 16 7 16 6z"/>
<path class="b" d="M1515 2864l-16 -7 -16 -7 -16 -8 -16 -7 -16 -8 -16 -7 -16 -8 -16 -7 -16 -8 -16 -7 -16 -7 -26 7 16 7 16 7 16 8 16 7 16 7 16 8 16 7 16 7 16 8 16 7 16 7z"/>
<path class="a" d="M1643 2917l-16 -6 -16 -7 -16 -6 -16 -6 -16 -7 -16 -7 -16 -7 -16 -7 -26 6 16 7 16 7 16 6 16 7 16 6 16 7 16 6 16 6z"/>
<path class="a" d="M1057 2721l-16 -3 -16 -4 -16 -4 -16 -5 -16 -4 -27 5 16 5 16 4 16 4 16 4 16 4z"/>
<path class="b" d="M1201 2750l-16 -4 -16 -4 -16 -3 -16 -3 -16 -3 -16 -3 -16 -3 -16 -3 -16 -3 -27 6 16 4 16 3 16 3 16 3 16 3 16 3 16 3 16 4 16 4z"/>
<path class="c" d="M1281 2777l-16 -6 -16 -6 -16 -6 -16 -5 -16 -4 -27 7 16 5 16 5 16 6 16 6 16 6z"/>
<path class="b" d="M1489 2870l-16 -7 -16 -7 -16 -8 -16 -7 -16 -7 -16 -8 -16 -7 -16 -7 -16 -8 -16 -7 -16 -7 -16 -6 -16 -7 -27 8 16 6 16 7 16 7 16 7 16 7 16 7 16 7 16 7 16 7 16 8 16 7 16 7 16 7z"/>
<path class="a" d="M1617 2922l-16 -6 -16 -6 -16 -7 -16 -6 -16 -7 -16 -6 -16 -7 -16 -7 -27 6 16 7 16 6 16 7 16 6 16 7 16 6 16 6 16 6z"/>
<path class="a" d="M1046 2731l-16 -4 -16 -4 -16 -4 -16 -4 -16 -4 -16 -5 -26 5 16 5 16 5 16 4 16 4 16 4 16 4z"/>
<path class="b" d="M1462 2876l-16 -7 -16 -7 -16 -7 -16 -8 -16 -7 -16 -7 -16 -7 -16 -7 -16 -7 -16 -7 -16 -7 -16 -7 -16 -6 -16 -6 -16 -6 -16 -6 -16 -5 -16 -5 -16 -4 -16 -4 -16 -3 -16 -3 -16 -3 -16 -3 -16 -3 -16 -3 -26 6 16 3 16 3 16 3 16 4 16 3 16 3 16 4 16 5 16 4 16 6 16 5 16 6 16 6 16 7 16 6 16 7 16 7 16 6 16 7 16 7 16 8 16 7 16 7 16 7 16 7 16 6z"/>
<path class="a" d="M1574 2921l-16 -6 -16 -6 -16 -7 -16 -6 -16 -7 -16 -6 -16 -7 -26 5 16 7 16 7 16 6 16 7 16 6 16 6 16 7z"/>
<path class="a" d="M1020 2737l-16 -4 -16 -4 -16 -4 -16 -4 -16 -5 -27 6 16 4 16 5 16 4 16 4 16 4z"/>
<path class="b" d="M1420 2875l-16 -7 -16 -7 -16 -7 -16 -7 -16 -8 -16 -7 -16 -7 -16 -6 -16 -7 -16 -7 -16 -6 -16 -7 -16 -6 -16 -6 -16 -5 -16 -6 -16 -4 -16 -5 -16 -4 -16 -3 -16 -3 -16 -4 -16 -3 -16 -3 -16 -3 -27 6 16 3 16 4 16 3 16 3 16 4 16 4 16 3 16 5 16 5 16 5 16 6 16 5 16 6 16 7 16 6 16 7 16 6 16 7 16 7 16 7 16 7 16 7 16 7 16 7 16 6z"/>
<path class="a" d="M1548 2927l-16 -7 -16 -6 -16 -6 -16 -7 -16 -6 -16 -7 -16 -7 -16 -6 -27 5 16 7 16 7 16 6 16 7 16 6 16 7 16 6 16 6z"/>
<path class="a" d="M993 2743l-16 -4 -16 -4 -16 -4 -16 -5 -16 -4 -26 5 16 5 16 4 16 5 16 4 16 4z"/>
<path class="b" d="M1393 2880l-16 -6 -16 -7 -16 -7 -16 -7 -16 -7 -16 -7 -16 -7 -16 -7 -16 -6 -16 -7 -16 -6 -16 -7 -16 -6 -16 -5 -16 -6 -16 -5 -16 -5 -16 -5 -16 -3 -16 -4 -16 -4 -16 -3 -16 -3 -16 -4 -16 -3 -26 6 16 3 16 4 16 3 16 4 16 4 16 3 16 4 16 5 16 5 16 5 16 6 16 5 16 6 16 7 16 6 16 6 16 7 16 7 16 6 16 7 16 7 16 7 16 7 16 6 16 7z"/>
<path class="a" d="M1521 2932l-16 -6 -16 -6 -16 -7 -16 -6 -16 -7 -16 -6 -16 -7 -16 -7 -26 6 16 7 16 6 16 7 16 6 16 7 16 6 16 6 16 6z"/>
<path class="a" d="M983 2752l-16 -3 -16 -4 -16 -4 -16 -5 -16 -4 -16 -5 -27 5 16 5 16 5 16 4 16 4 16 4 16 4z"/>
<path class="b" d="M1351 2879l-16 -6 -16 -7 -16 -7 -16 -7 -16 -7 -16 -6 -16 -7 -16 -7 -16 -6 -16 -6 -16 -7 -16 -6 -16 -5 -16 -6 -16 -5 -16 -5 -16 -5 -16 -4 -16 -3 -16 -4 -16 -4 -16 -3 -16 -4 -27 6 16 4 16 4 16 3 16 4 16 4 16 4 16 5 16 5 16 5 16 6 16 5 16 6 16 7 16 6 16 6 16 7 16 6 16 7 16 7 16 6 16 7 16 7 16 6z"/>
<path class="a" d="M1495 2937l-16 -6 -16 -6 -16 -6 -16 -7 -16 -6 -16 -7 -16 -6 -16 -7 -16 -7 -27 6 16 7 16 7 16 6 16 6 16 7 16 6 16 6 16 6 16 6z"/>
<path class="a" d="M956 2758l-16 -4 -16 -4 -16 -4 -16 -4 -16 -5 -16 -5 -26 6 16 5 16 4 16 5 16 4 16 4 16 4z"/>
<path class="b" d="M1324 2885l-16 -6 -16 -7 -16 -7 -16 -6 -16 -7 -16 -7 -16 -6 -16 -7 -16 -6 -16 -6 -16 -7 -16 -6 -16 -5 -16 -6 -16 -5 -16 -5 -16 -5 -16 -4 -16 -4 -16 -4 -16 -3 -16 -4 -16 -4 -26 6 16 4 16 4 16 4 16 4 16 4 16 4 16 5 16 5 16 5 16 6 16 5 16 6 16 6 16 6 16 7 16 6 16 7 16 6 16 7 16 6 16 7 16 7 16 6z"/>
<path class="a" d="M1468 2942l-16 -6 -16 -6 -16 -6 -16 -6 -16 -7 -16 -6 -16 -6 -16 -7 -16 -7 -26 6 16 7 16 6 16 7 16 6 16 6 16 6 16 7 16 6 16 6z"/>
<path class="a" d="M946 2768l-16 -4 -16 -4 -16 -4 -16 -4 -16 -5 -16 -4 -27 5 16 5 16 4 16 5 16 4 16 4 16 4z"/>
<path class="b" d="M1282 2885l-16 -7 -16 -7 -16 -6 -16 -7 -16 -6 -16 -7 -16 -6 -16 -7 -16 -6 -16 -6 -16 -6 -16 -5 -16 -6 -16 -5 -16 -5 -16 -5 -16 -4 -16 -4 -16 -4 -16 -4 -16 -4 -27 6 16 4 16 4 16 4 16 4 16 5 16 4 16 5 16 6 16 5 16 6 16 6 16 6 16 6 16 6 16 7 16 6 16 6 16 7 16 6 16 7 16 6z"/>
<path class="a" d="M1442 2948l-16 -6 -16 -6 -16 -7 -16 -6 -16 -6 -16 -6 -16 -7 -16 -6 -16 -7 -16 -6 -27 5 16 7 16 6 16 7 16 6 16 6 16 7 16 6 16 6 16 6 16 6z"/>
<path class="a" d="M919 2774l-16 -4 -16 -4 -16 -4 -16 -5 -16 -4 -16 -5 -26 6 16 4 16 5 16 4 16 5 16 4 16 4z"/>
<path class="b" d="M1239 2884l-16 -7 -16 -6 -16 -7 -16 -6 -16 -6 -16 -7 -16 -6 -16 -6 -16 -6 -16 -6 -16 -6 -16 -5 -16 -6 -16 -5 -16 -4 -16 -5 -16 -4 -16 -4 -16 -4 -16 -4 -26 6 16 4 16 4 16 4 16 5 16 4 16 5 16 5 16 5 16 6 16 6 16 6 16 5 16 7 16 6 16 6 16 6 16 7 16 6 16 6 16 7z"/>
<path class="a" d="M1399 2947l-16 -6 -16 -6 -16 -6 -16 -7 -16 -6 -16 -6 -16 -7 -16 -6 -16 -7 -16 -6 -26 6 16 6 16 7 16 6 16 6 16 7 16 6 16 6 16 6 16 6 16 6z"/>
<path class="a" d="M909 2784l-16 -4 -16 -4 -16 -4 -16 -5 -16 -4 -16 -5 -16 -4 -27 5 16 5 16 5 16 4 16 5 16 4 16 4 16 4z"/>
<path class="b" d="M1213 2890l-16 -7 -16 -6 -16 -6 -16 -7 -16 -6 -16 -6 -16 -6 -16 -7 -16 -5 -16 -6 -16 -6 -16 -6 -16 -5 -16 -5 -16 -5 -16 -4 -16 -5 -16 -4 -16 -4 -27 6 16 4 16 5 16 4 16 5 16 4 16 6 16 5 16 5 16 6 16 6 16 6 16 6 16 6 16 6 16 6 16 7 16 6 16 6 16 7z"/>
<path class="a" d="M1373 2952l-16 -6 -16 -6 -16 -6 -16 -6 -16 -6 -16 -7 -16 -6 -16 -6 -16 -7 -16 -6 -27 6 16 6 16 6 16 7 16 6 16 6 16 6 16 7 16 6 16 6 16 6z"/>
<path class="a" d="M882 2790l-16 -4 -16 -4 -16 -4 -16 -5 -16 -4 -16 -5 -26 5 16 5 16 5 16 4 16 5 16 4 16 4z"/>
<path class="b" d="M1170 2889l-16 -6 -16 -6 -16 -7 -16 -6 -16 -6 -16 -6 -16 -6 -16 -6 -16 -6 -16 -6 -16 -5 -16 -5 -16 -6 -16 -4 -16 -5 -16 -4 -16 -5 -16 -4 -26 6 16 5 16 4 16 4 16 5 16 5 16 5 16 5 16 6 16 6 16 5 16 6 16 6 16 6 16 6 16 7 16 6 16 6 16 6z"/>
<path class="a" d="M1346 2958l-16 -6 -16 -6 -16 -6 -16 -7 -16 -6 -16 -6 -16 -6 -16 -7 -16 -6 -16 -6 -16 -7 -26 6 16 7 16 6 16 6 16 6 16 7 16 6 16 6 16 6 16 6 16 6 16 6z"/>
</g>
<path d="M52.3 268.9V195.4" stroke="#9a9a9a" stroke-width="1" fill="none"/>
<path d="M52.3 268.9h-3" stroke="#9a9a9a" stroke-width="1" fill="none"/>
<path d="M52.3 244.4h-3" stroke="#9a9a9a" stroke-width="1" fill="none"/>
<path d="M52.3 219.9h-3" stroke="#9a9a9a" stroke-width="1" fill="none"/>
<path d="M52.3 195.4h-3" stroke="#9a9a9a" stroke-width="1" fill="none"/>
<g transform="translate(4.70,193.05) scale(0.93,1)"><text font-size="15.8" font-weight="bold" fill="#111" stroke="#111">C</text></g>
<g transform="translate(16.00,259.90) rotate(-90) translate(-1.99,3.39) scale(1.15,1)"><text font-size="10.5" font-weight="bold" fill="#1a1a1a" stroke="#1a1a1a">t</text></g>
<g transform="translate(20.40,254.10) rotate(-90) translate(-4.26,2.50) scale(0.95,1)"><text font-size="7" font-weight="bold" fill="#1a1a1a" stroke="#1a1a1a">int</text></g>
<g transform="translate(16.90,227.40) rotate(-90) translate(-16.45,2.70) scale(1.15,1)"><text font-size="10.5" font-weight="bold" fill="#1a1a1a" stroke="#1a1a1a">(MPa)</text></g>
<g transform="translate(83.20,309.85) rotate(19) translate(-53.85,2.99) scale(0.985,1)"><text font-size="11.6" font-weight="bold" fill="#1a1a1a" stroke="#1a1a1a">Ply Angle (Degrees)</text></g>
<g transform="translate(235.30,319.40) rotate(-10) translate(-4.36,4.55) scale(0.95,1)"><text font-size="13.2" font-weight="bold" fill="#1a1a1a" stroke="#1a1a1a">E</text></g>
<g transform="translate(245.80,322.60) rotate(-10) translate(-5.25,2.97) scale(1.12,1)"><text font-size="8.6" font-weight="bold" fill="#1a1a1a" stroke="#1a1a1a">11</text><path d="M0.23 -1.38H1.88V1.2H0.23ZM3.31 -1.38H4.86V1.2H3.31Z" fill="#fff"/><path d="M5.01 -1.38H6.67V1.2H5.01ZM8.10 -1.38H9.64V1.2H8.10Z" fill="#fff"/></g>
<g transform="translate(29.89,197.76) scale(1.02,1)"><text font-size="11.5" fill="#2e2e2e" stroke="#2e2e2e">1.5</text><path d="M0.53 -1.36H2.75V1.2H0.53ZM4.05 -1.36H6.18V1.2H4.05Z" fill="#fff"/></g>
<g transform="translate(40.52,223.12) scale(1.02,1)"><text font-size="11.5" fill="#2e2e2e" stroke="#2e2e2e">1</text><path d="M0.53 -1.36H2.75V1.2H0.53ZM4.05 -1.36H6.18V1.2H4.05Z" fill="#fff"/></g>
<g transform="translate(31.15,246.77) scale(1.02,1)"><text font-size="11.5" fill="#2e2e2e" stroke="#2e2e2e">0.5</text></g>
<g transform="translate(42.22,269.82) scale(1.02,1)"><text font-size="11.5" fill="#2e2e2e" stroke="#2e2e2e">0</text></g>
<g transform="translate(38.03,280.22) scale(1.02,1)"><text font-size="11.5" fill="#2e2e2e" stroke="#2e2e2e">90</text></g>
<g transform="translate(68.15,290.92) scale(1.02,1)"><text font-size="11.5" fill="#2e2e2e" stroke="#2e2e2e">60</text></g>
<g transform="translate(100.36,302.52) scale(1.02,1)"><text font-size="11.5" fill="#2e2e2e" stroke="#2e2e2e">30</text></g>
<g transform="translate(138.67,312.87) scale(1.02,1)"><text font-size="11.5" fill="#2e2e2e" stroke="#2e2e2e">0</text></g>
<g transform="translate(151.97,313.62) scale(1.02,1)"><text font-size="11.5" fill="#2e2e2e" stroke="#2e2e2e">0</text></g>
<g transform="translate(184.99,306.97) scale(1.02,1)"><text font-size="11.5" fill="#2e2e2e" stroke="#2e2e2e">0.025</text></g>
<g transform="translate(217.99,299.62) scale(1.02,1)"><text font-size="11.5" fill="#2e2e2e" stroke="#2e2e2e">0.05</text></g>
<g transform="translate(247.89,294.92) scale(1.02,1)"><text font-size="11.5" fill="#2e2e2e" stroke="#2e2e2e">0.075</text></g>
<g transform="translate(278.83,286.87) scale(1.02,1)"><text font-size="11.5" fill="#2e2e2e" stroke="#2e2e2e">0.1</text><path d="M10.12 -1.36H12.35V1.2H10.12ZM13.64 -1.36H15.77V1.2H13.64Z" fill="#fff"/></g>
<g transform="translate(316.89,192.97)"><text font-size="16" font-weight="bold" fill="#111" stroke="#111">D</text></g>
<path d="M371.6 302.2 L372.9 302.2 L374.2 302.2 L375.5 302.2 L376.8 302.2 L378.1 302.2 L379.3 302.2 L380.6 302.2 L381.9 302.2 L383.2 302.2 L384.5 302.2 L385.8 302.2 L387.1 302.2 L388.4 302.2 L389.7 302.1 L391.0 302.1 L392.3 302.1 L393.5 302.1 L394.8 302.1 L396.1 302.1 L397.4 302.0 L398.7 302.0 L400.0 302.0 L401.3 301.9 L402.6 301.9 L403.9 301.9 L405.2 301.8 L406.5 301.7 L407.8 301.6 L409.0 301.6 L410.3 301.5 L411.6 301.3 L412.9 301.2 L414.2 301.1 L415.5 300.9 L416.8 300.7 L418.1 300.5 L419.4 300.2 L420.7 300.0 L422.0 299.7 L423.2 299.3 L424.5 298.9 L425.8 298.5 L427.1 298.0 L428.4 297.5 L429.7 296.9 L431.0 296.3 L432.3 295.6 L433.6 294.8 L434.9 293.9 L436.2 293.0 L437.4 292.0 L438.7 290.9 L440.0 289.7 L441.3 288.5 L442.6 287.7 L443.9 286.9 L445.2 286.1 L446.5 285.2 L447.8 284.3 L449.1 283.4 L450.4 282.5 L451.6 281.6 L452.9 280.6 L454.2 279.6 L455.5 278.6 L456.8 277.6 L458.1 276.5 L459.4 275.5 L460.7 274.5 L462.0 273.4 L463.3 272.3 L464.6 271.3 L465.9 270.2 L467.1 269.2 L468.4 268.2 L469.7 267.2 L471.0 266.2 L472.3 265.2 L473.6 264.2 L474.9 263.3 L476.2 262.4 L477.5 261.6 L478.8 260.7 L480.1 260.0 L481.3 259.2 L482.6 258.5 L483.9 257.9 L485.2 257.3 L486.5 256.8 L487.8 256.4 L489.1 256.0 L490.4 255.7 L491.7 255.4 L493.0 255.3 L494.3 255.2 L495.5 255.2 L496.8 255.4 L498.1 255.7 L499.4 256.0 L500.7 256.4 L502.0 256.9 L503.3 257.4 L504.6 258.1 L505.9 258.7 L507.2 259.5 L508.5 260.2 L509.7 261.1 L511.0 261.9 L512.3 262.8 L513.6 263.7 L514.9 264.7 L516.2 265.7 L517.5 266.7 L518.8 267.7 L520.1 268.7 L521.4 269.8 L522.7 270.8 L524.0 271.9 L525.2 272.9 L526.5 274.0 L527.8 275.0 L529.1 276.1 L530.4 277.1 L531.7 278.1 L533.0 279.1 L534.3 280.1 L535.6 281.1 L536.9 282.0 L538.2 283.0 L539.4 283.9 L540.7 284.8 L542.0 285.6 L543.3 286.5 L544.6 287.3 L545.9 288.1 L547.2 288.9 L548.5 290.2 L549.8 291.3 L551.1 292.4 L552.4 293.3 L553.6 294.2 L554.9 295.0 L556.2 295.8 L557.5 296.4 L558.8 297.0 L560.1 297.6 L561.4 298.1 L562.7 298.6 L564.0 299.0 L565.3 299.3 L566.6 299.7 L567.8 300.0 L569.1 300.2 L570.4 300.5 L571.7 300.7 L573.0 300.9 L574.3 301.0 L575.6 301.2 L576.9 301.3 L578.2 301.4 L579.5 301.5 L580.8 301.6 L582.1 301.7 L583.3 301.8 L584.6 301.8 L585.9 301.9 L587.2 301.9 L588.5 302.0 L589.8 302.0 L591.1 302.0 L592.4 302.1 L593.7 302.1 L595.0 302.1 L596.3 302.1 L597.5 302.1 L598.8 302.1 L600.1 302.1 L601.4 302.2 L602.7 302.2 L604.0 302.2" fill="none" stroke="#111" stroke-width="1.8" stroke-dasharray="2.3 1.7"/>
<path d="M371.6 302.2 L372.9 302.2 L374.2 302.2 L375.5 302.2 L376.8 302.2 L378.1 302.2 L379.3 302.2 L380.6 302.2 L381.9 302.2 L383.2 302.2 L384.5 302.2 L385.8 302.2 L387.1 302.2 L388.4 302.2 L389.7 302.1 L391.0 302.1 L392.3 302.1 L393.5 302.1 L394.8 302.1 L396.1 302.1 L397.4 302.0 L398.7 302.0 L400.0 302.0 L401.3 301.9 L402.6 301.9 L403.9 301.9 L405.2 301.8 L406.5 301.7 L407.8 301.6 L409.0 301.6 L410.3 301.5 L411.6 301.3 L412.9 301.2 L414.2 301.1 L415.5 300.9 L416.8 300.7 L418.1 300.5 L419.4 300.2 L420.7 300.0 L422.0 299.7 L423.2 299.3 L424.5 298.9 L425.8 298.5 L427.1 298.0 L428.4 297.5 L429.7 297.0 L431.0 296.6 L432.3 296.0 L433.6 295.5 L434.9 294.9 L436.2 294.3 L437.4 293.7 L438.7 293.0 L440.0 292.3 L441.3 291.5 L442.6 290.7 L443.9 289.8 L445.2 288.9 L446.5 288.0 L447.8 287.0 L449.1 286.0 L450.4 284.9 L451.6 283.8 L452.9 282.7 L454.2 281.5 L455.5 280.3 L456.8 279.1 L458.1 277.8 L459.4 276.5 L460.7 275.1 L462.0 273.8 L463.3 272.4 L464.6 271.0 L465.9 269.7 L467.1 268.3 L468.4 266.9 L469.7 265.5 L471.0 264.1 L472.3 262.7 L473.6 261.4 L474.9 260.1 L476.2 258.8 L477.5 257.6 L478.8 256.4 L480.1 255.3 L481.3 254.2 L482.6 253.2 L483.9 252.3 L485.2 251.4 L486.5 250.7 L487.8 250.0 L489.1 249.4 L490.4 249.0 L491.7 248.6 L493.0 248.4 L494.3 248.3 L495.5 248.3 L496.8 248.6 L498.1 248.9 L499.4 249.4 L500.7 250.1 L502.0 250.8 L503.3 251.6 L504.6 252.5 L505.9 253.5 L507.2 254.6 L508.5 255.7 L509.7 256.9 L511.0 258.1 L512.3 259.4 L513.6 260.7 L514.9 262.1 L516.2 263.4 L517.5 264.8 L518.8 266.2 L520.1 267.6 L521.4 269.0 L522.7 270.4 L524.0 271.8 L525.2 273.2 L526.5 274.6 L527.8 275.9 L529.1 277.2 L530.4 278.5 L531.7 279.7 L533.0 281.0 L534.3 282.1 L535.6 283.3 L536.9 284.4 L538.2 285.5 L539.4 286.5 L540.7 287.5 L542.0 288.4 L543.3 289.3 L544.6 290.2 L545.9 291.0 L547.2 291.8 L548.5 292.5 L549.8 293.2 L551.1 293.9 L552.4 294.5 L553.6 295.1 L554.9 295.7 L556.2 296.2 L557.5 296.7 L558.8 297.1 L560.1 297.6 L561.4 298.1 L562.7 298.6 L564.0 299.0 L565.3 299.3 L566.6 299.7 L567.8 300.0 L569.1 300.2 L570.4 300.5 L571.7 300.7 L573.0 300.9 L574.3 301.0 L575.6 301.2 L576.9 301.3 L578.2 301.4 L579.5 301.5 L580.8 301.6 L582.1 301.7 L583.3 301.8 L584.6 301.8 L585.9 301.9 L587.2 301.9 L588.5 302.0 L589.8 302.0 L591.1 302.0 L592.4 302.1 L593.7 302.1 L595.0 302.1 L596.3 302.1 L597.5 302.1 L598.8 302.1 L600.1 302.1 L601.4 302.2 L602.7 302.2 L604.0 302.2" fill="none" stroke="#111" stroke-width="1.7" stroke-dasharray="4.5 2.5"/>
<path d="M371.6 302.2 L372.9 302.2 L374.2 302.2 L375.5 302.2 L376.8 302.2 L378.1 302.2 L379.3 302.2 L380.6 302.2 L381.9 302.2 L383.2 302.2 L384.5 302.2 L385.8 302.2 L387.1 302.2 L388.4 302.2 L389.7 302.1 L391.0 302.1 L392.3 302.1 L393.5 302.1 L394.8 302.1 L396.1 302.1 L397.4 302.0 L398.7 302.0 L400.0 302.0 L401.3 301.9 L402.6 301.9 L403.9 301.9 L405.2 301.8 L406.5 301.7 L407.8 301.6 L409.0 301.6 L410.3 301.5 L411.6 301.3 L412.9 301.2 L414.2 301.1 L415.5 300.9 L416.8 300.7 L418.1 300.5 L419.4 300.2 L420.7 300.0 L422.0 299.7 L423.2 299.3 L424.5 298.9 L425.8 298.5 L427.1 298.0 L428.4 297.5 L429.7 296.9 L431.0 296.3 L432.3 295.6 L433.6 294.8 L434.9 293.9 L436.2 293.0 L437.4 292.0 L438.7 290.9 L440.0 289.7 L441.3 288.4 L442.6 287.0 L443.9 285.5 L445.2 283.9 L446.5 282.2 L447.8 280.3 L449.1 278.4 L450.4 276.3 L451.6 274.1 L452.9 271.8 L454.2 269.3 L455.5 266.7 L456.8 264.1 L458.1 261.3 L459.4 258.3 L460.7 255.3 L462.0 252.2 L463.3 249.0 L464.6 245.7 L465.9 242.4 L467.1 239.0 L468.4 235.5 L469.7 232.0 L471.0 228.5 L472.3 225.0 L473.6 221.6 L474.9 218.1 L476.2 214.8 L477.5 211.5 L478.8 208.3 L480.1 205.2 L481.3 202.3 L482.6 199.5 L483.9 196.9 L485.2 194.6 L486.5 192.4 L487.8 190.5 L489.1 188.9 L490.4 187.6 L491.7 186.5 L493.0 185.9 L494.3 185.6 L495.5 185.7 L496.8 186.4 L498.1 187.5 L499.4 188.9 L500.7 190.7 L502.0 192.7 L503.3 195.0 L504.6 197.6 L505.9 200.3 L507.2 203.2 L508.5 206.3 L509.7 209.5 L511.0 212.9 L512.3 216.3 L513.6 219.7 L514.9 223.3 L516.2 226.8 L517.5 230.3 L518.8 233.9 L520.1 237.4 L521.4 240.8 L522.7 244.2 L524.0 247.6 L525.2 250.8 L526.5 254.0 L527.8 257.0 L529.1 260.0 L530.4 262.8 L531.7 265.6 L533.0 268.2 L534.3 270.6 L535.6 273.0 L536.9 275.2 L538.2 277.4 L539.4 279.4 L540.7 281.2 L542.0 283.0 L543.3 284.6 L544.6 286.2 L545.9 287.6 L547.2 288.9 L548.5 290.2 L549.8 291.3 L551.1 292.4 L552.4 293.3 L553.6 294.2 L554.9 295.0 L556.2 295.8 L557.5 296.4 L558.8 297.0 L560.1 297.6 L561.4 298.1 L562.7 298.6 L564.0 299.0 L565.3 299.3 L566.6 299.7 L567.8 300.0 L569.1 300.2 L570.4 300.5 L571.7 300.7 L573.0 300.9 L574.3 301.0 L575.6 301.2 L576.9 301.3 L578.2 301.4 L579.5 301.5 L580.8 301.6 L582.1 301.7 L583.3 301.8 L584.6 301.8 L585.9 301.9 L587.2 301.9 L588.5 302.0 L589.8 302.0 L591.1 302.0 L592.4 302.1 L593.7 302.1 L595.0 302.1 L596.3 302.1 L597.5 302.1 L598.8 302.1 L600.1 302.1 L601.4 302.2 L602.7 302.2 L604.0 302.2" fill="none" stroke="#111" stroke-width="1.8"/>
<path d="M371.6 179.8V303.2M370.6 302.2H605.0" fill="none" stroke="#111" stroke-width="2"/>
<path d="M371.6 302.2h-5.2M371.6 284.7h-5.2M371.6 267.2h-5.2M371.6 249.7h-5.2M371.6 232.2h-5.2M371.6 214.8h-5.2M371.6 197.3h-5.2M371.6 179.8h-5.2M371.6 302.2v3.6M410.3 302.2v3.6M449.1 302.2v3.6M487.8 302.2v3.6M526.5 302.2v3.6M565.3 302.2v3.6M604.0 302.2v3.6" fill="none" stroke="#111" stroke-width="1.6"/>
<g transform="translate(346.28,305.31) scale(1.2,1)"><text font-size="9.3" fill="#2a2a2a" stroke="#2a2a2a" stroke-width="0.4">0.0</text></g>
<g transform="translate(346.45,287.82) scale(1.2,1)"><text font-size="9.3" fill="#2a2a2a" stroke="#2a2a2a" stroke-width="0.4">0.2</text></g>
<g transform="translate(346.22,270.33) scale(1.2,1)"><text font-size="9.3" fill="#2a2a2a" stroke="#2a2a2a" stroke-width="0.4">0.4</text></g>
<g transform="translate(346.33,252.84) scale(1.2,1)"><text font-size="9.3" fill="#2a2a2a" stroke="#2a2a2a" stroke-width="0.4">0.6</text></g>
<g transform="translate(346.33,235.35) scale(1.2,1)"><text font-size="9.3" fill="#2a2a2a" stroke="#2a2a2a" stroke-width="0.4">0.8</text></g>
<g transform="translate(346.28,217.86) scale(1.2,1)"><text font-size="9.3" fill="#2a2a2a" stroke="#2a2a2a" stroke-width="0.4">1.0</text><path d="M0.42 -1.19H2.22V1.2H0.42ZM3.28 -1.19H5.01V1.2H3.28Z" fill="#fff"/></g>
<g transform="translate(346.45,200.41) scale(1.2,1)"><text font-size="9.3" fill="#2a2a2a" stroke="#2a2a2a" stroke-width="0.4">1.2</text><path d="M0.42 -1.19H2.22V1.2H0.42ZM3.28 -1.19H5.01V1.2H3.28Z" fill="#fff"/></g>
<g transform="translate(346.22,182.88) scale(1.2,1)"><text font-size="9.3" fill="#2a2a2a" stroke="#2a2a2a" stroke-width="0.4">1.4</text><path d="M0.42 -1.19H2.22V1.2H0.42ZM3.28 -1.19H5.01V1.2H3.28Z" fill="#fff"/></g>
<g transform="translate(368.48,317.21) scale(1.2,1)"><text font-size="9.3" fill="#2a2a2a" stroke="#2a2a2a" stroke-width="0.4">0</text></g>
<g transform="translate(403.94,317.16) scale(1.2,1)"><text font-size="9.3" fill="#2a2a2a" stroke="#2a2a2a" stroke-width="0.4">15</text><path d="M0.42 -1.19H2.22V1.2H0.42ZM3.28 -1.19H5.01V1.2H3.28Z" fill="#fff"/></g>
<g transform="translate(442.84,317.21) scale(1.2,1)"><text font-size="9.3" fill="#2a2a2a" stroke="#2a2a2a" stroke-width="0.4">30</text></g>
<g transform="translate(481.72,317.16) scale(1.2,1)"><text font-size="9.3" fill="#2a2a2a" stroke="#2a2a2a" stroke-width="0.4">45</text></g>
<g transform="translate(520.26,317.21) scale(1.2,1)"><text font-size="9.3" fill="#2a2a2a" stroke="#2a2a2a" stroke-width="0.4">60</text></g>
<g transform="translate(559.02,317.16) scale(1.2,1)"><text font-size="9.3" fill="#2a2a2a" stroke="#2a2a2a" stroke-width="0.4">75</text></g>
<g transform="translate(597.75,317.21) scale(1.2,1)"><text font-size="9.3" fill="#2a2a2a" stroke="#2a2a2a" stroke-width="0.4">90</text></g>
<g transform="translate(435.03,334.29) scale(1.14,1)"><text font-size="12" font-weight="bold" fill="#111" stroke="#111">Ply Angle (Degrees)</text></g>
<g transform="translate(331.60,264.40) rotate(-90) translate(-1.97,3.35) scale(1.15,1)"><text font-size="10.4" font-weight="bold" fill="#111" stroke="#111">t</text></g>
<g transform="translate(336.60,258.70) rotate(-90) translate(-4.26,2.50) scale(0.95,1)"><text font-size="7" font-weight="bold" fill="#111" stroke="#111">int</text></g>
<g transform="translate(332.80,231.30) rotate(-90) translate(-16.28,2.65) scale(1.16,1)"><text font-size="10.3" font-weight="bold" fill="#111" stroke="#111">(MPa)</text></g>
<path d="M386.6 182.8h15" fill="none" stroke="#111" stroke-width="2" stroke-dasharray="1.8 5.1"/>
<path d="M386.4 197h17.2" fill="none" stroke="#111" stroke-width="1.8" stroke-dasharray="6 5.2"/>
<path d="M386.4 211h17.2" fill="none" stroke="#111" stroke-width="1.9"/>
<g transform="translate(413.02,186.10) scale(1.17,1)"><text font-size="10" fill="#2a2a2a" stroke="#2a2a2a" stroke-width="0.35">2w</text></g>
<g transform="translate(412.97,200.30) scale(1.17,1)"><text font-size="10" fill="#2a2a2a" stroke="#2a2a2a" stroke-width="0.35">6w</text></g>
<g transform="translate(413.58,214.35) scale(1.17,1)"><text font-size="10" fill="#2a2a2a" stroke="#2a2a2a" stroke-width="0.35">10w</text><path d="M0.46 -1.25H2.39V1.2H0.46ZM3.52 -1.25H5.37V1.2H3.52Z" fill="#fff"/></g>
</svg>
</body></html>
